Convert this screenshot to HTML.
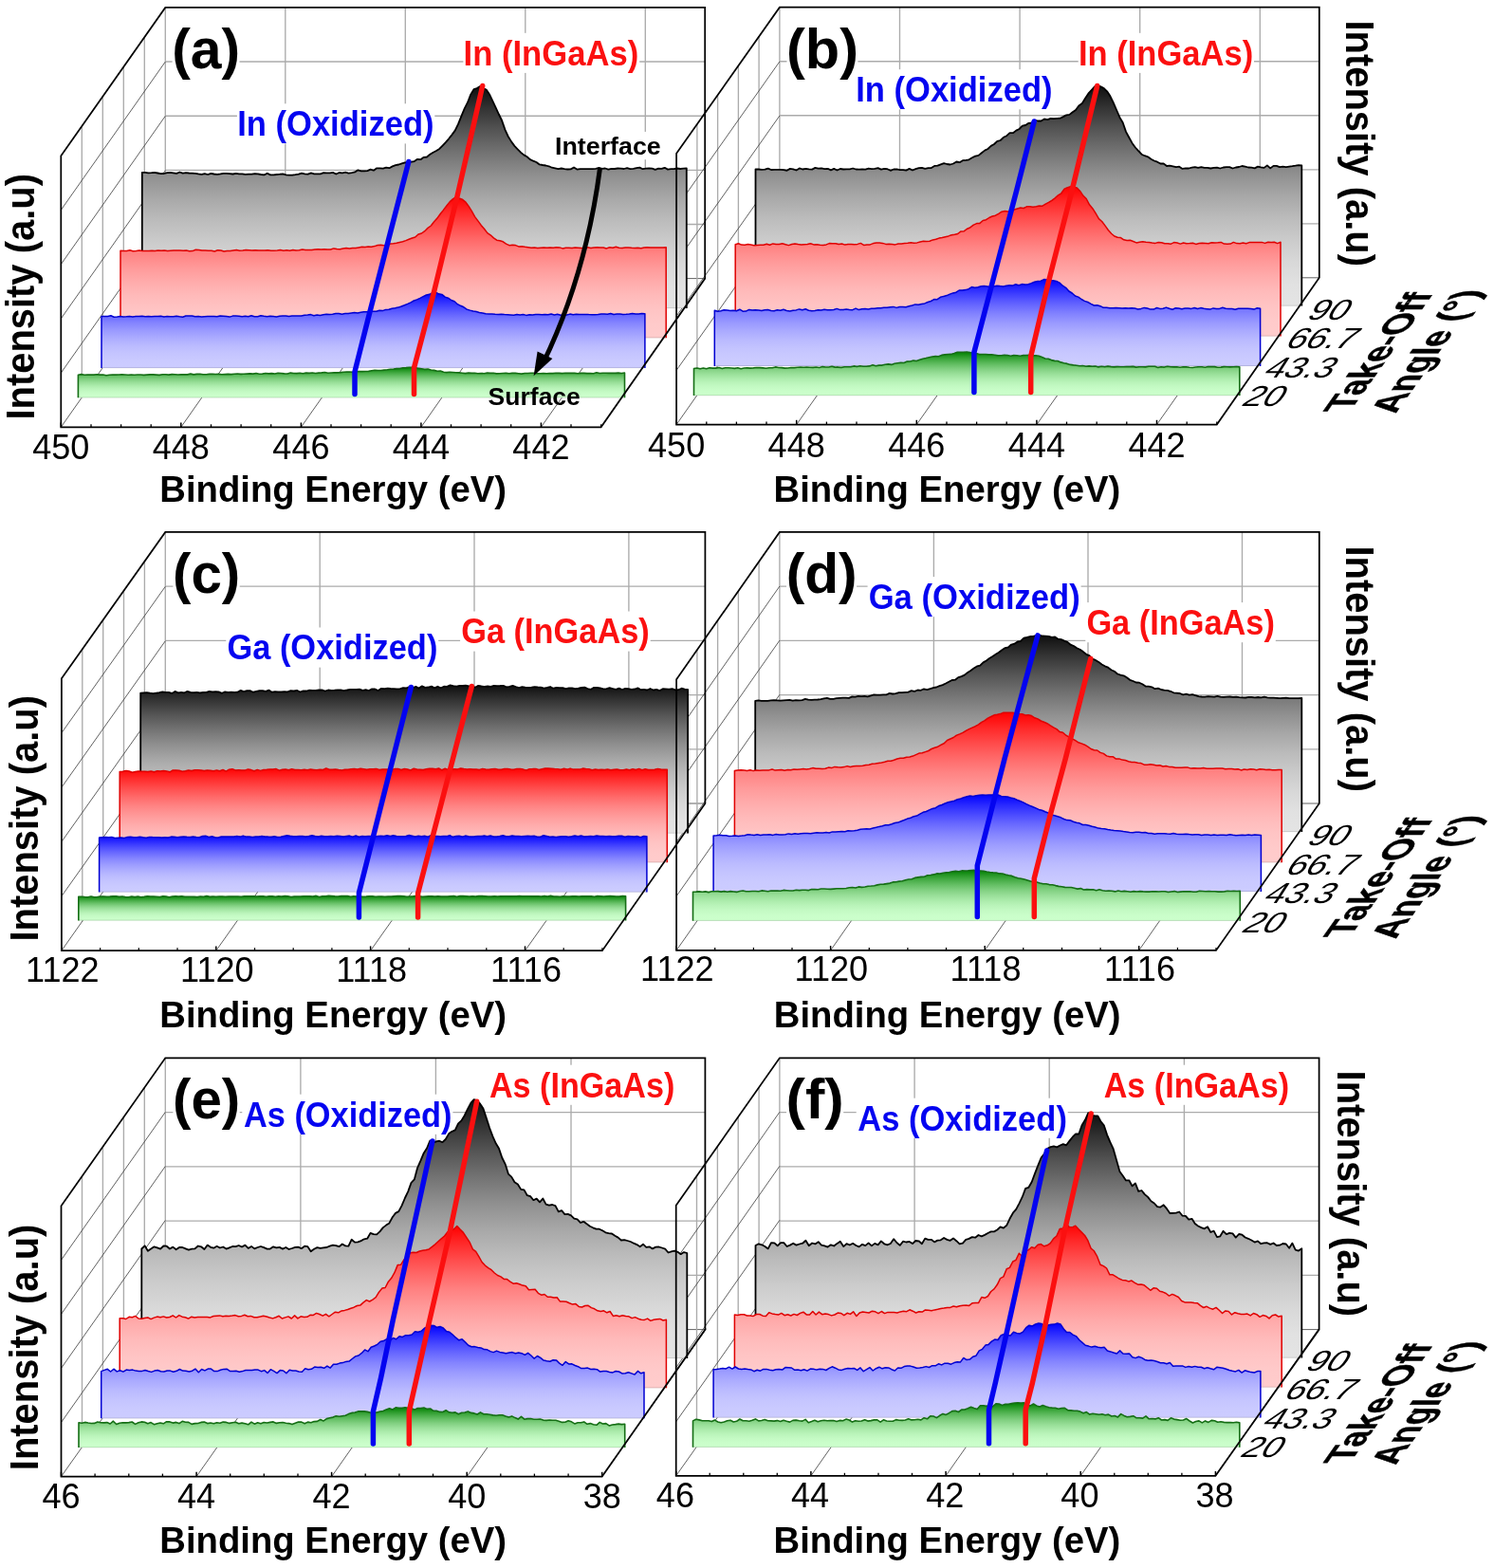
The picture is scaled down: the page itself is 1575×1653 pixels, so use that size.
<!DOCTYPE html>
<html lang="en">
<head>
<meta charset="utf-8">
<title>Angle-resolved XPS of InGaAs: In, Ga and As core levels</title>
<style>
html,body{margin:0;padding:0;background:#fff;}
body{width:1575px;height:1653px;overflow:hidden;font-family:"Liberation Sans", Arial, Helvetica, sans-serif;}
svg{display:block;}
</style>
</head>
<body>
<svg width="1575" height="1653" viewBox="0 0 1575 1653" font-family='"Liberation Sans", Arial, Helvetica, sans-serif'>
<defs><linearGradient id="Gk" x1="0" y1="0" x2="0" y2="1"><stop offset="0" stop-color="#0e0e0e"/><stop offset="0.1" stop-color="#333333"/><stop offset="0.2" stop-color="#555555"/><stop offset="0.3" stop-color="#737373"/><stop offset="0.4" stop-color="#8f8f8f"/><stop offset="0.5" stop-color="#a7a7a7"/><stop offset="0.6" stop-color="#bbbbbb"/><stop offset="0.7" stop-color="#cbcbcb"/><stop offset="0.8" stop-color="#d8d8d8"/><stop offset="0.9" stop-color="#e1e1e1"/><stop offset="1" stop-color="#e4e4e4"/></linearGradient><linearGradient id="Gr" x1="0" y1="0" x2="0" y2="1"><stop offset="0" stop-color="#ff0000"/><stop offset="0.1" stop-color="#ff2727"/><stop offset="0.2" stop-color="#ff4949"/><stop offset="0.3" stop-color="#ff6868"/><stop offset="0.4" stop-color="#ff8383"/><stop offset="0.5" stop-color="#ff9999"/><stop offset="0.6" stop-color="#ffabab"/><stop offset="0.7" stop-color="#ffbaba"/><stop offset="0.8" stop-color="#ffc4c4"/><stop offset="0.9" stop-color="#ffcaca"/><stop offset="1" stop-color="#ffcccc"/></linearGradient><linearGradient id="Gb" x1="0" y1="0" x2="0" y2="1"><stop offset="0" stop-color="#0000ff"/><stop offset="0.1" stop-color="#2727ff"/><stop offset="0.2" stop-color="#4949ff"/><stop offset="0.3" stop-color="#6868ff"/><stop offset="0.4" stop-color="#8383ff"/><stop offset="0.5" stop-color="#9999ff"/><stop offset="0.6" stop-color="#ababff"/><stop offset="0.7" stop-color="#babaff"/><stop offset="0.8" stop-color="#c4c4ff"/><stop offset="0.9" stop-color="#cacaff"/><stop offset="1" stop-color="#ccccff"/></linearGradient><linearGradient id="Gg" x1="0" y1="0" x2="0" y2="1"><stop offset="0" stop-color="#008000"/><stop offset="0.1" stop-color="#279827"/><stop offset="0.2" stop-color="#49ae49"/><stop offset="0.3" stop-color="#68c168"/><stop offset="0.4" stop-color="#83d183"/><stop offset="0.5" stop-color="#99df99"/><stop offset="0.6" stop-color="#abebab"/><stop offset="0.7" stop-color="#baf4ba"/><stop offset="0.8" stop-color="#c4fac4"/><stop offset="0.9" stop-color="#cafeca"/><stop offset="1" stop-color="#ccffcc"/></linearGradient><marker id="ah" markerUnits="userSpaceOnUse" markerWidth="30" markerHeight="30" refX="0" refY="0" viewBox="-15 -15 30 30" orient="auto"><path d="M-14 -8.5 L6 0 L-14 8.5 Z" fill="#000"/></marker></defs>
<rect width="1575" height="1653" fill="#fff"/>
<g id="grid-a"><line x1="174.3" y1="65" x2="743.2" y2="65" stroke="#ababab" stroke-width="1.35" />
<line x1="174.3" y1="122.2" x2="743.2" y2="122.2" stroke="#ababab" stroke-width="1.35" />
<line x1="174.3" y1="179.3" x2="743.2" y2="179.3" stroke="#ababab" stroke-width="1.35" />
<line x1="174.3" y1="236.5" x2="743.2" y2="236.5" stroke="#ababab" stroke-width="1.35" />
<line x1="174.3" y1="293.6" x2="743.2" y2="293.6" stroke="#454545" stroke-width="0.85" />
<line x1="174.3" y1="7.9" x2="174.3" y2="293.6" stroke="#ababab" stroke-width="1.35" />
<line x1="300.8" y1="7.9" x2="300.8" y2="293.6" stroke="#ababab" stroke-width="1.35" />
<line x1="427.3" y1="7.9" x2="427.3" y2="293.6" stroke="#ababab" stroke-width="1.35" />
<line x1="553.8" y1="7.9" x2="553.8" y2="293.6" stroke="#ababab" stroke-width="1.35" />
<line x1="680.3" y1="7.9" x2="680.3" y2="293.6" stroke="#ababab" stroke-width="1.35" />
<line x1="86.3" y1="132.9" x2="86.3" y2="419" stroke="#ababab" stroke-width="1.35" />
<line x1="108.3" y1="101.7" x2="108.3" y2="387.8" stroke="#ababab" stroke-width="1.35" />
<line x1="130.3" y1="70.4" x2="130.3" y2="356.5" stroke="#ababab" stroke-width="1.35" />
<line x1="152.3" y1="39.2" x2="152.3" y2="325.3" stroke="#ababab" stroke-width="1.35" />
<line x1="64.3" y1="221.4" x2="174.3" y2="65.1" stroke="#454545" stroke-width="0.85" />
<line x1="64.3" y1="278.6" x2="174.3" y2="122.3" stroke="#454545" stroke-width="0.85" />
<line x1="64.3" y1="335.9" x2="174.3" y2="179.6" stroke="#454545" stroke-width="0.85" />
<line x1="64.3" y1="393.1" x2="174.3" y2="236.8" stroke="#454545" stroke-width="0.85" />
<line x1="64.3" y1="450.3" x2="174.3" y2="293.6" stroke="#454545" stroke-width="0.85" />
<line x1="190.8" y1="450.3" x2="300.8" y2="294" stroke="#454545" stroke-width="0.85" />
<line x1="317.4" y1="450.3" x2="427.3" y2="294" stroke="#454545" stroke-width="0.85" />
<line x1="443.9" y1="450.3" x2="553.8" y2="294" stroke="#454545" stroke-width="0.85" />
<line x1="570.4" y1="450.3" x2="680.3" y2="294" stroke="#454545" stroke-width="0.85" /></g>
<g id="grid-b"><line x1="821.9" y1="64.7" x2="1390.8" y2="64.7" stroke="#ababab" stroke-width="1.35" />
<line x1="821.9" y1="121.7" x2="1390.8" y2="121.7" stroke="#ababab" stroke-width="1.35" />
<line x1="821.9" y1="178.8" x2="1390.8" y2="178.8" stroke="#ababab" stroke-width="1.35" />
<line x1="821.9" y1="235.8" x2="1390.8" y2="235.8" stroke="#ababab" stroke-width="1.35" />
<line x1="821.9" y1="292.8" x2="1390.8" y2="292.8" stroke="#454545" stroke-width="0.85" />
<line x1="821.9" y1="7.7" x2="821.9" y2="292.8" stroke="#ababab" stroke-width="1.35" />
<line x1="948.5" y1="7.7" x2="948.5" y2="292.8" stroke="#ababab" stroke-width="1.35" />
<line x1="1075.1" y1="7.7" x2="1075.1" y2="292.8" stroke="#ababab" stroke-width="1.35" />
<line x1="1201.7" y1="7.7" x2="1201.7" y2="292.8" stroke="#ababab" stroke-width="1.35" />
<line x1="1328.3" y1="7.7" x2="1328.3" y2="292.8" stroke="#ababab" stroke-width="1.35" />
<line x1="734.9" y1="131" x2="734.9" y2="416.8" stroke="#ababab" stroke-width="1.35" />
<line x1="756.6" y1="100.2" x2="756.6" y2="386" stroke="#ababab" stroke-width="1.35" />
<line x1="778.4" y1="69.3" x2="778.4" y2="355.1" stroke="#ababab" stroke-width="1.35" />
<line x1="800.1" y1="38.5" x2="800.1" y2="324.3" stroke="#ababab" stroke-width="1.35" />
<line x1="713.1" y1="219" x2="821.9" y2="64.9" stroke="#454545" stroke-width="0.85" />
<line x1="713.1" y1="276.1" x2="821.9" y2="122" stroke="#454545" stroke-width="0.85" />
<line x1="713.1" y1="333.3" x2="821.9" y2="179.2" stroke="#454545" stroke-width="0.85" />
<line x1="713.1" y1="390.4" x2="821.9" y2="236.3" stroke="#454545" stroke-width="0.85" />
<line x1="713.1" y1="447.6" x2="821.9" y2="292.8" stroke="#454545" stroke-width="0.85" />
<line x1="839.7" y1="447.6" x2="948.5" y2="293.5" stroke="#454545" stroke-width="0.85" />
<line x1="966.3" y1="447.6" x2="1075.1" y2="293.5" stroke="#454545" stroke-width="0.85" />
<line x1="1092.9" y1="447.6" x2="1201.7" y2="293.5" stroke="#454545" stroke-width="0.85" />
<line x1="1219.5" y1="447.6" x2="1328.3" y2="293.5" stroke="#454545" stroke-width="0.85" /></g>
<g id="grid-c"><line x1="174.3" y1="618.1" x2="743.4" y2="618.1" stroke="#ababab" stroke-width="1.35" />
<line x1="174.3" y1="675.3" x2="743.4" y2="675.3" stroke="#ababab" stroke-width="1.35" />
<line x1="174.3" y1="732.6" x2="743.4" y2="732.6" stroke="#ababab" stroke-width="1.35" />
<line x1="174.3" y1="789.8" x2="743.4" y2="789.8" stroke="#ababab" stroke-width="1.35" />
<line x1="174.3" y1="847" x2="743.4" y2="847" stroke="#454545" stroke-width="0.85" />
<line x1="174.3" y1="560.9" x2="174.3" y2="847" stroke="#ababab" stroke-width="1.35" />
<line x1="337.2" y1="560.9" x2="337.2" y2="847" stroke="#ababab" stroke-width="1.35" />
<line x1="500" y1="560.9" x2="500" y2="847" stroke="#ababab" stroke-width="1.35" />
<line x1="662.9" y1="560.9" x2="662.9" y2="847" stroke="#ababab" stroke-width="1.35" />
<line x1="86.8" y1="684.4" x2="86.8" y2="971.3" stroke="#ababab" stroke-width="1.35" />
<line x1="108.7" y1="653.5" x2="108.7" y2="940.4" stroke="#ababab" stroke-width="1.35" />
<line x1="130.5" y1="622.7" x2="130.5" y2="909.6" stroke="#ababab" stroke-width="1.35" />
<line x1="152.4" y1="591.8" x2="152.4" y2="878.7" stroke="#ababab" stroke-width="1.35" />
<line x1="64.9" y1="772.7" x2="174.3" y2="618.3" stroke="#454545" stroke-width="0.85" />
<line x1="64.9" y1="830.1" x2="174.3" y2="675.7" stroke="#454545" stroke-width="0.85" />
<line x1="64.9" y1="887.4" x2="174.3" y2="733" stroke="#454545" stroke-width="0.85" />
<line x1="64.9" y1="944.8" x2="174.3" y2="790.4" stroke="#454545" stroke-width="0.85" />
<line x1="64.9" y1="1002.2" x2="174.3" y2="847" stroke="#454545" stroke-width="0.85" />
<line x1="227.8" y1="1002.2" x2="337.2" y2="847.8" stroke="#454545" stroke-width="0.85" />
<line x1="390.6" y1="1002.2" x2="500" y2="847.8" stroke="#454545" stroke-width="0.85" />
<line x1="553.5" y1="1002.2" x2="662.9" y2="847.8" stroke="#454545" stroke-width="0.85" /></g>
<g id="grid-d"><line x1="821.9" y1="618.1" x2="1390.8" y2="618.1" stroke="#ababab" stroke-width="1.35" />
<line x1="821.9" y1="675.3" x2="1390.8" y2="675.3" stroke="#ababab" stroke-width="1.35" />
<line x1="821.9" y1="732.6" x2="1390.8" y2="732.6" stroke="#ababab" stroke-width="1.35" />
<line x1="821.9" y1="789.8" x2="1390.8" y2="789.8" stroke="#ababab" stroke-width="1.35" />
<line x1="821.9" y1="847" x2="1390.8" y2="847" stroke="#454545" stroke-width="0.85" />
<line x1="821.9" y1="560.9" x2="821.9" y2="847" stroke="#ababab" stroke-width="1.35" />
<line x1="984.4" y1="560.9" x2="984.4" y2="847" stroke="#ababab" stroke-width="1.35" />
<line x1="1147" y1="560.9" x2="1147" y2="847" stroke="#ababab" stroke-width="1.35" />
<line x1="1309.5" y1="560.9" x2="1309.5" y2="847" stroke="#ababab" stroke-width="1.35" />
<line x1="734.9" y1="685.2" x2="734.9" y2="970.8" stroke="#ababab" stroke-width="1.35" />
<line x1="756.6" y1="654.1" x2="756.6" y2="939.7" stroke="#ababab" stroke-width="1.35" />
<line x1="778.4" y1="623.1" x2="778.4" y2="908.7" stroke="#ababab" stroke-width="1.35" />
<line x1="800.1" y1="592" x2="800.1" y2="877.6" stroke="#ababab" stroke-width="1.35" />
<line x1="713.1" y1="773.4" x2="821.9" y2="618" stroke="#454545" stroke-width="0.85" />
<line x1="713.1" y1="830.5" x2="821.9" y2="675.1" stroke="#454545" stroke-width="0.85" />
<line x1="713.1" y1="887.7" x2="821.9" y2="732.3" stroke="#454545" stroke-width="0.85" />
<line x1="713.1" y1="944.8" x2="821.9" y2="789.4" stroke="#454545" stroke-width="0.85" />
<line x1="713.1" y1="1001.9" x2="821.9" y2="847" stroke="#454545" stroke-width="0.85" />
<line x1="875.6" y1="1001.9" x2="984.4" y2="846.5" stroke="#454545" stroke-width="0.85" />
<line x1="1038.2" y1="1001.9" x2="1147" y2="846.5" stroke="#454545" stroke-width="0.85" />
<line x1="1200.7" y1="1001.9" x2="1309.5" y2="846.5" stroke="#454545" stroke-width="0.85" /></g>
<g id="grid-e"><line x1="174.3" y1="1172.6" x2="743.4" y2="1172.6" stroke="#ababab" stroke-width="1.35" />
<line x1="174.3" y1="1229.8" x2="743.4" y2="1229.8" stroke="#ababab" stroke-width="1.35" />
<line x1="174.3" y1="1287.1" x2="743.4" y2="1287.1" stroke="#ababab" stroke-width="1.35" />
<line x1="174.3" y1="1344.3" x2="743.4" y2="1344.3" stroke="#ababab" stroke-width="1.35" />
<line x1="174.3" y1="1401.6" x2="743.4" y2="1401.6" stroke="#454545" stroke-width="0.85" />
<line x1="174.3" y1="1115.3" x2="174.3" y2="1401.6" stroke="#ababab" stroke-width="1.35" />
<line x1="316.9" y1="1115.3" x2="316.9" y2="1401.6" stroke="#ababab" stroke-width="1.35" />
<line x1="459.4" y1="1115.3" x2="459.4" y2="1401.6" stroke="#ababab" stroke-width="1.35" />
<line x1="602" y1="1115.3" x2="602" y2="1401.6" stroke="#ababab" stroke-width="1.35" />
<line x1="86.5" y1="1240" x2="86.5" y2="1525.4" stroke="#ababab" stroke-width="1.35" />
<line x1="108.4" y1="1208.8" x2="108.4" y2="1494.2" stroke="#ababab" stroke-width="1.35" />
<line x1="130.4" y1="1177.7" x2="130.4" y2="1463.1" stroke="#ababab" stroke-width="1.35" />
<line x1="152.3" y1="1146.5" x2="152.3" y2="1431.9" stroke="#ababab" stroke-width="1.35" />
<line x1="64.5" y1="1328.3" x2="174.3" y2="1172.4" stroke="#454545" stroke-width="0.85" />
<line x1="64.5" y1="1385.4" x2="174.3" y2="1229.5" stroke="#454545" stroke-width="0.85" />
<line x1="64.5" y1="1442.4" x2="174.3" y2="1286.5" stroke="#454545" stroke-width="0.85" />
<line x1="64.5" y1="1499.5" x2="174.3" y2="1343.6" stroke="#454545" stroke-width="0.85" />
<line x1="64.5" y1="1556.6" x2="174.3" y2="1401.6" stroke="#454545" stroke-width="0.85" />
<line x1="207.1" y1="1556.6" x2="316.9" y2="1400.7" stroke="#454545" stroke-width="0.85" />
<line x1="349.6" y1="1556.6" x2="459.4" y2="1400.7" stroke="#454545" stroke-width="0.85" />
<line x1="492.2" y1="1556.6" x2="602" y2="1400.7" stroke="#454545" stroke-width="0.85" />
<line x1="634.7" y1="1556.6" x2="744.5" y2="1400.7" stroke="#454545" stroke-width="0.85" /></g>
<g id="grid-f"><line x1="821.9" y1="1172.6" x2="1390.6" y2="1172.6" stroke="#ababab" stroke-width="1.35" />
<line x1="821.9" y1="1229.8" x2="1390.6" y2="1229.8" stroke="#ababab" stroke-width="1.35" />
<line x1="821.9" y1="1287.1" x2="1390.6" y2="1287.1" stroke="#ababab" stroke-width="1.35" />
<line x1="821.9" y1="1344.3" x2="1390.6" y2="1344.3" stroke="#ababab" stroke-width="1.35" />
<line x1="821.9" y1="1401.6" x2="1390.6" y2="1401.6" stroke="#454545" stroke-width="0.85" />
<line x1="821.9" y1="1115.3" x2="821.9" y2="1401.6" stroke="#ababab" stroke-width="1.35" />
<line x1="964.1" y1="1115.3" x2="964.1" y2="1401.6" stroke="#ababab" stroke-width="1.35" />
<line x1="1106.2" y1="1115.3" x2="1106.2" y2="1401.6" stroke="#ababab" stroke-width="1.35" />
<line x1="1248.4" y1="1115.3" x2="1248.4" y2="1401.6" stroke="#ababab" stroke-width="1.35" />
<line x1="734.5" y1="1239.7" x2="734.5" y2="1524.7" stroke="#ababab" stroke-width="1.35" />
<line x1="756.4" y1="1208.6" x2="756.4" y2="1493.6" stroke="#ababab" stroke-width="1.35" />
<line x1="778.2" y1="1177.5" x2="778.2" y2="1462.5" stroke="#ababab" stroke-width="1.35" />
<line x1="800.1" y1="1146.4" x2="800.1" y2="1431.4" stroke="#ababab" stroke-width="1.35" />
<line x1="712.7" y1="1327.8" x2="821.9" y2="1172.3" stroke="#454545" stroke-width="0.85" />
<line x1="712.7" y1="1384.8" x2="821.9" y2="1229.3" stroke="#454545" stroke-width="0.85" />
<line x1="712.7" y1="1441.8" x2="821.9" y2="1286.3" stroke="#454545" stroke-width="0.85" />
<line x1="712.7" y1="1498.8" x2="821.9" y2="1343.3" stroke="#454545" stroke-width="0.85" />
<line x1="712.7" y1="1555.8" x2="821.9" y2="1401.6" stroke="#454545" stroke-width="0.85" />
<line x1="854.9" y1="1555.8" x2="964.1" y2="1400.3" stroke="#454545" stroke-width="0.85" />
<line x1="997.1" y1="1555.8" x2="1106.2" y2="1400.3" stroke="#454545" stroke-width="0.85" />
<line x1="1139.2" y1="1555.8" x2="1248.4" y2="1400.3" stroke="#454545" stroke-width="0.85" />
<line x1="1281.4" y1="1555.8" x2="1390.6" y2="1400.3" stroke="#454545" stroke-width="0.85" /></g>
<g id="label-bg"><rect x="181.6" y="17.5" width="70.9" height="67.2" fill="#fff"/><rect x="249.9" y="109.3" width="208.4" height="42.1" fill="#fff"/><rect x="488.4" y="34.8" width="185.8" height="42.1" fill="#fff"/><rect x="584.2" y="138.9" width="114.2" height="29.3" fill="#fff"/><rect x="829.5" y="17.5" width="74.9" height="67.2" fill="#fff"/><rect x="901.9" y="73.2" width="208.4" height="42.1" fill="#fff"/><rect x="1136.7" y="34.8" width="185.3" height="42.1" fill="#fff"/><rect x="182.4" y="571.3" width="70.3" height="67.2" fill="#fff"/><rect x="238.3" y="661.5" width="223.9" height="42.1" fill="#fff"/><rect x="485.1" y="644.5" width="200.6" height="42.1" fill="#fff"/><rect x="829.1" y="571.3" width="74" height="67.2" fill="#fff"/><rect x="914.6" y="608.1" width="225" height="42.1" fill="#fff"/><rect x="1144.3" y="635.1" width="200.5" height="42.1" fill="#fff"/><rect x="182.4" y="1125.1" width="70.3" height="67.2" fill="#fff"/><rect x="255.3" y="1153.7" width="222.1" height="42.1" fill="#fff"/><rect x="514.3" y="1122.7" width="198" height="42.1" fill="#fff"/><rect x="829.1" y="1125.1" width="60.1" height="67.2" fill="#fff"/><rect x="902.7" y="1157.7" width="223" height="42.1" fill="#fff"/><rect x="1162.1" y="1122.7" width="198" height="42.1" fill="#fff"/></g>
<g id="panel-a"><path d="M149.8 325 L149.8 181.8 L153.1 181.8 L156.4 182.4 L159.7 182.2 L163 181.9 L166.3 182.5 L169.6 183.2 L172.9 183 L176.2 182.1 L179.5 181.8 L182.8 182.3 L186.1 182.8 L189.4 181.5 L192.7 182.7 L196 182.2 L199.3 182.5 L202.6 182.7 L205.9 182.9 L209.2 183.4 L212.5 183.8 L215.8 183.1 L219.1 184 L222.4 182.8 L225.7 183.5 L229 183.8 L232.3 183.4 L235.6 182.9 L238.9 182.8 L242.2 183.1 L245.5 183.5 L248.8 182.8 L252.1 183.3 L255.4 183.4 L258.7 183.8 L262 183.6 L265.3 183.7 L268.6 183.1 L271.9 183.4 L275.2 184 L278.5 184.4 L281.8 182.7 L285.1 184.4 L288.4 184.3 L291.7 184 L294.9 183.7 L298.2 183.3 L301.5 184.4 L304.8 184.7 L308.1 184.6 L311.4 184.2 L314.7 183.6 L318 182.6 L321.3 183.3 L324.6 183.6 L327.9 182.4 L331.2 183.4 L334.5 183.3 L337.8 183.4 L341.1 182.2 L344.4 182.4 L347.7 182.4 L351 181.9 L354.3 183.5 L357.6 182 L360.9 182.3 L364.2 181.7 L367.5 182.6 L370.8 182.1 L374.1 181.4 L377.4 179.3 L380.7 180.3 L384 180.3 L387.3 180.1 L390.6 178.7 L393.9 179.7 L397.2 177.3 L400.5 177.3 L403.8 177.7 L407.1 176.6 L410.4 177.2 L413.7 175.4 L417 174.2 L420.3 173.5 L423.6 172.3 L426.9 171.3 L430.2 171.5 L433.5 170.6 L436.8 170.1 L440.1 167.8 L443.4 168.2 L446.7 165.8 L450 165.5 L453.3 162.8 L456.6 160.7 L459.9 159 L463.2 156.9 L466.5 153.6 L469.8 150.2 L473.1 146.3 L476.4 142.1 L479.7 137.6 L483 130.9 L486.3 122.6 L489.6 114.6 L492.9 108.2 L496.2 99.6 L499.5 94.1 L502.8 93 L506.1 91 L509.4 93.1 L512.7 94.5 L516 99.4 L519.3 106.4 L522.6 113.3 L525.9 120.5 L529.2 127.2 L532.5 136.9 L535.8 144 L539.1 149.4 L542.4 153.9 L545.7 157.3 L549 160.7 L552.3 163.4 L555.6 165.2 L558.9 168.1 L562.2 169.7 L565.5 171 L568.8 173.4 L572.1 174 L575.4 174.5 L578.7 175.3 L581.9 176.7 L585.2 177.3 L588.5 178.2 L591.8 177.5 L595.1 178.2 L598.4 178.5 L601.7 178.4 L605 176.5 L608.3 178.6 L611.6 178.1 L614.9 178.2 L618.2 178.2 L621.5 178.2 L624.8 178.2 L628.1 177.8 L631.4 176.9 L634.7 177.9 L638 177.5 L641.3 178.6 L644.6 177.8 L647.9 178 L651.2 177.5 L654.5 177.7 L657.8 178 L661.1 177.1 L664.4 178.1 L667.7 177.9 L671 177.2 L674.3 176.6 L677.6 178.2 L680.9 177.7 L684.2 177.5 L687.5 177.7 L690.8 178.9 L694.1 177.7 L697.4 177.8 L700.7 176.8 L704 178.6 L707.3 178.2 L710.6 178.2 L713.9 177.5 L717.2 178 L720.5 177.6 L723.8 177.3 L723.8 325 Z" fill="url(#Gk)"/>
<path d="M149.8 325 L149.8 181.8 L153.1 181.8 L156.4 182.4 L159.7 182.2 L163 181.9 L166.3 182.5 L169.6 183.2 L172.9 183 L176.2 182.1 L179.5 181.8 L182.8 182.3 L186.1 182.8 L189.4 181.5 L192.7 182.7 L196 182.2 L199.3 182.5 L202.6 182.7 L205.9 182.9 L209.2 183.4 L212.5 183.8 L215.8 183.1 L219.1 184 L222.4 182.8 L225.7 183.5 L229 183.8 L232.3 183.4 L235.6 182.9 L238.9 182.8 L242.2 183.1 L245.5 183.5 L248.8 182.8 L252.1 183.3 L255.4 183.4 L258.7 183.8 L262 183.6 L265.3 183.7 L268.6 183.1 L271.9 183.4 L275.2 184 L278.5 184.4 L281.8 182.7 L285.1 184.4 L288.4 184.3 L291.7 184 L294.9 183.7 L298.2 183.3 L301.5 184.4 L304.8 184.7 L308.1 184.6 L311.4 184.2 L314.7 183.6 L318 182.6 L321.3 183.3 L324.6 183.6 L327.9 182.4 L331.2 183.4 L334.5 183.3 L337.8 183.4 L341.1 182.2 L344.4 182.4 L347.7 182.4 L351 181.9 L354.3 183.5 L357.6 182 L360.9 182.3 L364.2 181.7 L367.5 182.6 L370.8 182.1 L374.1 181.4 L377.4 179.3 L380.7 180.3 L384 180.3 L387.3 180.1 L390.6 178.7 L393.9 179.7 L397.2 177.3 L400.5 177.3 L403.8 177.7 L407.1 176.6 L410.4 177.2 L413.7 175.4 L417 174.2 L420.3 173.5 L423.6 172.3 L426.9 171.3 L430.2 171.5 L433.5 170.6 L436.8 170.1 L440.1 167.8 L443.4 168.2 L446.7 165.8 L450 165.5 L453.3 162.8 L456.6 160.7 L459.9 159 L463.2 156.9 L466.5 153.6 L469.8 150.2 L473.1 146.3 L476.4 142.1 L479.7 137.6 L483 130.9 L486.3 122.6 L489.6 114.6 L492.9 108.2 L496.2 99.6 L499.5 94.1 L502.8 93 L506.1 91 L509.4 93.1 L512.7 94.5 L516 99.4 L519.3 106.4 L522.6 113.3 L525.9 120.5 L529.2 127.2 L532.5 136.9 L535.8 144 L539.1 149.4 L542.4 153.9 L545.7 157.3 L549 160.7 L552.3 163.4 L555.6 165.2 L558.9 168.1 L562.2 169.7 L565.5 171 L568.8 173.4 L572.1 174 L575.4 174.5 L578.7 175.3 L581.9 176.7 L585.2 177.3 L588.5 178.2 L591.8 177.5 L595.1 178.2 L598.4 178.5 L601.7 178.4 L605 176.5 L608.3 178.6 L611.6 178.1 L614.9 178.2 L618.2 178.2 L621.5 178.2 L624.8 178.2 L628.1 177.8 L631.4 176.9 L634.7 177.9 L638 177.5 L641.3 178.6 L644.6 177.8 L647.9 178 L651.2 177.5 L654.5 177.7 L657.8 178 L661.1 177.1 L664.4 178.1 L667.7 177.9 L671 177.2 L674.3 176.6 L677.6 178.2 L680.9 177.7 L684.2 177.5 L687.5 177.7 L690.8 178.9 L694.1 177.7 L697.4 177.8 L700.7 176.8 L704 178.6 L707.3 178.2 L710.6 178.2 L713.9 177.5 L717.2 178 L720.5 177.6 L723.8 177.3 L723.8 325" fill="none" stroke="#000000" stroke-width="1.8" stroke-linejoin="round"/>
<path d="M149.8 324.7 H723.8" fill="none" stroke="#000" stroke-opacity="0.13" stroke-width="1"/>
<path d="M127 356.2 L127 264.3 L130.3 264.6 L133.6 264.4 L136.9 263.8 L140.2 264.7 L143.5 264.5 L146.8 264.1 L150.1 264.5 L153.4 264.4 L156.8 264.4 L160.1 264.3 L163.4 264.5 L166.7 264 L170 264.2 L173.3 264.1 L176.6 264.5 L179.9 264.3 L183.2 264.1 L186.5 263.9 L189.8 264.1 L193.1 264.3 L196.4 264.1 L199.7 264.8 L203 264.6 L206.3 263.3 L209.6 263.5 L212.9 264.1 L216.3 264 L219.6 264.3 L222.9 264.3 L226.2 265 L229.5 263.7 L232.8 264 L236.1 265 L239.4 264.4 L242.7 264.4 L246 263.9 L249.3 263.5 L252.6 264.2 L255.9 264.1 L259.2 263.6 L262.5 263.8 L265.8 264 L269.1 263.7 L272.5 264 L275.8 264 L279.1 264 L282.4 263.8 L285.7 264.2 L289 264.3 L292.3 264.1 L295.6 263.6 L298.9 264.2 L302.2 263.7 L305.5 264.2 L308.8 263.4 L312.1 264.1 L315.4 263.7 L318.7 263.1 L322 263.4 L325.3 263.5 L328.7 263.5 L332 262.9 L335.3 262.7 L338.6 263.1 L341.9 262.7 L345.2 262.9 L348.5 263 L351.8 261.9 L355.1 262.5 L358.4 262.8 L361.7 262 L365 261.6 L368.3 262 L371.6 261.6 L374.9 261.6 L378.2 260.9 L381.5 260.2 L384.8 260.4 L388.2 260 L391.5 260.2 L394.8 259.6 L398.1 258.5 L401.4 258.3 L404.7 258.8 L408 258.2 L411.3 257.1 L414.6 256.7 L417.9 256.2 L421.2 255.4 L424.5 254.7 L427.8 253.6 L431.1 252.3 L434.4 251 L437.7 250 L441 247 L444.4 246 L447.7 243.7 L451 240.4 L454.3 238 L457.6 233.7 L460.9 230.1 L464.2 225.5 L467.5 221.4 L470.8 217 L474.1 212.9 L477.4 209.8 L480.7 207.7 L484 209 L487.3 210.2 L490.6 212.8 L493.9 217.1 L497.2 222.3 L500.5 228.4 L503.9 232.9 L507.2 237.4 L510.5 241.3 L513.8 245.6 L517.1 247.8 L520.4 250.9 L523.7 253.2 L527 253.7 L530.3 254.8 L533.6 257.1 L536.9 258.7 L540.2 258.2 L543.5 258.6 L546.8 259.9 L550.1 259.8 L553.4 260.3 L556.7 260.7 L560.1 261.3 L563.4 261.1 L566.7 261.4 L570 261.2 L573.3 261 L576.6 261.2 L579.9 260.9 L583.2 261.3 L586.5 260.8 L589.8 260.9 L593.1 261.9 L596.4 261.3 L599.7 261.3 L603 261.5 L606.3 261.1 L609.6 261.2 L612.9 261.5 L616.3 261.4 L619.6 260.8 L622.9 261.6 L626.2 261 L629.5 260.8 L632.8 260.9 L636.1 261.1 L639.4 261.9 L642.7 260.7 L646 261.3 L649.3 260.3 L652.6 261.2 L655.9 261.5 L659.2 261 L662.5 260.9 L665.8 261.2 L669.1 261.4 L672.4 261.3 L675.8 261.8 L679.1 261.1 L682.4 260.8 L685.7 260.9 L689 260.9 L692.3 260.9 L695.6 260.9 L698.9 260.9 L702.2 260.8 L702.2 356.2 Z" fill="url(#Gr)"/>
<path d="M127 356.2 L127 264.3 L130.3 264.6 L133.6 264.4 L136.9 263.8 L140.2 264.7 L143.5 264.5 L146.8 264.1 L150.1 264.5 L153.4 264.4 L156.8 264.4 L160.1 264.3 L163.4 264.5 L166.7 264 L170 264.2 L173.3 264.1 L176.6 264.5 L179.9 264.3 L183.2 264.1 L186.5 263.9 L189.8 264.1 L193.1 264.3 L196.4 264.1 L199.7 264.8 L203 264.6 L206.3 263.3 L209.6 263.5 L212.9 264.1 L216.3 264 L219.6 264.3 L222.9 264.3 L226.2 265 L229.5 263.7 L232.8 264 L236.1 265 L239.4 264.4 L242.7 264.4 L246 263.9 L249.3 263.5 L252.6 264.2 L255.9 264.1 L259.2 263.6 L262.5 263.8 L265.8 264 L269.1 263.7 L272.5 264 L275.8 264 L279.1 264 L282.4 263.8 L285.7 264.2 L289 264.3 L292.3 264.1 L295.6 263.6 L298.9 264.2 L302.2 263.7 L305.5 264.2 L308.8 263.4 L312.1 264.1 L315.4 263.7 L318.7 263.1 L322 263.4 L325.3 263.5 L328.7 263.5 L332 262.9 L335.3 262.7 L338.6 263.1 L341.9 262.7 L345.2 262.9 L348.5 263 L351.8 261.9 L355.1 262.5 L358.4 262.8 L361.7 262 L365 261.6 L368.3 262 L371.6 261.6 L374.9 261.6 L378.2 260.9 L381.5 260.2 L384.8 260.4 L388.2 260 L391.5 260.2 L394.8 259.6 L398.1 258.5 L401.4 258.3 L404.7 258.8 L408 258.2 L411.3 257.1 L414.6 256.7 L417.9 256.2 L421.2 255.4 L424.5 254.7 L427.8 253.6 L431.1 252.3 L434.4 251 L437.7 250 L441 247 L444.4 246 L447.7 243.7 L451 240.4 L454.3 238 L457.6 233.7 L460.9 230.1 L464.2 225.5 L467.5 221.4 L470.8 217 L474.1 212.9 L477.4 209.8 L480.7 207.7 L484 209 L487.3 210.2 L490.6 212.8 L493.9 217.1 L497.2 222.3 L500.5 228.4 L503.9 232.9 L507.2 237.4 L510.5 241.3 L513.8 245.6 L517.1 247.8 L520.4 250.9 L523.7 253.2 L527 253.7 L530.3 254.8 L533.6 257.1 L536.9 258.7 L540.2 258.2 L543.5 258.6 L546.8 259.9 L550.1 259.8 L553.4 260.3 L556.7 260.7 L560.1 261.3 L563.4 261.1 L566.7 261.4 L570 261.2 L573.3 261 L576.6 261.2 L579.9 260.9 L583.2 261.3 L586.5 260.8 L589.8 260.9 L593.1 261.9 L596.4 261.3 L599.7 261.3 L603 261.5 L606.3 261.1 L609.6 261.2 L612.9 261.5 L616.3 261.4 L619.6 260.8 L622.9 261.6 L626.2 261 L629.5 260.8 L632.8 260.9 L636.1 261.1 L639.4 261.9 L642.7 260.7 L646 261.3 L649.3 260.3 L652.6 261.2 L655.9 261.5 L659.2 261 L662.5 260.9 L665.8 261.2 L669.1 261.4 L672.4 261.3 L675.8 261.8 L679.1 261.1 L682.4 260.8 L685.7 260.9 L689 260.9 L692.3 260.9 L695.6 260.9 L698.9 260.9 L702.2 260.8 L702.2 356.2" fill="none" stroke="#e00000" stroke-width="1.5" stroke-linejoin="round"/>
<path d="M127 355.9 H702.2" fill="none" stroke="#000" stroke-opacity="0.13" stroke-width="1"/>
<path d="M107 388 L107 333.6 L110.3 333.4 L113.6 333.5 L116.9 332.8 L120.2 334.2 L123.5 334 L126.8 333.5 L130 333.9 L133.3 333.7 L136.6 333.4 L139.9 333.9 L143.2 333.5 L146.5 333.5 L149.8 333.3 L153.1 333.7 L156.4 333.5 L159.7 333.8 L163 333.4 L166.3 333.6 L169.6 333.3 L172.9 333.9 L176.1 333.6 L179.4 333.7 L182.7 333.7 L186 333.2 L189.3 333.8 L192.6 334.3 L195.9 333 L199.2 332.9 L202.5 333 L205.8 333.8 L209.1 333.5 L212.4 333.9 L215.7 333.7 L218.9 333.6 L222.2 333.6 L225.5 333.4 L228.8 333.8 L232.1 333.1 L235.4 333.3 L238.7 333.5 L242 334.1 L245.3 333.1 L248.6 333 L251.9 333.2 L255.2 333.7 L258.5 333.3 L261.7 333.8 L265 332.7 L268.3 333.7 L271.6 333.7 L274.9 332.8 L278.2 333.3 L281.5 333.7 L284.8 333.3 L288.1 333.6 L291.4 334 L294.7 333.3 L298 333.1 L301.3 332.9 L304.6 333.4 L307.8 333 L311.1 333 L314.4 332.9 L317.7 333 L321 332.3 L324.3 332 L327.6 331.6 L330.9 332.7 L334.2 332.1 L337.5 332.4 L340.8 331.7 L344.1 331.3 L347.4 331.5 L350.6 331.2 L353.9 330.6 L357.2 330.5 L360.5 331.3 L363.8 330.6 L367.1 330.4 L370.4 330 L373.7 329.6 L377 329.9 L380.3 329.3 L383.6 328.8 L386.9 328.7 L390.2 328.2 L393.4 328.2 L396.7 328.2 L400 327.2 L403.3 327.6 L406.6 326.4 L409.9 326.2 L413.2 325.2 L416.5 324.7 L419.8 324.1 L423.1 323 L426.4 321.8 L429.7 320.4 L433 318.8 L436.3 317 L439.5 315.9 L442.8 314.4 L446.1 312.7 L449.4 311 L452.7 310.3 L456 308.7 L459.3 308.2 L462.6 309.8 L465.9 310.4 L469.2 313.1 L472.5 314.2 L475.8 316.5 L479.1 317.7 L482.3 320.7 L485.6 322.3 L488.9 323.8 L492.2 326.1 L495.5 327.1 L498.8 328 L502.1 328.6 L505.4 329.4 L508.7 329.9 L512 330.7 L515.3 331.1 L518.6 331 L521.9 331.3 L525.2 331.5 L528.4 331.2 L531.7 331.5 L535 331.7 L538.3 331.9 L541.6 332.2 L544.9 331.4 L548.2 331.9 L551.5 331.5 L554.8 332.4 L558.1 331.7 L561.4 331.9 L564.7 331.4 L568 331.4 L571.2 331.7 L574.5 331.5 L577.8 331.8 L581.1 331.1 L584.4 331.9 L587.7 331.3 L591 332.2 L594.3 331.5 L597.6 332 L600.9 331.1 L604.2 331.7 L607.5 331.2 L610.8 331.4 L614 331.5 L617.3 331.4 L620.6 331.6 L623.9 331.7 L627.2 331.7 L630.5 331.4 L633.8 330.9 L637.1 331 L640.4 331.2 L643.7 330.5 L647 331.5 L650.3 331.1 L653.6 331 L656.9 331.4 L660.1 331.3 L663.4 331.1 L666.7 330.6 L670 331 L673.3 330.9 L676.6 330.5 L679.9 330.7 L679.9 388 Z" fill="url(#Gb)"/>
<path d="M107 388 L107 333.6 L110.3 333.4 L113.6 333.5 L116.9 332.8 L120.2 334.2 L123.5 334 L126.8 333.5 L130 333.9 L133.3 333.7 L136.6 333.4 L139.9 333.9 L143.2 333.5 L146.5 333.5 L149.8 333.3 L153.1 333.7 L156.4 333.5 L159.7 333.8 L163 333.4 L166.3 333.6 L169.6 333.3 L172.9 333.9 L176.1 333.6 L179.4 333.7 L182.7 333.7 L186 333.2 L189.3 333.8 L192.6 334.3 L195.9 333 L199.2 332.9 L202.5 333 L205.8 333.8 L209.1 333.5 L212.4 333.9 L215.7 333.7 L218.9 333.6 L222.2 333.6 L225.5 333.4 L228.8 333.8 L232.1 333.1 L235.4 333.3 L238.7 333.5 L242 334.1 L245.3 333.1 L248.6 333 L251.9 333.2 L255.2 333.7 L258.5 333.3 L261.7 333.8 L265 332.7 L268.3 333.7 L271.6 333.7 L274.9 332.8 L278.2 333.3 L281.5 333.7 L284.8 333.3 L288.1 333.6 L291.4 334 L294.7 333.3 L298 333.1 L301.3 332.9 L304.6 333.4 L307.8 333 L311.1 333 L314.4 332.9 L317.7 333 L321 332.3 L324.3 332 L327.6 331.6 L330.9 332.7 L334.2 332.1 L337.5 332.4 L340.8 331.7 L344.1 331.3 L347.4 331.5 L350.6 331.2 L353.9 330.6 L357.2 330.5 L360.5 331.3 L363.8 330.6 L367.1 330.4 L370.4 330 L373.7 329.6 L377 329.9 L380.3 329.3 L383.6 328.8 L386.9 328.7 L390.2 328.2 L393.4 328.2 L396.7 328.2 L400 327.2 L403.3 327.6 L406.6 326.4 L409.9 326.2 L413.2 325.2 L416.5 324.7 L419.8 324.1 L423.1 323 L426.4 321.8 L429.7 320.4 L433 318.8 L436.3 317 L439.5 315.9 L442.8 314.4 L446.1 312.7 L449.4 311 L452.7 310.3 L456 308.7 L459.3 308.2 L462.6 309.8 L465.9 310.4 L469.2 313.1 L472.5 314.2 L475.8 316.5 L479.1 317.7 L482.3 320.7 L485.6 322.3 L488.9 323.8 L492.2 326.1 L495.5 327.1 L498.8 328 L502.1 328.6 L505.4 329.4 L508.7 329.9 L512 330.7 L515.3 331.1 L518.6 331 L521.9 331.3 L525.2 331.5 L528.4 331.2 L531.7 331.5 L535 331.7 L538.3 331.9 L541.6 332.2 L544.9 331.4 L548.2 331.9 L551.5 331.5 L554.8 332.4 L558.1 331.7 L561.4 331.9 L564.7 331.4 L568 331.4 L571.2 331.7 L574.5 331.5 L577.8 331.8 L581.1 331.1 L584.4 331.9 L587.7 331.3 L591 332.2 L594.3 331.5 L597.6 332 L600.9 331.1 L604.2 331.7 L607.5 331.2 L610.8 331.4 L614 331.5 L617.3 331.4 L620.6 331.6 L623.9 331.7 L627.2 331.7 L630.5 331.4 L633.8 330.9 L637.1 331 L640.4 331.2 L643.7 330.5 L647 331.5 L650.3 331.1 L653.6 331 L656.9 331.4 L660.1 331.3 L663.4 331.1 L666.7 330.6 L670 331 L673.3 330.9 L676.6 330.5 L679.9 330.7 L679.9 388" fill="none" stroke="#0000d2" stroke-width="1.5" stroke-linejoin="round"/>
<path d="M107 387.7 H679.9" fill="none" stroke="#000" stroke-opacity="0.13" stroke-width="1"/>
<path d="M82.4 419.3 L82.4 395.2 L85.7 394.6 L89 395.3 L92.3 395.1 L95.6 395.1 L98.9 395.1 L102.2 394.7 L105.4 395.1 L108.7 395 L112 395.7 L115.3 395.2 L118.6 395.1 L121.9 395.1 L125.2 395 L128.5 394.9 L131.8 395 L135.1 395.2 L138.4 395 L141.7 395.3 L144.9 395 L148.2 395 L151.5 395.4 L154.8 395.1 L158.1 394.9 L161.4 394.9 L164.7 395.1 L168 395.4 L171.3 394.8 L174.6 394.8 L177.9 395.1 L181.2 394.6 L184.5 394.7 L187.7 395 L191 394.9 L194.3 394.8 L197.6 394.9 L200.9 394.1 L204.2 394.9 L207.5 394.4 L210.8 394.2 L214.1 394.7 L217.4 394.7 L220.7 394.4 L224 394.2 L227.2 394.5 L230.5 394.4 L233.8 394.8 L237.1 394.6 L240.4 394.4 L243.7 394.6 L247 394.2 L250.3 394 L253.6 394.4 L256.9 394.3 L260.2 394.1 L263.5 393.9 L266.8 394.1 L270 393.5 L273.3 394.2 L276.6 394.1 L279.9 393.5 L283.2 393.9 L286.5 393.6 L289.8 394 L293.1 393.3 L296.4 393.5 L299.7 393.9 L303 394 L306.3 393.1 L309.5 393.5 L312.8 393.6 L316.1 393.3 L319.4 393.8 L322.7 393.1 L326 393.4 L329.3 393 L332.6 393.5 L335.9 393.1 L339.2 392.9 L342.5 392.5 L345.8 393.3 L349.1 393 L352.3 392.9 L355.6 392.9 L358.9 392.6 L362.2 392.2 L365.5 392.1 L368.8 392 L372.1 392.4 L375.4 391.6 L378.7 391.6 L382 391.6 L385.3 391.5 L388.6 391.4 L391.8 390.7 L395.1 390.3 L398.4 390.5 L401.7 390.5 L405 390.1 L408.3 389.7 L411.6 389.2 L414.9 389.1 L418.2 388.6 L421.5 388.5 L424.8 387.7 L428.1 387.6 L431.4 387.3 L434.6 387.3 L437.9 387.4 L441.2 388.4 L444.5 388.8 L447.8 389.4 L451.1 389.1 L454.4 390 L457.7 390.4 L461 391.2 L464.3 391 L467.6 392.3 L470.9 392.6 L474.1 392.3 L477.4 392.5 L480.7 392.7 L484 392.9 L487.3 393.2 L490.6 393.6 L493.9 393.1 L497.2 393.4 L500.5 393.3 L503.8 393.7 L507.1 393.5 L510.4 393.7 L513.7 393.1 L516.9 393.4 L520.2 393.3 L523.5 393.9 L526.8 393.7 L530.1 393.5 L533.4 393.4 L536.7 393.7 L540 393.4 L543.3 393.4 L546.6 393.7 L549.9 394.1 L553.2 393.5 L556.4 393.5 L559.7 393.3 L563 393.3 L566.3 393.7 L569.6 393.8 L572.9 393.6 L576.2 393.7 L579.5 393.6 L582.8 393.6 L586.1 393.2 L589.4 393.4 L592.7 393.6 L596 393.3 L599.2 393.4 L602.5 393.3 L605.8 393.4 L609.1 393.7 L612.4 393.4 L615.7 393.4 L619 393.6 L622.3 393.6 L625.6 393.8 L628.9 392.8 L632.2 393.5 L635.5 393.2 L638.7 393.3 L642 393.4 L645.3 393.4 L648.6 393.4 L651.9 393.1 L655.2 393.5 L658.5 393 L658.5 419.3 Z" fill="url(#Gg)"/>
<path d="M82.4 419.3 L82.4 395.2 L85.7 394.6 L89 395.3 L92.3 395.1 L95.6 395.1 L98.9 395.1 L102.2 394.7 L105.4 395.1 L108.7 395 L112 395.7 L115.3 395.2 L118.6 395.1 L121.9 395.1 L125.2 395 L128.5 394.9 L131.8 395 L135.1 395.2 L138.4 395 L141.7 395.3 L144.9 395 L148.2 395 L151.5 395.4 L154.8 395.1 L158.1 394.9 L161.4 394.9 L164.7 395.1 L168 395.4 L171.3 394.8 L174.6 394.8 L177.9 395.1 L181.2 394.6 L184.5 394.7 L187.7 395 L191 394.9 L194.3 394.8 L197.6 394.9 L200.9 394.1 L204.2 394.9 L207.5 394.4 L210.8 394.2 L214.1 394.7 L217.4 394.7 L220.7 394.4 L224 394.2 L227.2 394.5 L230.5 394.4 L233.8 394.8 L237.1 394.6 L240.4 394.4 L243.7 394.6 L247 394.2 L250.3 394 L253.6 394.4 L256.9 394.3 L260.2 394.1 L263.5 393.9 L266.8 394.1 L270 393.5 L273.3 394.2 L276.6 394.1 L279.9 393.5 L283.2 393.9 L286.5 393.6 L289.8 394 L293.1 393.3 L296.4 393.5 L299.7 393.9 L303 394 L306.3 393.1 L309.5 393.5 L312.8 393.6 L316.1 393.3 L319.4 393.8 L322.7 393.1 L326 393.4 L329.3 393 L332.6 393.5 L335.9 393.1 L339.2 392.9 L342.5 392.5 L345.8 393.3 L349.1 393 L352.3 392.9 L355.6 392.9 L358.9 392.6 L362.2 392.2 L365.5 392.1 L368.8 392 L372.1 392.4 L375.4 391.6 L378.7 391.6 L382 391.6 L385.3 391.5 L388.6 391.4 L391.8 390.7 L395.1 390.3 L398.4 390.5 L401.7 390.5 L405 390.1 L408.3 389.7 L411.6 389.2 L414.9 389.1 L418.2 388.6 L421.5 388.5 L424.8 387.7 L428.1 387.6 L431.4 387.3 L434.6 387.3 L437.9 387.4 L441.2 388.4 L444.5 388.8 L447.8 389.4 L451.1 389.1 L454.4 390 L457.7 390.4 L461 391.2 L464.3 391 L467.6 392.3 L470.9 392.6 L474.1 392.3 L477.4 392.5 L480.7 392.7 L484 392.9 L487.3 393.2 L490.6 393.6 L493.9 393.1 L497.2 393.4 L500.5 393.3 L503.8 393.7 L507.1 393.5 L510.4 393.7 L513.7 393.1 L516.9 393.4 L520.2 393.3 L523.5 393.9 L526.8 393.7 L530.1 393.5 L533.4 393.4 L536.7 393.7 L540 393.4 L543.3 393.4 L546.6 393.7 L549.9 394.1 L553.2 393.5 L556.4 393.5 L559.7 393.3 L563 393.3 L566.3 393.7 L569.6 393.8 L572.9 393.6 L576.2 393.7 L579.5 393.6 L582.8 393.6 L586.1 393.2 L589.4 393.4 L592.7 393.6 L596 393.3 L599.2 393.4 L602.5 393.3 L605.8 393.4 L609.1 393.7 L612.4 393.4 L615.7 393.4 L619 393.6 L622.3 393.6 L625.6 393.8 L628.9 392.8 L632.2 393.5 L635.5 393.2 L638.7 393.3 L642 393.4 L645.3 393.4 L648.6 393.4 L651.9 393.1 L655.2 393.5 L658.5 393 L658.5 419.3" fill="none" stroke="#156e15" stroke-width="1.6" stroke-linejoin="round"/>
<path d="M82.4 419 H658.5" fill="none" stroke="#000" stroke-opacity="0.13" stroke-width="1"/>
<path d="M64.3 450.3 L64.3 164.2 L174.3 7.9 L743.2 7.9 L743.2 293.6 L633.6 450.3 Z" fill="none" stroke="#000" stroke-width="1.75" stroke-linejoin="miter"/>
<line x1="64.3" y1="450.3" x2="64.3" y2="445.5" stroke="#000" stroke-width="1.5" />
<line x1="190.8" y1="450.3" x2="190.8" y2="445.5" stroke="#000" stroke-width="1.5" />
<line x1="317.4" y1="450.3" x2="317.4" y2="445.5" stroke="#000" stroke-width="1.5" />
<line x1="443.9" y1="450.3" x2="443.9" y2="445.5" stroke="#000" stroke-width="1.5" />
<line x1="570.4" y1="450.3" x2="570.4" y2="445.5" stroke="#000" stroke-width="1.5" />
<line x1="96" y1="450.3" x2="96" y2="447.3" stroke="#000" stroke-width="1.3" />
<line x1="127.6" y1="450.3" x2="127.6" y2="447.3" stroke="#000" stroke-width="1.3" />
<line x1="159.2" y1="450.3" x2="159.2" y2="447.3" stroke="#000" stroke-width="1.3" />
<line x1="222.5" y1="450.3" x2="222.5" y2="447.3" stroke="#000" stroke-width="1.3" />
<line x1="254.1" y1="450.3" x2="254.1" y2="447.3" stroke="#000" stroke-width="1.3" />
<line x1="285.7" y1="450.3" x2="285.7" y2="447.3" stroke="#000" stroke-width="1.3" />
<line x1="349" y1="450.3" x2="349" y2="447.3" stroke="#000" stroke-width="1.3" />
<line x1="380.6" y1="450.3" x2="380.6" y2="447.3" stroke="#000" stroke-width="1.3" />
<line x1="412.2" y1="450.3" x2="412.2" y2="447.3" stroke="#000" stroke-width="1.3" />
<line x1="475.5" y1="450.3" x2="475.5" y2="447.3" stroke="#000" stroke-width="1.3" />
<line x1="507.1" y1="450.3" x2="507.1" y2="447.3" stroke="#000" stroke-width="1.3" />
<line x1="538.7" y1="450.3" x2="538.7" y2="447.3" stroke="#000" stroke-width="1.3" />
<line x1="602" y1="450.3" x2="602" y2="447.3" stroke="#000" stroke-width="1.3" />
<line x1="633.6" y1="450.3" x2="633.6" y2="447.3" stroke="#000" stroke-width="1.3" />
<text transform="translate(64.3 484.3) scale(0.975 1)" font-size="37.0" text-anchor="middle">450</text>
<text transform="translate(190.8 484.3) scale(0.975 1)" font-size="37.0" text-anchor="middle">448</text>
<text transform="translate(317.4 484.3) scale(0.975 1)" font-size="37.0" text-anchor="middle">446</text>
<text transform="translate(443.9 484.3) scale(0.975 1)" font-size="37.0" text-anchor="middle">444</text>
<text transform="translate(570.4 484.3) scale(0.975 1)" font-size="37.0" text-anchor="middle">442</text>
<path d="M430.8 170.5 L388.9 332.7 L374 391.8 L374 415.4" fill="none" stroke="#0404f0" stroke-width="5.5" stroke-linecap="round" stroke-linejoin="round"/>
<path d="M508.7 90.5 L482 207 L457 309.8 L436.5 387.8 L436.5 415.4" fill="none" stroke="#fb1010" stroke-width="5.5" stroke-linecap="round" stroke-linejoin="round"/>
<text transform="translate(181.2 71.5) scale(0.9807 1)" font-size="60" fill="#000" font-weight="bold">(a)</text>
<text transform="translate(250.2 143.1) scale(0.9192 1)" font-size="37.6" fill="#0404f0" font-weight="bold">In (Oxidized)</text>
<text transform="translate(488.6 68.6) scale(0.9212 1)" font-size="37.6" fill="#fb1010" font-weight="bold">In (InGaAs)</text>
<text transform="translate(585 162.5) scale(1.0241 1)" font-size="26.2" fill="#000" font-weight="bold">Interface</text>
<text transform="translate(514.6 427.2) scale(1.0279 1)" font-size="25.8" fill="#000" font-weight="bold">Surface</text>
<path d="M632.5 177.2 Q 617.8 289.4 572.5 383" fill="none" stroke="#000" stroke-width="5"/>
<path d="M562.6 396.2 L566.6 370.6 L582.4 378.0 Z" fill="#000"/>
<text transform="translate(168.3 529.4) scale(0.9766 1)" font-size="39.2" fill="#000" font-weight="bold">Binding Energy (eV)</text>
<text transform="translate(35.5 442.6) rotate(-90) scale(0.951 1)" font-size="42.0" font-weight="bold">Intensity (a.u)</text></g>
<g id="panel-b"><path d="M796.5 322.5 L796.5 178.3 L799.8 178.5 L803.1 178.8 L806.4 178.7 L809.7 177.6 L813 179 L816.4 178.8 L819.7 178.8 L823 178.8 L826.3 179.1 L829.6 179.8 L832.9 177.9 L836.2 178.3 L839.5 179.5 L842.8 177.4 L846.1 178.5 L849.4 177.8 L852.8 178.3 L856.1 178.6 L859.4 176.9 L862.7 177.6 L866 177.3 L869.3 178.1 L872.6 177.8 L875.9 179.4 L879.2 177.9 L882.5 179.5 L885.8 178 L889.2 178.5 L892.5 178.3 L895.8 178.3 L899.1 177.5 L902.4 178.5 L905.7 178.6 L909 178.5 L912.3 178.7 L915.6 177.7 L918.9 178.1 L922.2 177.8 L925.6 177.1 L928.9 178.6 L932.2 177.9 L935.5 178.2 L938.8 179.8 L942.1 178.5 L945.4 178.4 L948.7 179.1 L952 179.2 L955.3 179.6 L958.7 177.9 L962 179.5 L965.3 178.1 L968.6 177.1 L971.9 176.9 L975.2 177.9 L978.5 177.2 L981.8 177 L985.1 174.9 L988.4 174.7 L991.7 173.4 L995.1 172.2 L998.4 173 L1001.7 173.5 L1005 172.5 L1008.3 170.5 L1011.6 171.2 L1014.9 169.2 L1018.2 168.9 L1021.5 168.3 L1024.8 166.3 L1028.1 164.6 L1031.5 163.9 L1034.8 161.2 L1038.1 158.6 L1041.4 157 L1044.7 153.9 L1048 152 L1051.3 148.9 L1054.6 148 L1057.9 144.8 L1061.2 143.2 L1064.5 140.1 L1067.9 140.2 L1071.2 137.6 L1074.5 136 L1077.8 132.6 L1081.1 132 L1084.4 129.8 L1087.7 129.5 L1091 126.7 L1094.3 127.5 L1097.6 127.5 L1100.9 125.5 L1104.3 126.1 L1107.6 124.8 L1110.9 125.2 L1114.2 124.8 L1117.5 124.7 L1120.8 123.1 L1124.1 121.4 L1127.4 120.9 L1130.7 118.3 L1134 116.1 L1137.3 111.4 L1140.7 109.1 L1144 103.7 L1147.3 98.7 L1150.6 95 L1153.9 91.3 L1157.2 89.9 L1160.5 91.4 L1163.8 93.1 L1167.1 96.3 L1170.4 101.3 L1173.7 108.2 L1177.1 116 L1180.4 123.7 L1183.7 129.2 L1187 138.9 L1190.3 145 L1193.6 150.9 L1196.9 155.5 L1200.2 159.2 L1203.5 162.7 L1206.8 164.2 L1210.1 165.3 L1213.5 167.8 L1216.8 169.5 L1220.1 170.7 L1223.4 172.5 L1226.7 172.5 L1230 175 L1233.3 174.7 L1236.6 175.3 L1239.9 176.2 L1243.2 175.7 L1246.6 177.9 L1249.9 177.4 L1253.2 177.5 L1256.5 176.7 L1259.8 176.1 L1263.1 176.9 L1266.4 176.1 L1269.7 176.8 L1273 176.8 L1276.3 177.5 L1279.6 176.9 L1283 176.7 L1286.3 177.5 L1289.6 176.5 L1292.9 176.2 L1296.2 176.1 L1299.5 177.5 L1302.8 176.5 L1306.1 176 L1309.4 175 L1312.7 175.6 L1316 176.5 L1319.4 176.7 L1322.7 177.4 L1326 175.6 L1329.3 176.4 L1332.6 176.9 L1335.9 174.4 L1339.2 177.4 L1342.5 174.9 L1345.8 174.8 L1349.1 176.2 L1352.4 175.7 L1355.8 176.1 L1359.1 175.6 L1362.4 175.2 L1365.7 174.7 L1369 174.1 L1372.3 174.5 L1372.3 322.5 Z" fill="url(#Gk)"/>
<path d="M796.5 322.5 L796.5 178.3 L799.8 178.5 L803.1 178.8 L806.4 178.7 L809.7 177.6 L813 179 L816.4 178.8 L819.7 178.8 L823 178.8 L826.3 179.1 L829.6 179.8 L832.9 177.9 L836.2 178.3 L839.5 179.5 L842.8 177.4 L846.1 178.5 L849.4 177.8 L852.8 178.3 L856.1 178.6 L859.4 176.9 L862.7 177.6 L866 177.3 L869.3 178.1 L872.6 177.8 L875.9 179.4 L879.2 177.9 L882.5 179.5 L885.8 178 L889.2 178.5 L892.5 178.3 L895.8 178.3 L899.1 177.5 L902.4 178.5 L905.7 178.6 L909 178.5 L912.3 178.7 L915.6 177.7 L918.9 178.1 L922.2 177.8 L925.6 177.1 L928.9 178.6 L932.2 177.9 L935.5 178.2 L938.8 179.8 L942.1 178.5 L945.4 178.4 L948.7 179.1 L952 179.2 L955.3 179.6 L958.7 177.9 L962 179.5 L965.3 178.1 L968.6 177.1 L971.9 176.9 L975.2 177.9 L978.5 177.2 L981.8 177 L985.1 174.9 L988.4 174.7 L991.7 173.4 L995.1 172.2 L998.4 173 L1001.7 173.5 L1005 172.5 L1008.3 170.5 L1011.6 171.2 L1014.9 169.2 L1018.2 168.9 L1021.5 168.3 L1024.8 166.3 L1028.1 164.6 L1031.5 163.9 L1034.8 161.2 L1038.1 158.6 L1041.4 157 L1044.7 153.9 L1048 152 L1051.3 148.9 L1054.6 148 L1057.9 144.8 L1061.2 143.2 L1064.5 140.1 L1067.9 140.2 L1071.2 137.6 L1074.5 136 L1077.8 132.6 L1081.1 132 L1084.4 129.8 L1087.7 129.5 L1091 126.7 L1094.3 127.5 L1097.6 127.5 L1100.9 125.5 L1104.3 126.1 L1107.6 124.8 L1110.9 125.2 L1114.2 124.8 L1117.5 124.7 L1120.8 123.1 L1124.1 121.4 L1127.4 120.9 L1130.7 118.3 L1134 116.1 L1137.3 111.4 L1140.7 109.1 L1144 103.7 L1147.3 98.7 L1150.6 95 L1153.9 91.3 L1157.2 89.9 L1160.5 91.4 L1163.8 93.1 L1167.1 96.3 L1170.4 101.3 L1173.7 108.2 L1177.1 116 L1180.4 123.7 L1183.7 129.2 L1187 138.9 L1190.3 145 L1193.6 150.9 L1196.9 155.5 L1200.2 159.2 L1203.5 162.7 L1206.8 164.2 L1210.1 165.3 L1213.5 167.8 L1216.8 169.5 L1220.1 170.7 L1223.4 172.5 L1226.7 172.5 L1230 175 L1233.3 174.7 L1236.6 175.3 L1239.9 176.2 L1243.2 175.7 L1246.6 177.9 L1249.9 177.4 L1253.2 177.5 L1256.5 176.7 L1259.8 176.1 L1263.1 176.9 L1266.4 176.1 L1269.7 176.8 L1273 176.8 L1276.3 177.5 L1279.6 176.9 L1283 176.7 L1286.3 177.5 L1289.6 176.5 L1292.9 176.2 L1296.2 176.1 L1299.5 177.5 L1302.8 176.5 L1306.1 176 L1309.4 175 L1312.7 175.6 L1316 176.5 L1319.4 176.7 L1322.7 177.4 L1326 175.6 L1329.3 176.4 L1332.6 176.9 L1335.9 174.4 L1339.2 177.4 L1342.5 174.9 L1345.8 174.8 L1349.1 176.2 L1352.4 175.7 L1355.8 176.1 L1359.1 175.6 L1362.4 175.2 L1365.7 174.7 L1369 174.1 L1372.3 174.5 L1372.3 322.5" fill="none" stroke="#000000" stroke-width="1.8" stroke-linejoin="round"/>
<path d="M796.5 322.2 H1372.3" fill="none" stroke="#000" stroke-opacity="0.13" stroke-width="1"/>
<path d="M775.2 354.4 L775.2 257.8 L778.5 256.7 L781.8 258.1 L785.1 258.2 L788.4 257.6 L791.7 258 L795 258.7 L798.3 258.4 L801.6 258.2 L804.9 258.2 L808.2 257.3 L811.5 258.3 L814.8 256.9 L818.1 257.6 L821.4 257.5 L824.8 256.8 L828.1 257.7 L831.4 258.6 L834.7 257.5 L838 257 L841.3 257.6 L844.6 258.1 L847.9 257.7 L851.2 257.6 L854.5 256.8 L857.8 257.9 L861.1 257.8 L864.4 258.3 L867.7 258.4 L871 257.9 L874.3 256.6 L877.6 256.7 L880.9 256.8 L884.2 257.6 L887.5 257 L890.8 258.1 L894.1 257.5 L897.4 257.5 L900.7 257.7 L904 257.4 L907.3 256.4 L910.6 258.4 L913.9 257.9 L917.2 257.9 L920.6 256.6 L923.9 256 L927.2 256.1 L930.5 256.4 L933.8 257.4 L937.1 257.3 L940.4 257.6 L943.7 257.9 L947 257 L950.3 256.9 L953.6 256.4 L956.9 256.3 L960.2 255.7 L963.5 256.3 L966.8 255.9 L970.1 255 L973.4 254.3 L976.7 254.4 L980 254.3 L983.3 252.9 L986.6 252.3 L989.9 251.1 L993.2 250.5 L996.5 249.7 L999.8 248.9 L1003.1 247.8 L1006.4 247.3 L1009.7 246.5 L1013 243.9 L1016.4 243.7 L1019.7 241.2 L1023 239.7 L1026.3 237.2 L1029.6 235.6 L1032.9 235.4 L1036.2 232.5 L1039.5 231.7 L1042.8 229.5 L1046.1 228 L1049.4 227.2 L1052.7 225.3 L1056 223.2 L1059.3 222.5 L1062.6 223.1 L1065.9 222.9 L1069.2 221 L1072.5 220 L1075.8 219 L1079.1 219.5 L1082.4 217.8 L1085.7 217.7 L1089 218.2 L1092.3 217.8 L1095.6 217.1 L1098.9 217.2 L1102.2 215.1 L1105.5 213.4 L1108.8 211.3 L1112.2 208.8 L1115.5 205.9 L1118.8 203.8 L1122.1 199.1 L1125.4 197.6 L1128.7 196.6 L1132 197.1 L1135.3 198 L1138.6 201.4 L1141.9 206.3 L1145.2 209.5 L1148.5 215.8 L1151.8 219.7 L1155.1 224.8 L1158.4 230.6 L1161.7 233.5 L1165 237.9 L1168.3 242.5 L1171.6 246.2 L1174.9 249 L1178.2 250.2 L1181.5 250.6 L1184.8 252.8 L1188.1 253.4 L1191.4 253.3 L1194.7 254.5 L1198 255.9 L1201.3 255.3 L1204.6 254.7 L1208 255.3 L1211.3 255.5 L1214.6 256 L1217.9 256.4 L1221.2 255.5 L1224.5 255.8 L1227.8 256.8 L1231.1 256.7 L1234.4 257.2 L1237.7 255.6 L1241 256 L1244.3 257.1 L1247.6 256 L1250.9 256.8 L1254.2 256.6 L1257.5 256.2 L1260.8 257.4 L1264.1 256.6 L1267.4 256.3 L1270.7 256.5 L1274 256.7 L1277.3 255.7 L1280.6 256.1 L1283.9 255.8 L1287.2 255.4 L1290.5 257.1 L1293.8 257.3 L1297.1 257.1 L1300.4 255.4 L1303.8 256.6 L1307.1 256.7 L1310.4 256 L1313.7 256.7 L1317 255.6 L1320.3 255.5 L1323.6 255.6 L1326.9 255.6 L1330.2 255.4 L1333.5 256.4 L1336.8 255.2 L1340.1 255.4 L1343.4 255.2 L1346.7 256.6 L1350 255.3 L1350 354.4 Z" fill="url(#Gr)"/>
<path d="M775.2 354.4 L775.2 257.8 L778.5 256.7 L781.8 258.1 L785.1 258.2 L788.4 257.6 L791.7 258 L795 258.7 L798.3 258.4 L801.6 258.2 L804.9 258.2 L808.2 257.3 L811.5 258.3 L814.8 256.9 L818.1 257.6 L821.4 257.5 L824.8 256.8 L828.1 257.7 L831.4 258.6 L834.7 257.5 L838 257 L841.3 257.6 L844.6 258.1 L847.9 257.7 L851.2 257.6 L854.5 256.8 L857.8 257.9 L861.1 257.8 L864.4 258.3 L867.7 258.4 L871 257.9 L874.3 256.6 L877.6 256.7 L880.9 256.8 L884.2 257.6 L887.5 257 L890.8 258.1 L894.1 257.5 L897.4 257.5 L900.7 257.7 L904 257.4 L907.3 256.4 L910.6 258.4 L913.9 257.9 L917.2 257.9 L920.6 256.6 L923.9 256 L927.2 256.1 L930.5 256.4 L933.8 257.4 L937.1 257.3 L940.4 257.6 L943.7 257.9 L947 257 L950.3 256.9 L953.6 256.4 L956.9 256.3 L960.2 255.7 L963.5 256.3 L966.8 255.9 L970.1 255 L973.4 254.3 L976.7 254.4 L980 254.3 L983.3 252.9 L986.6 252.3 L989.9 251.1 L993.2 250.5 L996.5 249.7 L999.8 248.9 L1003.1 247.8 L1006.4 247.3 L1009.7 246.5 L1013 243.9 L1016.4 243.7 L1019.7 241.2 L1023 239.7 L1026.3 237.2 L1029.6 235.6 L1032.9 235.4 L1036.2 232.5 L1039.5 231.7 L1042.8 229.5 L1046.1 228 L1049.4 227.2 L1052.7 225.3 L1056 223.2 L1059.3 222.5 L1062.6 223.1 L1065.9 222.9 L1069.2 221 L1072.5 220 L1075.8 219 L1079.1 219.5 L1082.4 217.8 L1085.7 217.7 L1089 218.2 L1092.3 217.8 L1095.6 217.1 L1098.9 217.2 L1102.2 215.1 L1105.5 213.4 L1108.8 211.3 L1112.2 208.8 L1115.5 205.9 L1118.8 203.8 L1122.1 199.1 L1125.4 197.6 L1128.7 196.6 L1132 197.1 L1135.3 198 L1138.6 201.4 L1141.9 206.3 L1145.2 209.5 L1148.5 215.8 L1151.8 219.7 L1155.1 224.8 L1158.4 230.6 L1161.7 233.5 L1165 237.9 L1168.3 242.5 L1171.6 246.2 L1174.9 249 L1178.2 250.2 L1181.5 250.6 L1184.8 252.8 L1188.1 253.4 L1191.4 253.3 L1194.7 254.5 L1198 255.9 L1201.3 255.3 L1204.6 254.7 L1208 255.3 L1211.3 255.5 L1214.6 256 L1217.9 256.4 L1221.2 255.5 L1224.5 255.8 L1227.8 256.8 L1231.1 256.7 L1234.4 257.2 L1237.7 255.6 L1241 256 L1244.3 257.1 L1247.6 256 L1250.9 256.8 L1254.2 256.6 L1257.5 256.2 L1260.8 257.4 L1264.1 256.6 L1267.4 256.3 L1270.7 256.5 L1274 256.7 L1277.3 255.7 L1280.6 256.1 L1283.9 255.8 L1287.2 255.4 L1290.5 257.1 L1293.8 257.3 L1297.1 257.1 L1300.4 255.4 L1303.8 256.6 L1307.1 256.7 L1310.4 256 L1313.7 256.7 L1317 255.6 L1320.3 255.5 L1323.6 255.6 L1326.9 255.6 L1330.2 255.4 L1333.5 256.4 L1336.8 255.2 L1340.1 255.4 L1343.4 255.2 L1346.7 256.6 L1350 255.3 L1350 354.4" fill="none" stroke="#e00000" stroke-width="1.5" stroke-linejoin="round"/>
<path d="M775.2 354.1 H1350" fill="none" stroke="#000" stroke-opacity="0.13" stroke-width="1"/>
<path d="M753.3 385.9 L753.3 327.2 L756.6 328.3 L759.9 327.7 L763.2 326.7 L766.5 326.9 L769.8 327.6 L773.1 327.2 L776.4 327.8 L779.8 326.2 L783.1 328.2 L786.4 328.1 L789.7 326.4 L793 327 L796.3 326.8 L799.6 326.9 L802.9 327.6 L806.2 326.8 L809.5 326.6 L812.8 327.4 L816.1 327.7 L819.4 326.8 L822.7 327.2 L826 326.3 L829.3 327.5 L832.7 328 L836 327.3 L839.3 326.9 L842.6 325.9 L845.9 326.7 L849.2 325.8 L852.5 327.2 L855.8 327.7 L859.1 327.5 L862.4 326.8 L865.7 326.9 L869 326.3 L872.3 326.7 L875.6 326.7 L878.9 326.5 L882.2 325.4 L885.6 326.6 L888.9 326.6 L892.2 326 L895.5 326.5 L898.8 326.7 L902.1 325.1 L905.4 326.6 L908.7 325.8 L912 325.4 L915.3 325.9 L918.6 325.3 L921.9 325.3 L925.2 324.8 L928.5 324.8 L931.8 324.3 L935.1 324.3 L938.5 323.8 L941.8 323.4 L945.1 324.4 L948.4 323.5 L951.7 323.4 L955 323.8 L958.3 322.8 L961.6 322 L964.9 320.9 L968.2 321.2 L971.5 320.4 L974.8 319.9 L978.1 318.5 L981.4 317.5 L984.7 315.6 L988 315.7 L991.4 313.3 L994.7 312.4 L998 311.6 L1001.3 310.1 L1004.6 308.9 L1007.9 308.2 L1011.2 306 L1014.5 305.9 L1017.8 305.6 L1021.1 304.7 L1024.4 302.6 L1027.7 303.3 L1031 302.7 L1034.3 301.8 L1037.6 301.4 L1040.9 301.9 L1044.3 302.6 L1047.6 302 L1050.9 301.2 L1054.2 301.6 L1057.5 301.9 L1060.8 301.2 L1064.1 300.8 L1067.4 301.1 L1070.7 299.7 L1074 300.8 L1077.3 299.6 L1080.6 300 L1083.9 299.7 L1087.2 298.6 L1090.5 297.2 L1093.9 296.4 L1097.2 296.2 L1100.5 294.6 L1103.8 294.8 L1107.1 295.4 L1110.4 295.8 L1113.7 296.4 L1117 298.1 L1120.3 301.2 L1123.6 303.3 L1126.9 307 L1130.2 309 L1133.5 312 L1136.8 313.1 L1140.1 315.5 L1143.4 317.4 L1146.8 318.5 L1150.1 320.3 L1153.4 322 L1156.7 321.7 L1160 322.7 L1163.3 324.3 L1166.6 324.2 L1169.9 324.7 L1173.2 324.8 L1176.5 324.6 L1179.8 324.8 L1183.1 325.1 L1186.4 324.7 L1189.7 325.1 L1193 324.8 L1196.3 325 L1199.7 325.9 L1203 325.4 L1206.3 324.4 L1209.6 325 L1212.9 326.1 L1216.2 326.1 L1219.5 324.5 L1222.8 325.4 L1226.1 325.2 L1229.4 324.1 L1232.7 325.3 L1236 326.2 L1239.3 324.8 L1242.6 325 L1245.9 325.7 L1249.2 325 L1252.6 325 L1255.9 325.4 L1259.2 324.5 L1262.5 325.5 L1265.8 324.6 L1269.1 325.3 L1272.4 325.7 L1275.7 326.1 L1279 324.9 L1282.3 325.4 L1285.6 325.4 L1288.9 324.3 L1292.2 325.2 L1295.5 325.4 L1298.8 325.6 L1302.1 326.3 L1305.5 325.3 L1308.8 325.3 L1312.1 325.2 L1315.4 325.3 L1318.7 325.5 L1322 326.1 L1325.3 324.7 L1328.6 325.3 L1328.6 385.9 Z" fill="url(#Gb)"/>
<path d="M753.3 385.9 L753.3 327.2 L756.6 328.3 L759.9 327.7 L763.2 326.7 L766.5 326.9 L769.8 327.6 L773.1 327.2 L776.4 327.8 L779.8 326.2 L783.1 328.2 L786.4 328.1 L789.7 326.4 L793 327 L796.3 326.8 L799.6 326.9 L802.9 327.6 L806.2 326.8 L809.5 326.6 L812.8 327.4 L816.1 327.7 L819.4 326.8 L822.7 327.2 L826 326.3 L829.3 327.5 L832.7 328 L836 327.3 L839.3 326.9 L842.6 325.9 L845.9 326.7 L849.2 325.8 L852.5 327.2 L855.8 327.7 L859.1 327.5 L862.4 326.8 L865.7 326.9 L869 326.3 L872.3 326.7 L875.6 326.7 L878.9 326.5 L882.2 325.4 L885.6 326.6 L888.9 326.6 L892.2 326 L895.5 326.5 L898.8 326.7 L902.1 325.1 L905.4 326.6 L908.7 325.8 L912 325.4 L915.3 325.9 L918.6 325.3 L921.9 325.3 L925.2 324.8 L928.5 324.8 L931.8 324.3 L935.1 324.3 L938.5 323.8 L941.8 323.4 L945.1 324.4 L948.4 323.5 L951.7 323.4 L955 323.8 L958.3 322.8 L961.6 322 L964.9 320.9 L968.2 321.2 L971.5 320.4 L974.8 319.9 L978.1 318.5 L981.4 317.5 L984.7 315.6 L988 315.7 L991.4 313.3 L994.7 312.4 L998 311.6 L1001.3 310.1 L1004.6 308.9 L1007.9 308.2 L1011.2 306 L1014.5 305.9 L1017.8 305.6 L1021.1 304.7 L1024.4 302.6 L1027.7 303.3 L1031 302.7 L1034.3 301.8 L1037.6 301.4 L1040.9 301.9 L1044.3 302.6 L1047.6 302 L1050.9 301.2 L1054.2 301.6 L1057.5 301.9 L1060.8 301.2 L1064.1 300.8 L1067.4 301.1 L1070.7 299.7 L1074 300.8 L1077.3 299.6 L1080.6 300 L1083.9 299.7 L1087.2 298.6 L1090.5 297.2 L1093.9 296.4 L1097.2 296.2 L1100.5 294.6 L1103.8 294.8 L1107.1 295.4 L1110.4 295.8 L1113.7 296.4 L1117 298.1 L1120.3 301.2 L1123.6 303.3 L1126.9 307 L1130.2 309 L1133.5 312 L1136.8 313.1 L1140.1 315.5 L1143.4 317.4 L1146.8 318.5 L1150.1 320.3 L1153.4 322 L1156.7 321.7 L1160 322.7 L1163.3 324.3 L1166.6 324.2 L1169.9 324.7 L1173.2 324.8 L1176.5 324.6 L1179.8 324.8 L1183.1 325.1 L1186.4 324.7 L1189.7 325.1 L1193 324.8 L1196.3 325 L1199.7 325.9 L1203 325.4 L1206.3 324.4 L1209.6 325 L1212.9 326.1 L1216.2 326.1 L1219.5 324.5 L1222.8 325.4 L1226.1 325.2 L1229.4 324.1 L1232.7 325.3 L1236 326.2 L1239.3 324.8 L1242.6 325 L1245.9 325.7 L1249.2 325 L1252.6 325 L1255.9 325.4 L1259.2 324.5 L1262.5 325.5 L1265.8 324.6 L1269.1 325.3 L1272.4 325.7 L1275.7 326.1 L1279 324.9 L1282.3 325.4 L1285.6 325.4 L1288.9 324.3 L1292.2 325.2 L1295.5 325.4 L1298.8 325.6 L1302.1 326.3 L1305.5 325.3 L1308.8 325.3 L1312.1 325.2 L1315.4 325.3 L1318.7 325.5 L1322 326.1 L1325.3 324.7 L1328.6 325.3 L1328.6 385.9" fill="none" stroke="#0000d2" stroke-width="1.5" stroke-linejoin="round"/>
<path d="M753.3 385.6 H1328.6" fill="none" stroke="#000" stroke-opacity="0.13" stroke-width="1"/>
<path d="M731.5 417.1 L731.5 388.5 L734.8 388 L738.1 388.7 L741.4 388 L744.7 388.8 L748 387.8 L751.3 388.1 L754.6 388.1 L758 387.5 L761.3 388.6 L764.6 387.7 L767.9 387.7 L771.2 388 L774.5 388.4 L777.8 387.8 L781.1 388.8 L784.4 388 L787.7 387.9 L791 388.1 L794.3 387.9 L797.6 387.5 L800.9 387.6 L804.2 387.9 L807.5 388.3 L810.9 387.8 L814.2 387.8 L817.5 386.9 L820.8 387.5 L824.1 387.6 L827.4 388.1 L830.7 388 L834 387.5 L837.3 387.6 L840.6 387.3 L843.9 387.1 L847.2 387.3 L850.5 387.1 L853.8 387.3 L857.1 387.4 L860.4 387 L863.8 387.5 L867.1 386.6 L870.4 387 L873.7 387 L877 386.3 L880.3 387.1 L883.6 387.1 L886.9 387.4 L890.2 386.7 L893.5 386.8 L896.8 386.8 L900.1 385.9 L903.4 386.5 L906.7 385.8 L910 386.2 L913.3 386.2 L916.7 385.9 L920 384.8 L923.3 385.8 L926.6 385.1 L929.9 385.1 L933.2 384.2 L936.5 383.9 L939.8 384.4 L943.1 383.3 L946.4 382.8 L949.7 382.4 L953 382.5 L956.3 381.1 L959.6 381 L962.9 380.1 L966.2 380.5 L969.6 379.3 L972.9 378.2 L976.2 377.5 L979.5 376.7 L982.8 376 L986.1 375.6 L989.4 375.7 L992.7 374.4 L996 373.9 L999.3 373.5 L1002.6 373.4 L1005.9 372.4 L1009.2 371.2 L1012.5 371.3 L1015.8 371.2 L1019.1 371 L1022.5 371.5 L1025.8 372.3 L1029.1 372.4 L1032.4 373.6 L1035.7 373.5 L1039 373.5 L1042.3 373.9 L1045.6 373.9 L1048.9 374.2 L1052.2 374.9 L1055.5 374.8 L1058.8 374.2 L1062.1 374.5 L1065.4 375.2 L1068.7 374.6 L1072.1 374.8 L1075.4 375.2 L1078.7 374.6 L1082 374.5 L1085.3 374.4 L1088.6 374.9 L1091.9 374.7 L1095.2 375.3 L1098.5 376.6 L1101.8 378 L1105.1 378.3 L1108.4 379.6 L1111.7 380.4 L1115 380.5 L1118.3 381.9 L1121.6 382.7 L1125 383.4 L1128.3 384.4 L1131.6 384.9 L1134.9 385.2 L1138.2 385.8 L1141.5 385.5 L1144.8 386.3 L1148.1 385.9 L1151.4 386.3 L1154.7 386 L1158 386.9 L1161.3 386.3 L1164.6 386.8 L1167.9 386.1 L1171.2 386.6 L1174.5 386.9 L1177.9 386.6 L1181.2 386.7 L1184.5 386.7 L1187.8 386.6 L1191.1 386.6 L1194.4 386.4 L1197.7 387.1 L1201 386.7 L1204.3 386.8 L1207.6 386.9 L1210.9 386.3 L1214.2 386.3 L1217.5 386.3 L1220.8 387.4 L1224.1 386.7 L1227.4 387.1 L1230.8 386.2 L1234.1 386.7 L1237.4 386.9 L1240.7 386.7 L1244 387.3 L1247.3 386.8 L1250.6 386.9 L1253.9 387.3 L1257.2 387.5 L1260.5 387 L1263.8 386.8 L1267.1 386.8 L1270.4 387.3 L1273.7 386.5 L1277 386.6 L1280.3 386.6 L1283.7 387.3 L1287 387.1 L1290.3 386.6 L1293.6 386.7 L1296.9 386.9 L1300.2 386.7 L1303.5 386.5 L1306.8 386.9 L1306.8 417.1 Z" fill="url(#Gg)"/>
<path d="M731.5 417.1 L731.5 388.5 L734.8 388 L738.1 388.7 L741.4 388 L744.7 388.8 L748 387.8 L751.3 388.1 L754.6 388.1 L758 387.5 L761.3 388.6 L764.6 387.7 L767.9 387.7 L771.2 388 L774.5 388.4 L777.8 387.8 L781.1 388.8 L784.4 388 L787.7 387.9 L791 388.1 L794.3 387.9 L797.6 387.5 L800.9 387.6 L804.2 387.9 L807.5 388.3 L810.9 387.8 L814.2 387.8 L817.5 386.9 L820.8 387.5 L824.1 387.6 L827.4 388.1 L830.7 388 L834 387.5 L837.3 387.6 L840.6 387.3 L843.9 387.1 L847.2 387.3 L850.5 387.1 L853.8 387.3 L857.1 387.4 L860.4 387 L863.8 387.5 L867.1 386.6 L870.4 387 L873.7 387 L877 386.3 L880.3 387.1 L883.6 387.1 L886.9 387.4 L890.2 386.7 L893.5 386.8 L896.8 386.8 L900.1 385.9 L903.4 386.5 L906.7 385.8 L910 386.2 L913.3 386.2 L916.7 385.9 L920 384.8 L923.3 385.8 L926.6 385.1 L929.9 385.1 L933.2 384.2 L936.5 383.9 L939.8 384.4 L943.1 383.3 L946.4 382.8 L949.7 382.4 L953 382.5 L956.3 381.1 L959.6 381 L962.9 380.1 L966.2 380.5 L969.6 379.3 L972.9 378.2 L976.2 377.5 L979.5 376.7 L982.8 376 L986.1 375.6 L989.4 375.7 L992.7 374.4 L996 373.9 L999.3 373.5 L1002.6 373.4 L1005.9 372.4 L1009.2 371.2 L1012.5 371.3 L1015.8 371.2 L1019.1 371 L1022.5 371.5 L1025.8 372.3 L1029.1 372.4 L1032.4 373.6 L1035.7 373.5 L1039 373.5 L1042.3 373.9 L1045.6 373.9 L1048.9 374.2 L1052.2 374.9 L1055.5 374.8 L1058.8 374.2 L1062.1 374.5 L1065.4 375.2 L1068.7 374.6 L1072.1 374.8 L1075.4 375.2 L1078.7 374.6 L1082 374.5 L1085.3 374.4 L1088.6 374.9 L1091.9 374.7 L1095.2 375.3 L1098.5 376.6 L1101.8 378 L1105.1 378.3 L1108.4 379.6 L1111.7 380.4 L1115 380.5 L1118.3 381.9 L1121.6 382.7 L1125 383.4 L1128.3 384.4 L1131.6 384.9 L1134.9 385.2 L1138.2 385.8 L1141.5 385.5 L1144.8 386.3 L1148.1 385.9 L1151.4 386.3 L1154.7 386 L1158 386.9 L1161.3 386.3 L1164.6 386.8 L1167.9 386.1 L1171.2 386.6 L1174.5 386.9 L1177.9 386.6 L1181.2 386.7 L1184.5 386.7 L1187.8 386.6 L1191.1 386.6 L1194.4 386.4 L1197.7 387.1 L1201 386.7 L1204.3 386.8 L1207.6 386.9 L1210.9 386.3 L1214.2 386.3 L1217.5 386.3 L1220.8 387.4 L1224.1 386.7 L1227.4 387.1 L1230.8 386.2 L1234.1 386.7 L1237.4 386.9 L1240.7 386.7 L1244 387.3 L1247.3 386.8 L1250.6 386.9 L1253.9 387.3 L1257.2 387.5 L1260.5 387 L1263.8 386.8 L1267.1 386.8 L1270.4 387.3 L1273.7 386.5 L1277 386.6 L1280.3 386.6 L1283.7 387.3 L1287 387.1 L1290.3 386.6 L1293.6 386.7 L1296.9 386.9 L1300.2 386.7 L1303.5 386.5 L1306.8 386.9 L1306.8 417.1" fill="none" stroke="#156e15" stroke-width="1.6" stroke-linejoin="round"/>
<path d="M731.5 416.8 H1306.8" fill="none" stroke="#000" stroke-opacity="0.13" stroke-width="1"/>
<path d="M713.1 447.6 L713.1 161.8 L821.9 7.7 L1390.8 7.7 L1390.8 292.8 L1282.8 447.6 Z" fill="none" stroke="#000" stroke-width="1.75" stroke-linejoin="miter"/>
<line x1="713.1" y1="447.6" x2="713.1" y2="442.8" stroke="#000" stroke-width="1.5" />
<line x1="839.7" y1="447.6" x2="839.7" y2="442.8" stroke="#000" stroke-width="1.5" />
<line x1="966.3" y1="447.6" x2="966.3" y2="442.8" stroke="#000" stroke-width="1.5" />
<line x1="1092.9" y1="447.6" x2="1092.9" y2="442.8" stroke="#000" stroke-width="1.5" />
<line x1="1219.5" y1="447.6" x2="1219.5" y2="442.8" stroke="#000" stroke-width="1.5" />
<line x1="744.8" y1="447.6" x2="744.8" y2="444.6" stroke="#000" stroke-width="1.3" />
<line x1="776.4" y1="447.6" x2="776.4" y2="444.6" stroke="#000" stroke-width="1.3" />
<line x1="808" y1="447.6" x2="808" y2="444.6" stroke="#000" stroke-width="1.3" />
<line x1="871.4" y1="447.6" x2="871.4" y2="444.6" stroke="#000" stroke-width="1.3" />
<line x1="903" y1="447.6" x2="903" y2="444.6" stroke="#000" stroke-width="1.3" />
<line x1="934.6" y1="447.6" x2="934.6" y2="444.6" stroke="#000" stroke-width="1.3" />
<line x1="998" y1="447.6" x2="998" y2="444.6" stroke="#000" stroke-width="1.3" />
<line x1="1029.6" y1="447.6" x2="1029.6" y2="444.6" stroke="#000" stroke-width="1.3" />
<line x1="1061.2" y1="447.6" x2="1061.2" y2="444.6" stroke="#000" stroke-width="1.3" />
<line x1="1124.5" y1="447.6" x2="1124.5" y2="444.6" stroke="#000" stroke-width="1.3" />
<line x1="1156.2" y1="447.6" x2="1156.2" y2="444.6" stroke="#000" stroke-width="1.3" />
<line x1="1187.8" y1="447.6" x2="1187.8" y2="444.6" stroke="#000" stroke-width="1.3" />
<line x1="1251.2" y1="447.6" x2="1251.2" y2="444.6" stroke="#000" stroke-width="1.3" />
<line x1="1282.8" y1="447.6" x2="1282.8" y2="444.6" stroke="#000" stroke-width="1.3" />
<text transform="translate(713.1 481.6) scale(0.975 1)" font-size="37.0" text-anchor="middle">450</text>
<text transform="translate(839.7 481.6) scale(0.975 1)" font-size="37.0" text-anchor="middle">448</text>
<text transform="translate(966.3 481.6) scale(0.975 1)" font-size="37.0" text-anchor="middle">446</text>
<text transform="translate(1092.9 481.6) scale(0.975 1)" font-size="37.0" text-anchor="middle">444</text>
<text transform="translate(1219.5 481.6) scale(0.975 1)" font-size="37.0" text-anchor="middle">442</text>
<path d="M1090.2 128 L1071.9 200 L1045.2 301.6 L1026.9 371.5 L1026.9 413.6" fill="none" stroke="#0404f0" stroke-width="5.5" stroke-linecap="round" stroke-linejoin="round"/>
<path d="M1156.7 90.5 L1130.3 200 L1104.9 299 L1086.7 375.6 L1086.7 413.6" fill="none" stroke="#fb1010" stroke-width="5.5" stroke-linecap="round" stroke-linejoin="round"/>
<text transform="translate(829 71.5) scale(0.9915 1)" font-size="60" fill="#000" font-weight="bold">(b)</text>
<text transform="translate(902.2 107) scale(0.9192 1)" font-size="37.6" fill="#0404f0" font-weight="bold">In (Oxidized)</text>
<text transform="translate(1137 68.6) scale(0.9186 1)" font-size="37.6" fill="#fb1010" font-weight="bold">In (InGaAs)</text>
<text transform="translate(815.5 529) scale(0.9766 1)" font-size="39.2" fill="#000" font-weight="bold">Binding Energy (eV)</text>
<text transform="translate(1419.4 21.4) rotate(90) scale(0.951 1)" font-size="42.0" font-weight="bold">Intensity (a.u)</text>
<text transform="matrix(1.0 0 -0.54 0.83 1307.3 428.2)" font-size="36.8">20</text>
<text transform="matrix(1.0 0 -0.54 0.83 1330.1 397.7)" font-size="36.8">43.3</text>
<text transform="matrix(1.0 0 -0.54 0.83 1352.9 367.2)" font-size="36.8">66.7</text>
<text transform="matrix(1.0 0 -0.54 0.83 1375.7 336.7)" font-size="36.8">90</text>
<text transform="matrix(0.588 -0.833 1.09 0.0 1423 434)" font-size="38" font-weight="bold" stroke="#000" stroke-width="0.5">Take-Off</text>
<text transform="matrix(0.588 -0.833 1.09 0.0 1471.3 436)" font-size="38" font-weight="bold" stroke="#000" stroke-width="0.5">Angle (°)</text></g>
<g id="panel-c"><path d="M148.2 878.5 L148.2 730.6 L151.5 730.3 L154.8 730.2 L158.1 730.7 L161.4 731.1 L164.7 730.6 L168 730.2 L171.3 729.4 L174.6 729.8 L177.9 729.9 L181.2 730.9 L184.5 728.9 L187.8 730.4 L191.1 729.8 L194.4 730.3 L197.6 728.8 L200.9 729.8 L204.2 730.2 L207.5 729.9 L210.8 730.4 L214.1 730 L217.4 729.9 L220.7 728.9 L224 729.4 L227.3 729.2 L230.6 729.4 L233.9 730.8 L237.2 729.3 L240.5 729.8 L243.8 729.7 L247.1 729.8 L250.4 729.7 L253.7 727.9 L257 729.2 L260.3 728.1 L263.6 728.1 L266.9 729.7 L270.2 728.9 L273.5 728.2 L276.8 728.1 L280.1 728.9 L283.4 727.6 L286.7 729.7 L290 729.1 L293.2 729.3 L296.5 729.4 L299.8 729.1 L303.1 729.3 L306.4 728.2 L309.7 728.5 L313 727.8 L316.3 729.5 L319.6 728.4 L322.9 728.5 L326.2 727.7 L329.5 727.9 L332.8 727.9 L336.1 727.5 L339.4 727.3 L342.7 728.5 L346 727.5 L349.3 727.9 L352.6 727.7 L355.9 727.3 L359.2 727.4 L362.5 728.1 L365.8 727.5 L369.1 726.8 L372.4 726.8 L375.7 726.9 L379 726.6 L382.3 727.9 L385.6 727.1 L388.8 728 L392.1 726.4 L395.4 726.5 L398.7 728.1 L402 725.8 L405.3 726.1 L408.6 725.7 L411.9 726 L415.2 726.1 L418.5 726.3 L421.8 726.2 L425.1 725.1 L428.4 725.3 L431.7 724.2 L435 725.3 L438.3 723.9 L441.6 725.6 L444.9 723.3 L448.2 724.9 L451.5 724.5 L454.8 723.6 L458.1 725.4 L461.4 723.7 L464.7 725.2 L468 723.7 L471.3 723.9 L474.6 722.3 L477.9 723.2 L481.2 723.7 L484.5 723 L487.7 723 L491 722.7 L494.3 723.3 L497.6 723 L500.9 724.7 L504.2 722.9 L507.5 723.5 L510.8 723.8 L514.1 723.5 L517.4 723.8 L520.7 722.9 L524 723.1 L527.3 723 L530.6 722.8 L533.9 724.4 L537.2 723.9 L540.5 722.8 L543.8 724 L547.1 725 L550.4 724.1 L553.7 724.6 L557 724.8 L560.3 724.7 L563.6 724.1 L566.9 724.4 L570.2 724.6 L573.5 725.6 L576.8 724.9 L580.1 724 L583.3 725.7 L586.6 725 L589.9 725.2 L593.2 725.2 L596.5 726.2 L599.8 725.4 L603.1 725.4 L606.4 726.2 L609.7 725.7 L613 725 L616.3 724.6 L619.6 726 L622.9 726.8 L626.2 724.8 L629.5 724.9 L632.8 725.4 L636.1 726.3 L639.4 726.2 L642.7 725.2 L646 726 L649.3 726.9 L652.6 725.7 L655.9 727 L659.2 725.8 L662.5 726.1 L665.8 726.8 L669.1 726.5 L672.4 725.3 L675.7 727.2 L678.9 726.9 L682.2 727.5 L685.5 726 L688.8 727.5 L692.1 726.8 L695.4 728.1 L698.7 726.2 L702 726.4 L705.3 726.7 L708.6 726.2 L711.9 727.4 L715.2 727.2 L718.5 725.7 L721.8 726.7 L725.1 727 L725.1 878.5 Z" fill="url(#Gk)"/>
<path d="M148.2 878.5 L148.2 730.6 L151.5 730.3 L154.8 730.2 L158.1 730.7 L161.4 731.1 L164.7 730.6 L168 730.2 L171.3 729.4 L174.6 729.8 L177.9 729.9 L181.2 730.9 L184.5 728.9 L187.8 730.4 L191.1 729.8 L194.4 730.3 L197.6 728.8 L200.9 729.8 L204.2 730.2 L207.5 729.9 L210.8 730.4 L214.1 730 L217.4 729.9 L220.7 728.9 L224 729.4 L227.3 729.2 L230.6 729.4 L233.9 730.8 L237.2 729.3 L240.5 729.8 L243.8 729.7 L247.1 729.8 L250.4 729.7 L253.7 727.9 L257 729.2 L260.3 728.1 L263.6 728.1 L266.9 729.7 L270.2 728.9 L273.5 728.2 L276.8 728.1 L280.1 728.9 L283.4 727.6 L286.7 729.7 L290 729.1 L293.2 729.3 L296.5 729.4 L299.8 729.1 L303.1 729.3 L306.4 728.2 L309.7 728.5 L313 727.8 L316.3 729.5 L319.6 728.4 L322.9 728.5 L326.2 727.7 L329.5 727.9 L332.8 727.9 L336.1 727.5 L339.4 727.3 L342.7 728.5 L346 727.5 L349.3 727.9 L352.6 727.7 L355.9 727.3 L359.2 727.4 L362.5 728.1 L365.8 727.5 L369.1 726.8 L372.4 726.8 L375.7 726.9 L379 726.6 L382.3 727.9 L385.6 727.1 L388.8 728 L392.1 726.4 L395.4 726.5 L398.7 728.1 L402 725.8 L405.3 726.1 L408.6 725.7 L411.9 726 L415.2 726.1 L418.5 726.3 L421.8 726.2 L425.1 725.1 L428.4 725.3 L431.7 724.2 L435 725.3 L438.3 723.9 L441.6 725.6 L444.9 723.3 L448.2 724.9 L451.5 724.5 L454.8 723.6 L458.1 725.4 L461.4 723.7 L464.7 725.2 L468 723.7 L471.3 723.9 L474.6 722.3 L477.9 723.2 L481.2 723.7 L484.5 723 L487.7 723 L491 722.7 L494.3 723.3 L497.6 723 L500.9 724.7 L504.2 722.9 L507.5 723.5 L510.8 723.8 L514.1 723.5 L517.4 723.8 L520.7 722.9 L524 723.1 L527.3 723 L530.6 722.8 L533.9 724.4 L537.2 723.9 L540.5 722.8 L543.8 724 L547.1 725 L550.4 724.1 L553.7 724.6 L557 724.8 L560.3 724.7 L563.6 724.1 L566.9 724.4 L570.2 724.6 L573.5 725.6 L576.8 724.9 L580.1 724 L583.3 725.7 L586.6 725 L589.9 725.2 L593.2 725.2 L596.5 726.2 L599.8 725.4 L603.1 725.4 L606.4 726.2 L609.7 725.7 L613 725 L616.3 724.6 L619.6 726 L622.9 726.8 L626.2 724.8 L629.5 724.9 L632.8 725.4 L636.1 726.3 L639.4 726.2 L642.7 725.2 L646 726 L649.3 726.9 L652.6 725.7 L655.9 727 L659.2 725.8 L662.5 726.1 L665.8 726.8 L669.1 726.5 L672.4 725.3 L675.7 727.2 L678.9 726.9 L682.2 727.5 L685.5 726 L688.8 727.5 L692.1 726.8 L695.4 728.1 L698.7 726.2 L702 726.4 L705.3 726.7 L708.6 726.2 L711.9 727.4 L715.2 727.2 L718.5 725.7 L721.8 726.7 L725.1 727 L725.1 878.5" fill="none" stroke="#000000" stroke-width="1.8" stroke-linejoin="round"/>
<path d="M148.2 878.2 H725.1" fill="none" stroke="#000" stroke-opacity="0.13" stroke-width="1"/>
<path d="M126.2 909.2 L126.2 813.6 L129.5 813.2 L132.8 812.5 L136.1 813 L139.4 814.3 L142.7 813.5 L146 813.1 L149.3 813.3 L152.6 813.3 L155.9 813.6 L159.2 813.1 L162.5 813.7 L165.8 812.7 L169.1 812.9 L172.4 812.6 L175.7 812.9 L179 813.8 L182.3 811.9 L185.6 811.9 L188.9 812.3 L192.2 813.2 L195.5 812.7 L198.7 812.1 L202 812.5 L205.3 811.7 L208.6 811.7 L211.9 811.9 L215.2 812.5 L218.5 812.1 L221.8 812.2 L225.1 812.8 L228.4 811.9 L231.7 812.7 L235 811.5 L238.3 813.1 L241.6 811.2 L244.9 810.8 L248.2 811.9 L251.5 811.7 L254.8 812.1 L258.1 812.1 L261.4 810.9 L264.7 811.6 L268 812.7 L271.3 811.4 L274.6 812.4 L277.9 811.5 L281.2 811.3 L284.5 810.9 L287.8 811.1 L291.1 810.6 L294.4 812.2 L297.7 811.3 L301 810.9 L304.3 811.7 L307.6 810.7 L310.9 811.5 L314.2 811.6 L317.5 811.7 L320.8 811.3 L324.1 811.8 L327.4 811 L330.7 811.4 L334 811.8 L337.3 811.2 L340.6 811.5 L343.8 809.9 L347.1 811.3 L350.4 811.3 L353.7 810.9 L357 811.5 L360.3 812 L363.6 811.3 L366.9 811.3 L370.2 810.7 L373.5 810.6 L376.8 810.9 L380.1 810.3 L383.4 810.8 L386.7 811.3 L390 810.8 L393.3 810.7 L396.6 810.4 L399.9 811.4 L403.2 810.9 L406.5 810.9 L409.8 811.1 L413.1 811.4 L416.4 810.4 L419.7 810.6 L423 811.4 L426.3 810.6 L429.6 811.1 L432.9 811.9 L436.2 810.2 L439.5 811 L442.8 811.2 L446.1 811.6 L449.4 810.8 L452.7 810.2 L456 810.3 L459.3 810.7 L462.6 810 L465.9 811.8 L469.2 810.3 L472.5 811.4 L475.8 811.1 L479.1 810.8 L482.4 810.9 L485.7 810 L488.9 810.6 L492.2 811 L495.5 810.8 L498.8 811 L502.1 810.9 L505.4 811.4 L508.7 810.4 L512 810.9 L515.3 811.3 L518.6 810.7 L521.9 810.5 L525.2 811.2 L528.5 811.3 L531.8 810.5 L535.1 810.4 L538.4 811 L541.7 811.3 L545 810.5 L548.3 810.4 L551.6 811.1 L554.9 812 L558.2 810.7 L561.5 810.6 L564.8 810.4 L568.1 811.4 L571.4 810.7 L574.7 810 L578 810.1 L581.3 810.2 L584.6 810.6 L587.9 810.8 L591.2 811.2 L594.5 810.3 L597.8 811.1 L601.1 810.1 L604.4 811.1 L607.7 810.9 L611 811.1 L614.3 810.1 L617.6 810.5 L620.9 810.8 L624.2 811.7 L627.5 811.1 L630.8 811.4 L634 811.2 L637.3 811.5 L640.6 811 L643.9 811.8 L647.2 811.2 L650.5 811 L653.8 811.7 L657.1 811.7 L660.4 811 L663.7 811.7 L667 810.7 L670.3 811.5 L673.6 810.4 L676.9 811.6 L680.2 810.7 L683.5 811.4 L686.8 811.5 L690.1 811.2 L693.4 810.4 L696.7 811 L700 811.2 L703.3 811.3 L703.3 909.2 Z" fill="url(#Gr)"/>
<path d="M126.2 909.2 L126.2 813.6 L129.5 813.2 L132.8 812.5 L136.1 813 L139.4 814.3 L142.7 813.5 L146 813.1 L149.3 813.3 L152.6 813.3 L155.9 813.6 L159.2 813.1 L162.5 813.7 L165.8 812.7 L169.1 812.9 L172.4 812.6 L175.7 812.9 L179 813.8 L182.3 811.9 L185.6 811.9 L188.9 812.3 L192.2 813.2 L195.5 812.7 L198.7 812.1 L202 812.5 L205.3 811.7 L208.6 811.7 L211.9 811.9 L215.2 812.5 L218.5 812.1 L221.8 812.2 L225.1 812.8 L228.4 811.9 L231.7 812.7 L235 811.5 L238.3 813.1 L241.6 811.2 L244.9 810.8 L248.2 811.9 L251.5 811.7 L254.8 812.1 L258.1 812.1 L261.4 810.9 L264.7 811.6 L268 812.7 L271.3 811.4 L274.6 812.4 L277.9 811.5 L281.2 811.3 L284.5 810.9 L287.8 811.1 L291.1 810.6 L294.4 812.2 L297.7 811.3 L301 810.9 L304.3 811.7 L307.6 810.7 L310.9 811.5 L314.2 811.6 L317.5 811.7 L320.8 811.3 L324.1 811.8 L327.4 811 L330.7 811.4 L334 811.8 L337.3 811.2 L340.6 811.5 L343.8 809.9 L347.1 811.3 L350.4 811.3 L353.7 810.9 L357 811.5 L360.3 812 L363.6 811.3 L366.9 811.3 L370.2 810.7 L373.5 810.6 L376.8 810.9 L380.1 810.3 L383.4 810.8 L386.7 811.3 L390 810.8 L393.3 810.7 L396.6 810.4 L399.9 811.4 L403.2 810.9 L406.5 810.9 L409.8 811.1 L413.1 811.4 L416.4 810.4 L419.7 810.6 L423 811.4 L426.3 810.6 L429.6 811.1 L432.9 811.9 L436.2 810.2 L439.5 811 L442.8 811.2 L446.1 811.6 L449.4 810.8 L452.7 810.2 L456 810.3 L459.3 810.7 L462.6 810 L465.9 811.8 L469.2 810.3 L472.5 811.4 L475.8 811.1 L479.1 810.8 L482.4 810.9 L485.7 810 L488.9 810.6 L492.2 811 L495.5 810.8 L498.8 811 L502.1 810.9 L505.4 811.4 L508.7 810.4 L512 810.9 L515.3 811.3 L518.6 810.7 L521.9 810.5 L525.2 811.2 L528.5 811.3 L531.8 810.5 L535.1 810.4 L538.4 811 L541.7 811.3 L545 810.5 L548.3 810.4 L551.6 811.1 L554.9 812 L558.2 810.7 L561.5 810.6 L564.8 810.4 L568.1 811.4 L571.4 810.7 L574.7 810 L578 810.1 L581.3 810.2 L584.6 810.6 L587.9 810.8 L591.2 811.2 L594.5 810.3 L597.8 811.1 L601.1 810.1 L604.4 811.1 L607.7 810.9 L611 811.1 L614.3 810.1 L617.6 810.5 L620.9 810.8 L624.2 811.7 L627.5 811.1 L630.8 811.4 L634 811.2 L637.3 811.5 L640.6 811 L643.9 811.8 L647.2 811.2 L650.5 811 L653.8 811.7 L657.1 811.7 L660.4 811 L663.7 811.7 L667 810.7 L670.3 811.5 L673.6 810.4 L676.9 811.6 L680.2 810.7 L683.5 811.4 L686.8 811.5 L690.1 811.2 L693.4 810.4 L696.7 811 L700 811.2 L703.3 811.3 L703.3 909.2" fill="none" stroke="#e00000" stroke-width="1.5" stroke-linejoin="round"/>
<path d="M126.2 908.9 H703.3" fill="none" stroke="#000" stroke-opacity="0.13" stroke-width="1"/>
<path d="M104.6 940.5 L104.6 883 L107.9 882.7 L111.2 882.5 L114.5 882.8 L117.8 882.4 L121.1 883.5 L124.4 883.2 L127.7 883.1 L131 883.4 L134.3 882.5 L137.6 882.2 L140.9 882.8 L144.2 882.8 L147.5 882.3 L150.8 882.8 L154.1 883.2 L157.4 882.4 L160.7 882.6 L164 882.7 L167.3 882.7 L170.6 882.9 L173.9 882.7 L177.2 883 L180.5 882.1 L183.8 882.2 L187.1 882.7 L190.4 882.2 L193.7 882.1 L197 882.3 L200.3 882.4 L203.6 882 L206.9 882.5 L210.2 882.8 L213.5 881.5 L216.8 881.3 L220.1 882.4 L223.4 881.8 L226.7 882.7 L230 883 L233.3 882 L236.6 881.9 L239.9 882 L243.2 882.1 L246.5 882 L249.7 881.6 L253 882.1 L256.3 881.1 L259.6 882.1 L262.9 881.9 L266.2 882.4 L269.5 881.9 L272.8 882 L276.1 881.4 L279.4 881.9 L282.7 882.1 L286 882.2 L289.3 881.8 L292.6 882.4 L295.9 882.2 L299.2 881.5 L302.5 880.8 L305.8 881.3 L309.1 881.7 L312.4 881.7 L315.7 881.5 L319 881.5 L322.3 881.9 L325.6 881.4 L328.9 880.8 L332.2 881.5 L335.5 882 L338.8 881.2 L342.1 881.8 L345.4 881.8 L348.7 881.6 L352 881.7 L355.3 881.2 L358.6 881.6 L361.9 882.1 L365.2 881.5 L368.5 881.1 L371.8 882.1 L375.1 881 L378.4 882.2 L381.7 881.5 L385 881.8 L388.3 881.6 L391.6 881.5 L394.9 881.9 L398.2 881.5 L401.5 881.2 L404.8 881.5 L408.1 880.8 L411.4 881.4 L414.7 880.8 L418 881.5 L421.3 881.8 L424.6 881.8 L427.9 881.4 L431.2 880.6 L434.5 881.3 L437.8 882 L441.1 881.3 L444.4 881.7 L447.7 881.2 L451 882.1 L454.3 880.7 L457.6 881.3 L460.9 881.4 L464.2 881.7 L467.5 881.5 L470.8 881.6 L474.1 880.6 L477.4 882.3 L480.7 881.6 L484 881.3 L487.3 882.1 L490.6 881.1 L493.9 881.7 L497.2 881.9 L500.5 881.8 L503.8 881.6 L507.1 881.5 L510.4 881.1 L513.7 881.7 L517 881 L520.3 882 L523.6 881.9 L526.9 881.5 L530.2 880.8 L533.5 881.8 L536.8 881.8 L540 881.1 L543.3 881.4 L546.6 881.6 L549.9 881.8 L553.2 881.4 L556.5 881.2 L559.8 881.4 L563.1 881.2 L566.4 882.3 L569.7 882.3 L573 880.8 L576.3 881.4 L579.6 882.2 L582.9 882.1 L586.2 882.4 L589.5 882.1 L592.8 881.8 L596.1 881.7 L599.4 882.2 L602.7 881.8 L606 881 L609.3 881.7 L612.6 880.9 L615.9 882 L619.2 881.8 L622.5 881.6 L625.8 881.8 L629.1 881 L632.4 881.5 L635.7 881.4 L639 881.7 L642.3 881.6 L645.6 881.8 L648.9 881.8 L652.2 881.2 L655.5 881.2 L658.8 882.2 L662.1 881.4 L665.4 881.7 L668.7 882.1 L672 881.6 L675.3 882.6 L678.6 881.4 L681.9 881.8 L681.9 940.5 Z" fill="url(#Gb)"/>
<path d="M104.6 940.5 L104.6 883 L107.9 882.7 L111.2 882.5 L114.5 882.8 L117.8 882.4 L121.1 883.5 L124.4 883.2 L127.7 883.1 L131 883.4 L134.3 882.5 L137.6 882.2 L140.9 882.8 L144.2 882.8 L147.5 882.3 L150.8 882.8 L154.1 883.2 L157.4 882.4 L160.7 882.6 L164 882.7 L167.3 882.7 L170.6 882.9 L173.9 882.7 L177.2 883 L180.5 882.1 L183.8 882.2 L187.1 882.7 L190.4 882.2 L193.7 882.1 L197 882.3 L200.3 882.4 L203.6 882 L206.9 882.5 L210.2 882.8 L213.5 881.5 L216.8 881.3 L220.1 882.4 L223.4 881.8 L226.7 882.7 L230 883 L233.3 882 L236.6 881.9 L239.9 882 L243.2 882.1 L246.5 882 L249.7 881.6 L253 882.1 L256.3 881.1 L259.6 882.1 L262.9 881.9 L266.2 882.4 L269.5 881.9 L272.8 882 L276.1 881.4 L279.4 881.9 L282.7 882.1 L286 882.2 L289.3 881.8 L292.6 882.4 L295.9 882.2 L299.2 881.5 L302.5 880.8 L305.8 881.3 L309.1 881.7 L312.4 881.7 L315.7 881.5 L319 881.5 L322.3 881.9 L325.6 881.4 L328.9 880.8 L332.2 881.5 L335.5 882 L338.8 881.2 L342.1 881.8 L345.4 881.8 L348.7 881.6 L352 881.7 L355.3 881.2 L358.6 881.6 L361.9 882.1 L365.2 881.5 L368.5 881.1 L371.8 882.1 L375.1 881 L378.4 882.2 L381.7 881.5 L385 881.8 L388.3 881.6 L391.6 881.5 L394.9 881.9 L398.2 881.5 L401.5 881.2 L404.8 881.5 L408.1 880.8 L411.4 881.4 L414.7 880.8 L418 881.5 L421.3 881.8 L424.6 881.8 L427.9 881.4 L431.2 880.6 L434.5 881.3 L437.8 882 L441.1 881.3 L444.4 881.7 L447.7 881.2 L451 882.1 L454.3 880.7 L457.6 881.3 L460.9 881.4 L464.2 881.7 L467.5 881.5 L470.8 881.6 L474.1 880.6 L477.4 882.3 L480.7 881.6 L484 881.3 L487.3 882.1 L490.6 881.1 L493.9 881.7 L497.2 881.9 L500.5 881.8 L503.8 881.6 L507.1 881.5 L510.4 881.1 L513.7 881.7 L517 881 L520.3 882 L523.6 881.9 L526.9 881.5 L530.2 880.8 L533.5 881.8 L536.8 881.8 L540 881.1 L543.3 881.4 L546.6 881.6 L549.9 881.8 L553.2 881.4 L556.5 881.2 L559.8 881.4 L563.1 881.2 L566.4 882.3 L569.7 882.3 L573 880.8 L576.3 881.4 L579.6 882.2 L582.9 882.1 L586.2 882.4 L589.5 882.1 L592.8 881.8 L596.1 881.7 L599.4 882.2 L602.7 881.8 L606 881 L609.3 881.7 L612.6 880.9 L615.9 882 L619.2 881.8 L622.5 881.6 L625.8 881.8 L629.1 881 L632.4 881.5 L635.7 881.4 L639 881.7 L642.3 881.6 L645.6 881.8 L648.9 881.8 L652.2 881.2 L655.5 881.2 L658.8 882.2 L662.1 881.4 L665.4 881.7 L668.7 882.1 L672 881.6 L675.3 882.6 L678.6 881.4 L681.9 881.8 L681.9 940.5" fill="none" stroke="#0000d2" stroke-width="1.5" stroke-linejoin="round"/>
<path d="M104.6 940.2 H681.9" fill="none" stroke="#000" stroke-opacity="0.13" stroke-width="1"/>
<path d="M82.8 970.4 L82.8 945.3 L86.1 945.2 L89.4 945.5 L92.7 945.7 L96 945 L99.3 945.8 L102.6 945.5 L105.9 945.1 L109.2 945 L112.5 945.2 L115.8 945.1 L119.1 944.9 L122.4 944.7 L125.6 945.4 L128.9 945 L132.2 945.6 L135.5 945.7 L138.8 945.1 L142.1 945.6 L145.4 945.1 L148.7 945.7 L152 945.4 L155.3 944.7 L158.6 945 L161.9 945.1 L165.2 945.2 L168.5 945.5 L171.8 944.7 L175.1 945.1 L178.4 945.7 L181.7 945 L185 944.9 L188.3 945.1 L191.6 944.8 L194.9 945.3 L198.2 945.2 L201.5 945.3 L204.8 945.4 L208 945.6 L211.3 945 L214.6 945.2 L217.9 944.6 L221.2 945.4 L224.5 945.1 L227.8 945.2 L231.1 945 L234.4 945 L237.7 945.3 L241 945 L244.3 945.1 L247.6 945 L250.9 945 L254.2 945.2 L257.5 944.9 L260.8 944.9 L264.1 944.8 L267.4 944.9 L270.7 945 L274 944.9 L277.3 944.9 L280.6 945.2 L283.9 944.8 L287.2 944.9 L290.4 945.2 L293.7 944.9 L297 945.1 L300.3 944.6 L303.6 944.9 L306.9 945.5 L310.2 945.1 L313.5 945 L316.8 945 L320.1 944.7 L323.4 944.7 L326.7 944.9 L330 945.1 L333.3 944.4 L336.6 945.5 L339.9 944.7 L343.2 944.8 L346.5 944.4 L349.8 944.6 L353.1 944.9 L356.4 945 L359.7 944.6 L363 944.5 L366.3 944.6 L369.6 945.3 L372.8 944.8 L376.1 945.1 L379.4 945 L382.7 945.3 L386 945.1 L389.3 944.8 L392.6 944.7 L395.9 945.2 L399.2 945 L402.5 945 L405.8 945.2 L409.1 945 L412.4 945.1 L415.7 944.7 L419 944.6 L422.3 944.6 L425.6 944.7 L428.9 945.2 L432.2 945 L435.5 944.9 L438.8 944.6 L442.1 944.9 L445.4 945.3 L448.7 945.1 L452 944.9 L455.2 944.9 L458.5 945.1 L461.8 944.9 L465.1 945.1 L468.4 945.1 L471.7 945.1 L475 944.7 L478.3 944.6 L481.6 945.3 L484.9 944.6 L488.2 944.6 L491.5 944.8 L494.8 945 L498.1 944.8 L501.4 945.1 L504.7 944.5 L508 944.5 L511.3 944.7 L514.6 945 L517.9 945 L521.2 944.7 L524.5 945 L527.8 944.9 L531.1 944.8 L534.4 944.7 L537.6 944.9 L540.9 944.7 L544.2 944.8 L547.5 944.6 L550.8 944.7 L554.1 944.8 L557.4 944.7 L560.7 944.9 L564 944.9 L567.3 944.8 L570.6 945 L573.9 944.5 L577.2 945.1 L580.5 944.4 L583.8 945.1 L587.1 945.1 L590.4 945.2 L593.7 944.9 L597 945 L600.3 945 L603.6 944.9 L606.9 944.9 L610.2 945 L613.5 944.9 L616.8 944.8 L620 944.9 L623.3 944.9 L626.6 945.2 L629.9 944.6 L633.2 944.7 L636.5 945 L639.8 944.7 L643.1 944.6 L646.4 944.8 L649.7 945 L653 945.1 L656.3 944.5 L659.6 944.8 L659.6 970.4 Z" fill="url(#Gg)"/>
<path d="M82.8 970.4 L82.8 945.3 L86.1 945.2 L89.4 945.5 L92.7 945.7 L96 945 L99.3 945.8 L102.6 945.5 L105.9 945.1 L109.2 945 L112.5 945.2 L115.8 945.1 L119.1 944.9 L122.4 944.7 L125.6 945.4 L128.9 945 L132.2 945.6 L135.5 945.7 L138.8 945.1 L142.1 945.6 L145.4 945.1 L148.7 945.7 L152 945.4 L155.3 944.7 L158.6 945 L161.9 945.1 L165.2 945.2 L168.5 945.5 L171.8 944.7 L175.1 945.1 L178.4 945.7 L181.7 945 L185 944.9 L188.3 945.1 L191.6 944.8 L194.9 945.3 L198.2 945.2 L201.5 945.3 L204.8 945.4 L208 945.6 L211.3 945 L214.6 945.2 L217.9 944.6 L221.2 945.4 L224.5 945.1 L227.8 945.2 L231.1 945 L234.4 945 L237.7 945.3 L241 945 L244.3 945.1 L247.6 945 L250.9 945 L254.2 945.2 L257.5 944.9 L260.8 944.9 L264.1 944.8 L267.4 944.9 L270.7 945 L274 944.9 L277.3 944.9 L280.6 945.2 L283.9 944.8 L287.2 944.9 L290.4 945.2 L293.7 944.9 L297 945.1 L300.3 944.6 L303.6 944.9 L306.9 945.5 L310.2 945.1 L313.5 945 L316.8 945 L320.1 944.7 L323.4 944.7 L326.7 944.9 L330 945.1 L333.3 944.4 L336.6 945.5 L339.9 944.7 L343.2 944.8 L346.5 944.4 L349.8 944.6 L353.1 944.9 L356.4 945 L359.7 944.6 L363 944.5 L366.3 944.6 L369.6 945.3 L372.8 944.8 L376.1 945.1 L379.4 945 L382.7 945.3 L386 945.1 L389.3 944.8 L392.6 944.7 L395.9 945.2 L399.2 945 L402.5 945 L405.8 945.2 L409.1 945 L412.4 945.1 L415.7 944.7 L419 944.6 L422.3 944.6 L425.6 944.7 L428.9 945.2 L432.2 945 L435.5 944.9 L438.8 944.6 L442.1 944.9 L445.4 945.3 L448.7 945.1 L452 944.9 L455.2 944.9 L458.5 945.1 L461.8 944.9 L465.1 945.1 L468.4 945.1 L471.7 945.1 L475 944.7 L478.3 944.6 L481.6 945.3 L484.9 944.6 L488.2 944.6 L491.5 944.8 L494.8 945 L498.1 944.8 L501.4 945.1 L504.7 944.5 L508 944.5 L511.3 944.7 L514.6 945 L517.9 945 L521.2 944.7 L524.5 945 L527.8 944.9 L531.1 944.8 L534.4 944.7 L537.6 944.9 L540.9 944.7 L544.2 944.8 L547.5 944.6 L550.8 944.7 L554.1 944.8 L557.4 944.7 L560.7 944.9 L564 944.9 L567.3 944.8 L570.6 945 L573.9 944.5 L577.2 945.1 L580.5 944.4 L583.8 945.1 L587.1 945.1 L590.4 945.2 L593.7 944.9 L597 945 L600.3 945 L603.6 944.9 L606.9 944.9 L610.2 945 L613.5 944.9 L616.8 944.8 L620 944.9 L623.3 944.9 L626.6 945.2 L629.9 944.6 L633.2 944.7 L636.5 945 L639.8 944.7 L643.1 944.6 L646.4 944.8 L649.7 945 L653 945.1 L656.3 944.5 L659.6 944.8 L659.6 970.4" fill="none" stroke="#156e15" stroke-width="1.6" stroke-linejoin="round"/>
<path d="M82.8 970.1 H659.6" fill="none" stroke="#000" stroke-opacity="0.13" stroke-width="1"/>
<path d="M64.9 1002.2 L64.9 715.3 L174.3 560.9 L743.4 560.9 L743.4 847 L634.9 1002.2 Z" fill="none" stroke="#000" stroke-width="1.75" stroke-linejoin="miter"/>
<line x1="64.9" y1="1002.2" x2="64.9" y2="997.4" stroke="#000" stroke-width="1.5" />
<line x1="227.8" y1="1002.2" x2="227.8" y2="997.4" stroke="#000" stroke-width="1.5" />
<line x1="390.6" y1="1002.2" x2="390.6" y2="997.4" stroke="#000" stroke-width="1.5" />
<line x1="553.5" y1="1002.2" x2="553.5" y2="997.4" stroke="#000" stroke-width="1.5" />
<line x1="105.6" y1="1002.2" x2="105.6" y2="999.2" stroke="#000" stroke-width="1.3" />
<line x1="146.3" y1="1002.2" x2="146.3" y2="999.2" stroke="#000" stroke-width="1.3" />
<line x1="187" y1="1002.2" x2="187" y2="999.2" stroke="#000" stroke-width="1.3" />
<line x1="268.5" y1="1002.2" x2="268.5" y2="999.2" stroke="#000" stroke-width="1.3" />
<line x1="309.2" y1="1002.2" x2="309.2" y2="999.2" stroke="#000" stroke-width="1.3" />
<line x1="349.9" y1="1002.2" x2="349.9" y2="999.2" stroke="#000" stroke-width="1.3" />
<line x1="431.3" y1="1002.2" x2="431.3" y2="999.2" stroke="#000" stroke-width="1.3" />
<line x1="472" y1="1002.2" x2="472" y2="999.2" stroke="#000" stroke-width="1.3" />
<line x1="512.8" y1="1002.2" x2="512.8" y2="999.2" stroke="#000" stroke-width="1.3" />
<line x1="594.2" y1="1002.2" x2="594.2" y2="999.2" stroke="#000" stroke-width="1.3" />
<line x1="634.9" y1="1002.2" x2="634.9" y2="999.2" stroke="#000" stroke-width="1.3" />
<text transform="translate(65.9 1034.6) scale(0.975 1)" font-size="37.0" text-anchor="middle">1122</text>
<text transform="translate(228.8 1034.6) scale(0.975 1)" font-size="37.0" text-anchor="middle">1120</text>
<text transform="translate(391.6 1034.6) scale(0.975 1)" font-size="37.0" text-anchor="middle">1118</text>
<text transform="translate(554.5 1034.6) scale(0.975 1)" font-size="37.0" text-anchor="middle">1116</text>
<path d="M433.3 724.5 L378.4 941.5 L378.4 967" fill="none" stroke="#0404f0" stroke-width="5.5" stroke-linecap="round" stroke-linejoin="round"/>
<path d="M497.3 723.5 L440.6 941.7 L440.6 967" fill="none" stroke="#fb1010" stroke-width="5.5" stroke-linecap="round" stroke-linejoin="round"/>
<text transform="translate(182 625.3) scale(0.9717 1)" font-size="60" fill="#000" font-weight="bold">(c)</text>
<text transform="translate(239.4 695.3) scale(0.9161 1)" font-size="37.6" fill="#0404f0" font-weight="bold">Ga (Oxidized)</text>
<text transform="translate(486.2 678.3) scale(0.9143 1)" font-size="37.6" fill="#fb1010" font-weight="bold">Ga (InGaAs)</text>
<text transform="translate(168.3 1082.7) scale(0.9766 1)" font-size="39.2" fill="#000" font-weight="bold">Binding Energy (eV)</text>
<text transform="translate(39.5 992.6) rotate(-90) scale(0.951 1)" font-size="42.0" font-weight="bold">Intensity (a.u)</text></g>
<g id="panel-d"><path d="M796.2 877 L796.2 738.9 L799.5 738.4 L802.8 738.9 L806.1 738.8 L809.4 738.8 L812.7 738.4 L816 738.2 L819.2 738.3 L822.5 738.7 L825.8 738.3 L829.1 738.1 L832.4 737.9 L835.7 738.6 L839 738.2 L842.3 738.4 L845.6 738.1 L848.9 736.9 L852.2 737.7 L855.5 737.8 L858.7 737.6 L862 737.5 L865.3 737.1 L868.6 736.4 L871.9 735.8 L875.2 736.9 L878.5 736.8 L881.8 736.2 L885.1 735.9 L888.4 735.7 L891.7 735.6 L895 735.9 L898.3 734.4 L901.5 734.7 L904.8 733.8 L908.1 734.2 L911.4 733.8 L914.7 734.4 L918 733.4 L921.3 732.3 L924.6 732.7 L927.9 732.7 L931.2 732.3 L934.5 732.4 L937.8 730.9 L941 731.5 L944.3 731.1 L947.6 730.2 L950.9 730.1 L954.2 729.8 L957.5 729.6 L960.8 728.2 L964.1 728.8 L967.4 727.5 L970.7 727.8 L974 726.3 L977.3 727.1 L980.6 726.1 L983.8 725.2 L987.1 724.5 L990.4 723.1 L993.7 722.1 L997 720.5 L1000.3 718.7 L1003.6 717 L1006.9 716.7 L1010.2 714.1 L1013.5 713.1 L1016.8 711.6 L1020.1 709 L1023.3 707 L1026.6 704.5 L1029.9 702.4 L1033.2 701.7 L1036.5 698.4 L1039.8 696.5 L1043.1 693.9 L1046.4 691.9 L1049.7 689.8 L1053 687.8 L1056.3 685.2 L1059.6 683.1 L1062.9 682.4 L1066.1 679.5 L1069.4 678.7 L1072.7 676.5 L1076 675.8 L1079.3 672.7 L1082.6 671.9 L1085.9 671 L1089.2 670.8 L1092.5 669.9 L1095.8 669.6 L1099.1 670.5 L1102.4 670.6 L1105.6 670.9 L1108.9 671.8 L1112.2 671.5 L1115.5 673.7 L1118.8 674.1 L1122.1 675.6 L1125.4 676.9 L1128.7 679.7 L1132 681 L1135.3 683.2 L1138.6 684.8 L1141.9 687.1 L1145.2 689.8 L1148.4 691.1 L1151.7 694.7 L1155 695.9 L1158.3 697.9 L1161.6 700.5 L1164.9 702.3 L1168.2 703.7 L1171.5 706.2 L1174.8 707.8 L1178.1 710.5 L1181.4 711.7 L1184.7 712.3 L1187.9 714.2 L1191.2 716.8 L1194.5 718 L1197.8 719.5 L1201.1 719.7 L1204.4 721.3 L1207.7 723.5 L1211 723.7 L1214.3 724.3 L1217.6 726.2 L1220.9 725.7 L1224.2 727 L1227.5 727.6 L1230.7 727.8 L1234 728.8 L1237.3 730.3 L1240.6 730.6 L1243.9 731 L1247.2 732.3 L1250.5 731.7 L1253.8 732.7 L1257.1 732.2 L1260.4 733.1 L1263.7 734.2 L1267 734.5 L1270.2 734.6 L1273.5 734.2 L1276.8 734.3 L1280.1 734.7 L1283.4 733.8 L1286.7 734.7 L1290 734.9 L1293.3 734.7 L1296.6 734.5 L1299.9 734.9 L1303.2 734.6 L1306.5 735.2 L1309.8 735.4 L1313 735.5 L1316.3 734.9 L1319.6 735 L1322.9 735.3 L1326.2 735 L1329.5 735.4 L1332.8 734.7 L1336.1 735.4 L1339.4 735.7 L1342.7 735.7 L1346 735.8 L1349.3 736.2 L1352.5 735.8 L1355.8 735.6 L1359.1 736.2 L1362.4 736.1 L1365.7 736.1 L1369 736.1 L1372.3 735.9 L1372.3 877 Z" fill="url(#Gk)"/>
<path d="M796.2 877 L796.2 738.9 L799.5 738.4 L802.8 738.9 L806.1 738.8 L809.4 738.8 L812.7 738.4 L816 738.2 L819.2 738.3 L822.5 738.7 L825.8 738.3 L829.1 738.1 L832.4 737.9 L835.7 738.6 L839 738.2 L842.3 738.4 L845.6 738.1 L848.9 736.9 L852.2 737.7 L855.5 737.8 L858.7 737.6 L862 737.5 L865.3 737.1 L868.6 736.4 L871.9 735.8 L875.2 736.9 L878.5 736.8 L881.8 736.2 L885.1 735.9 L888.4 735.7 L891.7 735.6 L895 735.9 L898.3 734.4 L901.5 734.7 L904.8 733.8 L908.1 734.2 L911.4 733.8 L914.7 734.4 L918 733.4 L921.3 732.3 L924.6 732.7 L927.9 732.7 L931.2 732.3 L934.5 732.4 L937.8 730.9 L941 731.5 L944.3 731.1 L947.6 730.2 L950.9 730.1 L954.2 729.8 L957.5 729.6 L960.8 728.2 L964.1 728.8 L967.4 727.5 L970.7 727.8 L974 726.3 L977.3 727.1 L980.6 726.1 L983.8 725.2 L987.1 724.5 L990.4 723.1 L993.7 722.1 L997 720.5 L1000.3 718.7 L1003.6 717 L1006.9 716.7 L1010.2 714.1 L1013.5 713.1 L1016.8 711.6 L1020.1 709 L1023.3 707 L1026.6 704.5 L1029.9 702.4 L1033.2 701.7 L1036.5 698.4 L1039.8 696.5 L1043.1 693.9 L1046.4 691.9 L1049.7 689.8 L1053 687.8 L1056.3 685.2 L1059.6 683.1 L1062.9 682.4 L1066.1 679.5 L1069.4 678.7 L1072.7 676.5 L1076 675.8 L1079.3 672.7 L1082.6 671.9 L1085.9 671 L1089.2 670.8 L1092.5 669.9 L1095.8 669.6 L1099.1 670.5 L1102.4 670.6 L1105.6 670.9 L1108.9 671.8 L1112.2 671.5 L1115.5 673.7 L1118.8 674.1 L1122.1 675.6 L1125.4 676.9 L1128.7 679.7 L1132 681 L1135.3 683.2 L1138.6 684.8 L1141.9 687.1 L1145.2 689.8 L1148.4 691.1 L1151.7 694.7 L1155 695.9 L1158.3 697.9 L1161.6 700.5 L1164.9 702.3 L1168.2 703.7 L1171.5 706.2 L1174.8 707.8 L1178.1 710.5 L1181.4 711.7 L1184.7 712.3 L1187.9 714.2 L1191.2 716.8 L1194.5 718 L1197.8 719.5 L1201.1 719.7 L1204.4 721.3 L1207.7 723.5 L1211 723.7 L1214.3 724.3 L1217.6 726.2 L1220.9 725.7 L1224.2 727 L1227.5 727.6 L1230.7 727.8 L1234 728.8 L1237.3 730.3 L1240.6 730.6 L1243.9 731 L1247.2 732.3 L1250.5 731.7 L1253.8 732.7 L1257.1 732.2 L1260.4 733.1 L1263.7 734.2 L1267 734.5 L1270.2 734.6 L1273.5 734.2 L1276.8 734.3 L1280.1 734.7 L1283.4 733.8 L1286.7 734.7 L1290 734.9 L1293.3 734.7 L1296.6 734.5 L1299.9 734.9 L1303.2 734.6 L1306.5 735.2 L1309.8 735.4 L1313 735.5 L1316.3 734.9 L1319.6 735 L1322.9 735.3 L1326.2 735 L1329.5 735.4 L1332.8 734.7 L1336.1 735.4 L1339.4 735.7 L1342.7 735.7 L1346 735.8 L1349.3 736.2 L1352.5 735.8 L1355.8 735.6 L1359.1 736.2 L1362.4 736.1 L1365.7 736.1 L1369 736.1 L1372.3 735.9 L1372.3 877" fill="none" stroke="#000000" stroke-width="1.8" stroke-linejoin="round"/>
<path d="M796.2 876.7 H1372.3" fill="none" stroke="#000" stroke-opacity="0.13" stroke-width="1"/>
<path d="M774.4 909.2 L774.4 812.6 L777.7 811.9 L781 811.8 L784.3 812.1 L787.6 812.4 L790.9 811.7 L794.2 812.6 L797.5 812.1 L800.8 812.2 L804.1 811.9 L807.4 811.9 L810.7 811.9 L814 811 L817.2 812.1 L820.5 811.7 L823.8 811.4 L827.1 812.2 L830.4 811.5 L833.7 811.7 L837 810.9 L840.3 811.3 L843.6 810.9 L846.9 810.6 L850.2 810.9 L853.5 810.5 L856.8 809.6 L860.1 810.3 L863.4 810.2 L866.7 810.5 L870 810.3 L873.3 809.1 L876.6 809.6 L879.9 808.4 L883.2 808.8 L886.5 809.1 L889.8 808.6 L893.1 807.6 L896.4 808.5 L899.6 807.8 L902.9 807.4 L906.2 807.4 L909.5 807.2 L912.8 806.4 L916.1 806.2 L919.4 805.2 L922.7 804.9 L926 804.4 L929.3 803.9 L932.6 803.3 L935.9 802.2 L939.2 802.3 L942.5 801.3 L945.8 800 L949.1 799.3 L952.4 799.2 L955.7 798.2 L959 797.9 L962.3 797.1 L965.6 795.6 L968.9 794.1 L972.2 793.7 L975.5 792.6 L978.8 791.5 L982 789.5 L985.3 788.3 L988.6 787.2 L991.9 785.3 L995.2 783.8 L998.5 780.5 L1001.8 779 L1005.1 777.5 L1008.4 775.1 L1011.7 773.9 L1015 772.4 L1018.3 770.4 L1021.6 768.6 L1024.9 767.1 L1028.2 765.7 L1031.5 763.8 L1034.8 761.3 L1038.1 759.7 L1041.4 757.1 L1044.7 755.5 L1048 753.8 L1051.3 753.3 L1054.6 752.6 L1057.9 751.3 L1061.2 751.3 L1064.4 751.3 L1067.7 751.2 L1071 752.3 L1074.3 752.6 L1077.6 752.7 L1080.9 753.9 L1084.2 753.8 L1087.5 754.6 L1090.8 756.8 L1094.1 757.9 L1097.4 760 L1100.7 761.3 L1104 762.7 L1107.3 764.9 L1110.6 766.9 L1113.9 768.6 L1117.2 771.6 L1120.5 772.3 L1123.8 775.2 L1127.1 777.2 L1130.4 778.8 L1133.7 780.7 L1137 782.8 L1140.3 783.9 L1143.6 785.2 L1146.8 787.1 L1150.1 789.5 L1153.4 790.8 L1156.7 791 L1160 793.4 L1163.3 794.4 L1166.6 796.9 L1169.9 797.8 L1173.2 797.7 L1176.5 800.1 L1179.8 799.9 L1183.1 801.1 L1186.4 801.5 L1189.7 802.7 L1193 803.4 L1196.3 803.6 L1199.6 804.3 L1202.9 804.6 L1206.2 806.2 L1209.5 806.2 L1212.8 805.8 L1216.1 806.3 L1219.4 807 L1222.7 806.8 L1226 808 L1229.2 807.5 L1232.5 808.4 L1235.8 808.4 L1239.1 809.2 L1242.4 809.3 L1245.7 809.2 L1249 809.1 L1252.3 809.1 L1255.6 810.1 L1258.9 809.8 L1262.2 810.1 L1265.5 809.9 L1268.8 809.5 L1272.1 810.2 L1275.4 810.3 L1278.7 810.3 L1282 809.9 L1285.3 810.1 L1288.6 810.1 L1291.9 810.8 L1295.2 810.6 L1298.5 810.5 L1301.8 811.1 L1305.1 810.7 L1308.4 811.9 L1311.6 811.1 L1314.9 811.6 L1318.2 810.8 L1321.5 811.1 L1324.8 811.7 L1328.1 810.8 L1331.4 811.1 L1334.7 811.6 L1338 811.2 L1341.3 811.7 L1344.6 811.7 L1347.9 811.4 L1351.2 811.5 L1351.2 909.2 Z" fill="url(#Gr)"/>
<path d="M774.4 909.2 L774.4 812.6 L777.7 811.9 L781 811.8 L784.3 812.1 L787.6 812.4 L790.9 811.7 L794.2 812.6 L797.5 812.1 L800.8 812.2 L804.1 811.9 L807.4 811.9 L810.7 811.9 L814 811 L817.2 812.1 L820.5 811.7 L823.8 811.4 L827.1 812.2 L830.4 811.5 L833.7 811.7 L837 810.9 L840.3 811.3 L843.6 810.9 L846.9 810.6 L850.2 810.9 L853.5 810.5 L856.8 809.6 L860.1 810.3 L863.4 810.2 L866.7 810.5 L870 810.3 L873.3 809.1 L876.6 809.6 L879.9 808.4 L883.2 808.8 L886.5 809.1 L889.8 808.6 L893.1 807.6 L896.4 808.5 L899.6 807.8 L902.9 807.4 L906.2 807.4 L909.5 807.2 L912.8 806.4 L916.1 806.2 L919.4 805.2 L922.7 804.9 L926 804.4 L929.3 803.9 L932.6 803.3 L935.9 802.2 L939.2 802.3 L942.5 801.3 L945.8 800 L949.1 799.3 L952.4 799.2 L955.7 798.2 L959 797.9 L962.3 797.1 L965.6 795.6 L968.9 794.1 L972.2 793.7 L975.5 792.6 L978.8 791.5 L982 789.5 L985.3 788.3 L988.6 787.2 L991.9 785.3 L995.2 783.8 L998.5 780.5 L1001.8 779 L1005.1 777.5 L1008.4 775.1 L1011.7 773.9 L1015 772.4 L1018.3 770.4 L1021.6 768.6 L1024.9 767.1 L1028.2 765.7 L1031.5 763.8 L1034.8 761.3 L1038.1 759.7 L1041.4 757.1 L1044.7 755.5 L1048 753.8 L1051.3 753.3 L1054.6 752.6 L1057.9 751.3 L1061.2 751.3 L1064.4 751.3 L1067.7 751.2 L1071 752.3 L1074.3 752.6 L1077.6 752.7 L1080.9 753.9 L1084.2 753.8 L1087.5 754.6 L1090.8 756.8 L1094.1 757.9 L1097.4 760 L1100.7 761.3 L1104 762.7 L1107.3 764.9 L1110.6 766.9 L1113.9 768.6 L1117.2 771.6 L1120.5 772.3 L1123.8 775.2 L1127.1 777.2 L1130.4 778.8 L1133.7 780.7 L1137 782.8 L1140.3 783.9 L1143.6 785.2 L1146.8 787.1 L1150.1 789.5 L1153.4 790.8 L1156.7 791 L1160 793.4 L1163.3 794.4 L1166.6 796.9 L1169.9 797.8 L1173.2 797.7 L1176.5 800.1 L1179.8 799.9 L1183.1 801.1 L1186.4 801.5 L1189.7 802.7 L1193 803.4 L1196.3 803.6 L1199.6 804.3 L1202.9 804.6 L1206.2 806.2 L1209.5 806.2 L1212.8 805.8 L1216.1 806.3 L1219.4 807 L1222.7 806.8 L1226 808 L1229.2 807.5 L1232.5 808.4 L1235.8 808.4 L1239.1 809.2 L1242.4 809.3 L1245.7 809.2 L1249 809.1 L1252.3 809.1 L1255.6 810.1 L1258.9 809.8 L1262.2 810.1 L1265.5 809.9 L1268.8 809.5 L1272.1 810.2 L1275.4 810.3 L1278.7 810.3 L1282 809.9 L1285.3 810.1 L1288.6 810.1 L1291.9 810.8 L1295.2 810.6 L1298.5 810.5 L1301.8 811.1 L1305.1 810.7 L1308.4 811.9 L1311.6 811.1 L1314.9 811.6 L1318.2 810.8 L1321.5 811.1 L1324.8 811.7 L1328.1 810.8 L1331.4 811.1 L1334.7 811.6 L1338 811.2 L1341.3 811.7 L1344.6 811.7 L1347.9 811.4 L1351.2 811.5 L1351.2 909.2" fill="none" stroke="#e00000" stroke-width="1.5" stroke-linejoin="round"/>
<path d="M774.4 908.9 H1351.2" fill="none" stroke="#000" stroke-opacity="0.13" stroke-width="1"/>
<path d="M752.1 939.9 L752.1 881 L755.4 880.7 L758.7 880.2 L762 880.8 L765.3 880.7 L768.6 881.4 L771.9 881.3 L775.2 880.9 L778.5 881.4 L781.8 881.1 L785.1 880.7 L788.4 879.7 L791.7 880.1 L795 880.4 L798.3 879.8 L801.6 880.6 L804.9 880 L808.2 880.1 L811.5 879.7 L814.8 880.4 L818.1 879.5 L821.4 879.9 L824.7 880.1 L828 879.8 L831.3 878.9 L834.6 879.4 L837.9 878.7 L841.2 879.3 L844.5 878.7 L847.8 878.4 L851.1 878.5 L854.4 878.7 L857.7 878.2 L861 877.8 L864.3 878 L867.6 878 L870.9 877.6 L874.2 878 L877.5 876.9 L880.8 877.1 L884.1 876.8 L887.4 876.5 L890.7 876.7 L894 875.7 L897.2 876 L900.5 875.7 L903.8 875.3 L907.1 874.2 L910.4 874 L913.7 873.8 L917 873.9 L920.3 873.1 L923.6 872.3 L926.9 871.4 L930.2 870.8 L933.5 869.8 L936.8 869.7 L940.1 868.7 L943.4 867.5 L946.7 867.1 L950 865.8 L953.3 864.5 L956.6 863.1 L959.9 862.3 L963.2 860.8 L966.5 860.1 L969.8 858.1 L973.1 856.3 L976.4 855.5 L979.7 853.9 L983 852.4 L986.3 851.7 L989.6 849.5 L992.9 848.5 L996.2 847 L999.5 845.8 L1002.8 845 L1006.1 844.2 L1009.4 842.8 L1012.7 842 L1016 840.7 L1019.3 839.7 L1022.6 839.1 L1025.9 839.5 L1029.2 838.7 L1032.5 838.2 L1035.8 837.9 L1039.1 838.2 L1042.4 837.9 L1045.7 837.9 L1049 838.1 L1052.3 838 L1055.6 839.4 L1058.9 839.7 L1062.2 840 L1065.5 841 L1068.8 841.7 L1072.1 843.2 L1075.4 844.5 L1078.7 845.9 L1082 847.6 L1085.3 849.1 L1088.6 850.5 L1091.9 851.9 L1095.2 853.4 L1098.5 854.2 L1101.8 855.7 L1105.1 857 L1108.4 859 L1111.7 859.8 L1115 860.8 L1118.3 861.8 L1121.6 863.5 L1124.9 864.6 L1128.2 864.8 L1131.5 866.2 L1134.8 867.2 L1138.1 867.8 L1141.4 869.5 L1144.7 869.6 L1148 870.2 L1151.3 871.2 L1154.6 872 L1157.9 873.1 L1161.2 873.5 L1164.5 873.8 L1167.8 874.5 L1171.1 875.1 L1174.4 875.6 L1177.7 875.8 L1181 876.1 L1184.3 876.6 L1187.5 876.9 L1190.8 877.5 L1194.1 877.8 L1197.4 877.3 L1200.7 877.3 L1204 877.8 L1207.3 877.5 L1210.6 878.5 L1213.9 878.4 L1217.2 879.2 L1220.5 878.7 L1223.8 878.8 L1227.1 878.7 L1230.4 879.1 L1233.7 879.3 L1237 878.5 L1240.3 879.3 L1243.6 879.5 L1246.9 879.6 L1250.2 879.2 L1253.5 879.6 L1256.8 879.9 L1260.1 879.8 L1263.4 879.7 L1266.7 880.5 L1270 880 L1273.3 880 L1276.6 880.4 L1279.9 880.1 L1283.2 880.4 L1286.5 880.2 L1289.8 880.2 L1293.1 880.6 L1296.4 879.8 L1299.7 880.3 L1303 880.7 L1306.3 880.4 L1309.6 880.3 L1312.9 880.4 L1316.2 880.1 L1319.5 880.6 L1322.8 880.1 L1326.1 880.2 L1329.4 880.5 L1329.4 939.9 Z" fill="url(#Gb)"/>
<path d="M752.1 939.9 L752.1 881 L755.4 880.7 L758.7 880.2 L762 880.8 L765.3 880.7 L768.6 881.4 L771.9 881.3 L775.2 880.9 L778.5 881.4 L781.8 881.1 L785.1 880.7 L788.4 879.7 L791.7 880.1 L795 880.4 L798.3 879.8 L801.6 880.6 L804.9 880 L808.2 880.1 L811.5 879.7 L814.8 880.4 L818.1 879.5 L821.4 879.9 L824.7 880.1 L828 879.8 L831.3 878.9 L834.6 879.4 L837.9 878.7 L841.2 879.3 L844.5 878.7 L847.8 878.4 L851.1 878.5 L854.4 878.7 L857.7 878.2 L861 877.8 L864.3 878 L867.6 878 L870.9 877.6 L874.2 878 L877.5 876.9 L880.8 877.1 L884.1 876.8 L887.4 876.5 L890.7 876.7 L894 875.7 L897.2 876 L900.5 875.7 L903.8 875.3 L907.1 874.2 L910.4 874 L913.7 873.8 L917 873.9 L920.3 873.1 L923.6 872.3 L926.9 871.4 L930.2 870.8 L933.5 869.8 L936.8 869.7 L940.1 868.7 L943.4 867.5 L946.7 867.1 L950 865.8 L953.3 864.5 L956.6 863.1 L959.9 862.3 L963.2 860.8 L966.5 860.1 L969.8 858.1 L973.1 856.3 L976.4 855.5 L979.7 853.9 L983 852.4 L986.3 851.7 L989.6 849.5 L992.9 848.5 L996.2 847 L999.5 845.8 L1002.8 845 L1006.1 844.2 L1009.4 842.8 L1012.7 842 L1016 840.7 L1019.3 839.7 L1022.6 839.1 L1025.9 839.5 L1029.2 838.7 L1032.5 838.2 L1035.8 837.9 L1039.1 838.2 L1042.4 837.9 L1045.7 837.9 L1049 838.1 L1052.3 838 L1055.6 839.4 L1058.9 839.7 L1062.2 840 L1065.5 841 L1068.8 841.7 L1072.1 843.2 L1075.4 844.5 L1078.7 845.9 L1082 847.6 L1085.3 849.1 L1088.6 850.5 L1091.9 851.9 L1095.2 853.4 L1098.5 854.2 L1101.8 855.7 L1105.1 857 L1108.4 859 L1111.7 859.8 L1115 860.8 L1118.3 861.8 L1121.6 863.5 L1124.9 864.6 L1128.2 864.8 L1131.5 866.2 L1134.8 867.2 L1138.1 867.8 L1141.4 869.5 L1144.7 869.6 L1148 870.2 L1151.3 871.2 L1154.6 872 L1157.9 873.1 L1161.2 873.5 L1164.5 873.8 L1167.8 874.5 L1171.1 875.1 L1174.4 875.6 L1177.7 875.8 L1181 876.1 L1184.3 876.6 L1187.5 876.9 L1190.8 877.5 L1194.1 877.8 L1197.4 877.3 L1200.7 877.3 L1204 877.8 L1207.3 877.5 L1210.6 878.5 L1213.9 878.4 L1217.2 879.2 L1220.5 878.7 L1223.8 878.8 L1227.1 878.7 L1230.4 879.1 L1233.7 879.3 L1237 878.5 L1240.3 879.3 L1243.6 879.5 L1246.9 879.6 L1250.2 879.2 L1253.5 879.6 L1256.8 879.9 L1260.1 879.8 L1263.4 879.7 L1266.7 880.5 L1270 880 L1273.3 880 L1276.6 880.4 L1279.9 880.1 L1283.2 880.4 L1286.5 880.2 L1289.8 880.2 L1293.1 880.6 L1296.4 879.8 L1299.7 880.3 L1303 880.7 L1306.3 880.4 L1309.6 880.3 L1312.9 880.4 L1316.2 880.1 L1319.5 880.6 L1322.8 880.1 L1326.1 880.2 L1329.4 880.5 L1329.4 939.9" fill="none" stroke="#0000d2" stroke-width="1.5" stroke-linejoin="round"/>
<path d="M752.1 939.6 H1329.4" fill="none" stroke="#000" stroke-opacity="0.13" stroke-width="1"/>
<path d="M730.5 970.7 L730.5 940.2 L733.8 940.1 L737.1 939.9 L740.4 940.2 L743.7 939.9 L747 940.6 L750.3 939.8 L753.6 939.7 L756.9 939.6 L760.2 940.1 L763.5 939.6 L766.8 940.2 L770.1 939.6 L773.3 940 L776.6 940.4 L779.9 939.5 L783.2 939 L786.5 939.8 L789.8 939.8 L793.1 939.5 L796.4 939.5 L799.7 939.8 L803 938.9 L806.3 939.3 L809.6 939.8 L812.9 939 L816.2 939.1 L819.5 939 L822.8 939.3 L826.1 938.4 L829.4 938.7 L832.7 939 L836 939 L839.3 938.2 L842.6 938.6 L845.9 938.3 L849.2 938.3 L852.5 938.6 L855.7 937.5 L859 937.6 L862.3 937.7 L865.6 937 L868.9 937 L872.2 937.3 L875.5 937.4 L878.8 937.1 L882.1 936.8 L885.4 936.7 L888.7 936.7 L892 936.5 L895.3 935.7 L898.6 935.5 L901.9 936 L905.2 934.9 L908.5 935.4 L911.8 935 L915.1 934.2 L918.4 934 L921.7 933.7 L925 932.9 L928.3 932.3 L931.6 932.1 L934.9 931.6 L938.1 931.1 L941.4 929.9 L944.7 929.7 L948 929.1 L951.3 928.8 L954.6 927.8 L957.9 927 L961.2 926.7 L964.5 925.4 L967.8 924.9 L971.1 924.4 L974.4 924.2 L977.7 922.8 L981 922.5 L984.3 921.9 L987.6 920.9 L990.9 921.1 L994.2 920.3 L997.5 919.9 L1000.8 919.6 L1004.1 918.8 L1007.4 918.4 L1010.7 918.8 L1014 917.9 L1017.3 918 L1020.5 917.9 L1023.8 917.6 L1027.1 917.4 L1030.4 918.4 L1033.7 918 L1037 918.3 L1040.3 919 L1043.6 919.5 L1046.9 919.9 L1050.2 920 L1053.5 920.9 L1056.8 921 L1060.1 922.1 L1063.4 922.8 L1066.7 923.4 L1070 924.8 L1073.3 925.7 L1076.6 926.2 L1079.9 927 L1083.2 927.9 L1086.5 928.9 L1089.8 929.8 L1093.1 930 L1096.4 931 L1099.7 931.8 L1102.9 931.7 L1106.2 932.6 L1109.5 932.7 L1112.8 933.6 L1116.1 934.4 L1119.4 934.7 L1122.7 935.4 L1126 935.5 L1129.3 935.5 L1132.6 936.3 L1135.9 937.1 L1139.2 936.6 L1142.5 938 L1145.8 937.6 L1149.1 937.9 L1152.4 937.8 L1155.7 938.7 L1159 937.8 L1162.3 938.8 L1165.6 939.3 L1168.9 939 L1172.2 939.2 L1175.5 939.9 L1178.8 939 L1182.1 939.8 L1185.3 939.4 L1188.6 939.7 L1191.9 940.2 L1195.2 939.6 L1198.5 940 L1201.8 939.6 L1205.1 939.9 L1208.4 940.1 L1211.7 940.1 L1215 939.8 L1218.3 939.9 L1221.6 940 L1224.9 939.8 L1228.2 939.7 L1231.5 940.5 L1234.8 940 L1238.1 939.6 L1241.4 940.5 L1244.7 940.1 L1248 939.7 L1251.3 939.9 L1254.6 939.7 L1257.9 940.2 L1261.2 940.2 L1264.5 939.3 L1267.7 939.5 L1271 939.8 L1274.3 939.5 L1277.6 939.7 L1280.9 939.7 L1284.2 940.1 L1287.5 940.1 L1290.8 939.9 L1294.1 939.3 L1297.4 939.5 L1300.7 939.3 L1304 939.5 L1307.3 939.4 L1307.3 970.7 Z" fill="url(#Gg)"/>
<path d="M730.5 970.7 L730.5 940.2 L733.8 940.1 L737.1 939.9 L740.4 940.2 L743.7 939.9 L747 940.6 L750.3 939.8 L753.6 939.7 L756.9 939.6 L760.2 940.1 L763.5 939.6 L766.8 940.2 L770.1 939.6 L773.3 940 L776.6 940.4 L779.9 939.5 L783.2 939 L786.5 939.8 L789.8 939.8 L793.1 939.5 L796.4 939.5 L799.7 939.8 L803 938.9 L806.3 939.3 L809.6 939.8 L812.9 939 L816.2 939.1 L819.5 939 L822.8 939.3 L826.1 938.4 L829.4 938.7 L832.7 939 L836 939 L839.3 938.2 L842.6 938.6 L845.9 938.3 L849.2 938.3 L852.5 938.6 L855.7 937.5 L859 937.6 L862.3 937.7 L865.6 937 L868.9 937 L872.2 937.3 L875.5 937.4 L878.8 937.1 L882.1 936.8 L885.4 936.7 L888.7 936.7 L892 936.5 L895.3 935.7 L898.6 935.5 L901.9 936 L905.2 934.9 L908.5 935.4 L911.8 935 L915.1 934.2 L918.4 934 L921.7 933.7 L925 932.9 L928.3 932.3 L931.6 932.1 L934.9 931.6 L938.1 931.1 L941.4 929.9 L944.7 929.7 L948 929.1 L951.3 928.8 L954.6 927.8 L957.9 927 L961.2 926.7 L964.5 925.4 L967.8 924.9 L971.1 924.4 L974.4 924.2 L977.7 922.8 L981 922.5 L984.3 921.9 L987.6 920.9 L990.9 921.1 L994.2 920.3 L997.5 919.9 L1000.8 919.6 L1004.1 918.8 L1007.4 918.4 L1010.7 918.8 L1014 917.9 L1017.3 918 L1020.5 917.9 L1023.8 917.6 L1027.1 917.4 L1030.4 918.4 L1033.7 918 L1037 918.3 L1040.3 919 L1043.6 919.5 L1046.9 919.9 L1050.2 920 L1053.5 920.9 L1056.8 921 L1060.1 922.1 L1063.4 922.8 L1066.7 923.4 L1070 924.8 L1073.3 925.7 L1076.6 926.2 L1079.9 927 L1083.2 927.9 L1086.5 928.9 L1089.8 929.8 L1093.1 930 L1096.4 931 L1099.7 931.8 L1102.9 931.7 L1106.2 932.6 L1109.5 932.7 L1112.8 933.6 L1116.1 934.4 L1119.4 934.7 L1122.7 935.4 L1126 935.5 L1129.3 935.5 L1132.6 936.3 L1135.9 937.1 L1139.2 936.6 L1142.5 938 L1145.8 937.6 L1149.1 937.9 L1152.4 937.8 L1155.7 938.7 L1159 937.8 L1162.3 938.8 L1165.6 939.3 L1168.9 939 L1172.2 939.2 L1175.5 939.9 L1178.8 939 L1182.1 939.8 L1185.3 939.4 L1188.6 939.7 L1191.9 940.2 L1195.2 939.6 L1198.5 940 L1201.8 939.6 L1205.1 939.9 L1208.4 940.1 L1211.7 940.1 L1215 939.8 L1218.3 939.9 L1221.6 940 L1224.9 939.8 L1228.2 939.7 L1231.5 940.5 L1234.8 940 L1238.1 939.6 L1241.4 940.5 L1244.7 940.1 L1248 939.7 L1251.3 939.9 L1254.6 939.7 L1257.9 940.2 L1261.2 940.2 L1264.5 939.3 L1267.7 939.5 L1271 939.8 L1274.3 939.5 L1277.6 939.7 L1280.9 939.7 L1284.2 940.1 L1287.5 940.1 L1290.8 939.9 L1294.1 939.3 L1297.4 939.5 L1300.7 939.3 L1304 939.5 L1307.3 939.4 L1307.3 970.7" fill="none" stroke="#156e15" stroke-width="1.6" stroke-linejoin="round"/>
<path d="M730.5 970.4 H1307.3" fill="none" stroke="#000" stroke-opacity="0.13" stroke-width="1"/>
<path d="M713.1 1001.9 L713.1 716.3 L821.9 560.9 L1390.8 560.9 L1390.8 847 L1282 1001.9 Z" fill="none" stroke="#000" stroke-width="1.75" stroke-linejoin="miter"/>
<line x1="713.1" y1="1001.9" x2="713.1" y2="997.1" stroke="#000" stroke-width="1.5" />
<line x1="875.6" y1="1001.9" x2="875.6" y2="997.1" stroke="#000" stroke-width="1.5" />
<line x1="1038.2" y1="1001.9" x2="1038.2" y2="997.1" stroke="#000" stroke-width="1.5" />
<line x1="1200.7" y1="1001.9" x2="1200.7" y2="997.1" stroke="#000" stroke-width="1.5" />
<line x1="753.7" y1="1001.9" x2="753.7" y2="998.9" stroke="#000" stroke-width="1.3" />
<line x1="794.4" y1="1001.9" x2="794.4" y2="998.9" stroke="#000" stroke-width="1.3" />
<line x1="835" y1="1001.9" x2="835" y2="998.9" stroke="#000" stroke-width="1.3" />
<line x1="916.3" y1="1001.9" x2="916.3" y2="998.9" stroke="#000" stroke-width="1.3" />
<line x1="956.9" y1="1001.9" x2="956.9" y2="998.9" stroke="#000" stroke-width="1.3" />
<line x1="997.5" y1="1001.9" x2="997.5" y2="998.9" stroke="#000" stroke-width="1.3" />
<line x1="1078.8" y1="1001.9" x2="1078.8" y2="998.9" stroke="#000" stroke-width="1.3" />
<line x1="1119.5" y1="1001.9" x2="1119.5" y2="998.9" stroke="#000" stroke-width="1.3" />
<line x1="1160.1" y1="1001.9" x2="1160.1" y2="998.9" stroke="#000" stroke-width="1.3" />
<line x1="1241.4" y1="1001.9" x2="1241.4" y2="998.9" stroke="#000" stroke-width="1.3" />
<line x1="1282" y1="1001.9" x2="1282" y2="998.9" stroke="#000" stroke-width="1.3" />
<text transform="translate(713.9 1034.4) scale(0.975 1)" font-size="37.0" text-anchor="middle">1122</text>
<text transform="translate(876.4 1034.4) scale(0.975 1)" font-size="37.0" text-anchor="middle">1120</text>
<text transform="translate(1039 1034.4) scale(0.975 1)" font-size="37.0" text-anchor="middle">1118</text>
<text transform="translate(1201.5 1034.4) scale(0.975 1)" font-size="37.0" text-anchor="middle">1116</text>
<path d="M1094 669.8 L1059 800 L1048.2 842 L1030.3 912.5 L1030.3 966.6" fill="none" stroke="#0404f0" stroke-width="5.5" stroke-linecap="round" stroke-linejoin="round"/>
<path d="M1149.8 694.3 L1123.2 800 L1106.7 861 L1090.3 926 L1090.3 966.6" fill="none" stroke="#fb1010" stroke-width="5.5" stroke-linecap="round" stroke-linejoin="round"/>
<text transform="translate(828.7 625.3) scale(0.9787 1)" font-size="60" fill="#000" font-weight="bold">(d)</text>
<text transform="translate(915.7 641.9) scale(0.9207 1)" font-size="37.6" fill="#0404f0" font-weight="bold">Ga (Oxidized)</text>
<text transform="translate(1145.4 668.9) scale(0.9138 1)" font-size="37.6" fill="#fb1010" font-weight="bold">Ga (InGaAs)</text>
<text transform="translate(815.8 1082.7) scale(0.9766 1)" font-size="39.2" fill="#000" font-weight="bold">Binding Energy (eV)</text>
<text transform="translate(1419.4 575.4) rotate(90) scale(0.951 1)" font-size="42.0" font-weight="bold">Intensity (a.u)</text>
<text transform="matrix(1.0 0 -0.54 0.83 1307.3 982.5)" font-size="36.8">20</text>
<text transform="matrix(1.0 0 -0.54 0.83 1330.1 952)" font-size="36.8">43.3</text>
<text transform="matrix(1.0 0 -0.54 0.83 1352.9 921.5)" font-size="36.8">66.7</text>
<text transform="matrix(1.0 0 -0.54 0.83 1375.7 891)" font-size="36.8">90</text>
<text transform="matrix(0.588 -0.833 1.09 0.0 1423 988)" font-size="38" font-weight="bold" stroke="#000" stroke-width="0.5">Take-Off</text>
<text transform="matrix(0.588 -0.833 1.09 0.0 1471.3 990)" font-size="38" font-weight="bold" stroke="#000" stroke-width="0.5">Angle (°)</text></g>
<g id="panel-e"><path d="M149.3 1432 L149.3 1316.5 L152.6 1313.3 L155.9 1318.8 L159.2 1316.4 L162.5 1314.3 L165.8 1315.4 L169.1 1316.7 L172.4 1313.5 L175.7 1313.7 L179 1316.5 L182.3 1314.6 L185.7 1317.3 L189 1315 L192.3 1315 L195.6 1316.3 L198.9 1317.6 L202.2 1316.7 L205.5 1316.4 L208.8 1313.5 L212.1 1314.3 L215.4 1317 L218.7 1312.6 L222 1314.8 L225.3 1315.7 L228.6 1313.8 L231.9 1315.5 L235.2 1314.5 L238.5 1316.6 L241.8 1315.3 L245.1 1314 L248.4 1314.2 L251.7 1313 L255 1314.5 L258.4 1312.6 L261.7 1315.9 L265 1313.9 L268.3 1316.4 L271.6 1315 L274.9 1314 L278.2 1315.2 L281.5 1316.6 L284.8 1316.5 L288.1 1314.3 L291.4 1315.3 L294.7 1314.9 L298 1316.6 L301.3 1315 L304.6 1317 L307.9 1316 L311.2 1314.8 L314.5 1314.6 L317.8 1316.2 L321.1 1313.7 L324.4 1314.2 L327.7 1319.3 L331.1 1316.7 L334.4 1315.1 L337.7 1315.9 L341 1315.4 L344.3 1315 L347.6 1313.7 L350.9 1312.7 L354.2 1313.1 L357.5 1314.2 L360.8 1311.5 L364.1 1313.4 L367.4 1313.6 L370.7 1306.7 L374 1309.6 L377.3 1309.4 L380.6 1308.1 L383.9 1306.3 L387.2 1305.7 L390.5 1299.9 L393.8 1301.2 L397.1 1301.4 L400.4 1298.4 L403.8 1294.1 L407.1 1291.6 L410.4 1289.4 L413.7 1283.3 L417 1278.9 L420.3 1277.1 L423.6 1270.8 L426.9 1263 L430.2 1256.1 L433.5 1246.9 L436.8 1243.4 L440.1 1231.1 L443.4 1223.7 L446.7 1215.7 L450 1210.5 L453.3 1202.5 L456.6 1204.6 L459.9 1203.4 L463.2 1202.7 L466.5 1204.2 L469.8 1201 L473.2 1195.1 L476.5 1192.8 L479.8 1191.4 L483.1 1184.4 L486.4 1181.4 L489.7 1176 L493 1169.1 L496.3 1162.9 L499.6 1159.1 L502.9 1160.2 L506.2 1163.7 L509.5 1168.7 L512.8 1178.8 L516.1 1189.1 L519.4 1197.9 L522.7 1205.3 L526 1210.8 L529.3 1220.5 L532.6 1227.1 L535.9 1237.6 L539.2 1240.6 L542.5 1246.2 L545.9 1248.5 L549.2 1253.9 L552.5 1254.4 L555.8 1260.2 L559.1 1261.1 L562.4 1265.2 L565.7 1263.6 L569 1267.4 L572.3 1263.5 L575.6 1269.6 L578.9 1270.6 L582.2 1270 L585.5 1271.1 L588.8 1277.4 L592.1 1276.1 L595.4 1280.1 L598.7 1279.9 L602 1281.4 L605.3 1284.6 L608.6 1285.4 L611.9 1289 L615.2 1287.8 L618.6 1290.3 L621.9 1292.8 L625.2 1294.3 L628.5 1295.7 L631.8 1295.7 L635.1 1297.3 L638.4 1299.3 L641.7 1300.1 L645 1300.5 L648.3 1302.7 L651.6 1304.6 L654.9 1307.5 L658.2 1307.1 L661.5 1308 L664.8 1309 L668.1 1310.7 L671.4 1312.1 L674.7 1314.3 L678 1311.7 L681.3 1314.8 L684.6 1314.3 L687.9 1316.4 L691.3 1314.6 L694.6 1314.5 L697.9 1315.5 L701.2 1316.7 L704.5 1320.5 L707.8 1319.4 L711.1 1318.7 L714.4 1319.8 L717.7 1322.2 L721 1320.1 L724.3 1321 L724.3 1432 Z" fill="url(#Gk)"/>
<path d="M149.3 1432 L149.3 1316.5 L152.6 1313.3 L155.9 1318.8 L159.2 1316.4 L162.5 1314.3 L165.8 1315.4 L169.1 1316.7 L172.4 1313.5 L175.7 1313.7 L179 1316.5 L182.3 1314.6 L185.7 1317.3 L189 1315 L192.3 1315 L195.6 1316.3 L198.9 1317.6 L202.2 1316.7 L205.5 1316.4 L208.8 1313.5 L212.1 1314.3 L215.4 1317 L218.7 1312.6 L222 1314.8 L225.3 1315.7 L228.6 1313.8 L231.9 1315.5 L235.2 1314.5 L238.5 1316.6 L241.8 1315.3 L245.1 1314 L248.4 1314.2 L251.7 1313 L255 1314.5 L258.4 1312.6 L261.7 1315.9 L265 1313.9 L268.3 1316.4 L271.6 1315 L274.9 1314 L278.2 1315.2 L281.5 1316.6 L284.8 1316.5 L288.1 1314.3 L291.4 1315.3 L294.7 1314.9 L298 1316.6 L301.3 1315 L304.6 1317 L307.9 1316 L311.2 1314.8 L314.5 1314.6 L317.8 1316.2 L321.1 1313.7 L324.4 1314.2 L327.7 1319.3 L331.1 1316.7 L334.4 1315.1 L337.7 1315.9 L341 1315.4 L344.3 1315 L347.6 1313.7 L350.9 1312.7 L354.2 1313.1 L357.5 1314.2 L360.8 1311.5 L364.1 1313.4 L367.4 1313.6 L370.7 1306.7 L374 1309.6 L377.3 1309.4 L380.6 1308.1 L383.9 1306.3 L387.2 1305.7 L390.5 1299.9 L393.8 1301.2 L397.1 1301.4 L400.4 1298.4 L403.8 1294.1 L407.1 1291.6 L410.4 1289.4 L413.7 1283.3 L417 1278.9 L420.3 1277.1 L423.6 1270.8 L426.9 1263 L430.2 1256.1 L433.5 1246.9 L436.8 1243.4 L440.1 1231.1 L443.4 1223.7 L446.7 1215.7 L450 1210.5 L453.3 1202.5 L456.6 1204.6 L459.9 1203.4 L463.2 1202.7 L466.5 1204.2 L469.8 1201 L473.2 1195.1 L476.5 1192.8 L479.8 1191.4 L483.1 1184.4 L486.4 1181.4 L489.7 1176 L493 1169.1 L496.3 1162.9 L499.6 1159.1 L502.9 1160.2 L506.2 1163.7 L509.5 1168.7 L512.8 1178.8 L516.1 1189.1 L519.4 1197.9 L522.7 1205.3 L526 1210.8 L529.3 1220.5 L532.6 1227.1 L535.9 1237.6 L539.2 1240.6 L542.5 1246.2 L545.9 1248.5 L549.2 1253.9 L552.5 1254.4 L555.8 1260.2 L559.1 1261.1 L562.4 1265.2 L565.7 1263.6 L569 1267.4 L572.3 1263.5 L575.6 1269.6 L578.9 1270.6 L582.2 1270 L585.5 1271.1 L588.8 1277.4 L592.1 1276.1 L595.4 1280.1 L598.7 1279.9 L602 1281.4 L605.3 1284.6 L608.6 1285.4 L611.9 1289 L615.2 1287.8 L618.6 1290.3 L621.9 1292.8 L625.2 1294.3 L628.5 1295.7 L631.8 1295.7 L635.1 1297.3 L638.4 1299.3 L641.7 1300.1 L645 1300.5 L648.3 1302.7 L651.6 1304.6 L654.9 1307.5 L658.2 1307.1 L661.5 1308 L664.8 1309 L668.1 1310.7 L671.4 1312.1 L674.7 1314.3 L678 1311.7 L681.3 1314.8 L684.6 1314.3 L687.9 1316.4 L691.3 1314.6 L694.6 1314.5 L697.9 1315.5 L701.2 1316.7 L704.5 1320.5 L707.8 1319.4 L711.1 1318.7 L714.4 1319.8 L717.7 1322.2 L721 1320.1 L724.3 1321 L724.3 1432" fill="none" stroke="#000000" stroke-width="1.8" stroke-linejoin="round"/>
<path d="M149.3 1431.7 H724.3" fill="none" stroke="#000" stroke-opacity="0.13" stroke-width="1"/>
<path d="M126.2 1463.2 L126.2 1389.7 L129.5 1389.7 L132.8 1390.5 L136.1 1388.3 L139.4 1388.8 L142.7 1387.4 L146 1390 L149.2 1390.3 L152.5 1389.5 L155.8 1388.9 L159.1 1390.6 L162.4 1389.1 L165.7 1388.1 L169 1388.8 L172.3 1387.9 L175.6 1389 L178.9 1388.5 L182.2 1386.8 L185.5 1389 L188.8 1386.6 L192.1 1388.2 L195.3 1388.7 L198.6 1390.1 L201.9 1388.2 L205.2 1389 L208.5 1388.5 L211.8 1388.6 L215.1 1388.6 L218.4 1388.5 L221.7 1388.9 L225 1387.5 L228.3 1387.2 L231.6 1386.9 L234.9 1387.8 L238.1 1387.3 L241.4 1387.5 L244.7 1387.1 L248 1386.6 L251.3 1387.8 L254.6 1387.4 L257.9 1386.3 L261.2 1387.8 L264.5 1387.4 L267.8 1388.7 L271.1 1388.8 L274.4 1388.1 L277.7 1387.3 L281 1388 L284.2 1389 L287.5 1389.9 L290.8 1388.8 L294.1 1387.3 L297.4 1390 L300.7 1388.9 L304 1387.9 L307.3 1390 L310.6 1386.9 L313.9 1389.9 L317.2 1387.8 L320.5 1388.4 L323.8 1388.3 L327 1386.3 L330.3 1386.4 L333.6 1384.4 L336.9 1385.5 L340.2 1387.2 L343.5 1385.3 L346.8 1387.8 L350.1 1385.5 L353.4 1383.2 L356.7 1383.8 L360 1381.9 L363.3 1381.4 L366.6 1380.5 L369.9 1379.2 L373.1 1378.2 L376.4 1376.5 L379.7 1376.1 L383 1373.1 L386.3 1370.6 L389.6 1372 L392.9 1370.1 L396.2 1367.7 L399.5 1362.2 L402.8 1358.1 L406.1 1357.5 L409.4 1351.2 L412.7 1347.3 L415.9 1341.7 L419.2 1333.6 L422.5 1333.3 L425.8 1328.1 L429.1 1325.3 L432.4 1320.8 L435.7 1320.2 L439 1320.5 L442.3 1319 L445.6 1318.3 L448.9 1317.7 L452.2 1316.9 L455.5 1314.4 L458.7 1311.8 L462 1308.7 L465.3 1305.8 L468.6 1303 L471.9 1298.7 L475.2 1297.5 L478.5 1295.7 L481.8 1292.6 L485.1 1296.1 L488.4 1299.4 L491.7 1304.3 L495 1309.3 L498.3 1316.8 L501.6 1319.3 L504.8 1324.7 L508.1 1330.5 L511.4 1334.1 L514.7 1336.6 L518 1338.7 L521.3 1342 L524.6 1344.5 L527.9 1345.9 L531.2 1348.4 L534.5 1348.6 L537.8 1351.2 L541.1 1353.2 L544.4 1352.7 L547.6 1353.8 L550.9 1355.1 L554.2 1355.7 L557.5 1359.8 L560.8 1359.5 L564.1 1359.2 L567.4 1363.3 L570.7 1365.2 L574 1364.5 L577.3 1367.3 L580.6 1367.3 L583.9 1368.1 L587.2 1367.8 L590.5 1372.1 L593.7 1372 L597 1372.3 L600.3 1373.8 L603.6 1375.1 L606.9 1374.6 L610.2 1377.4 L613.5 1378 L616.8 1376.5 L620.1 1376.3 L623.4 1378.6 L626.7 1379.8 L630 1381.8 L633.3 1382.6 L636.5 1381.8 L639.8 1383.8 L643.1 1382.5 L646.4 1387.4 L649.7 1386.7 L653 1387.8 L656.3 1386.7 L659.6 1387.5 L662.9 1387.8 L666.2 1389.6 L669.5 1388.6 L672.8 1390.2 L676.1 1391.3 L679.4 1391.4 L682.6 1390.1 L685.9 1392.4 L689.2 1391.3 L692.5 1390.8 L695.8 1390.4 L699.1 1392 L702.4 1391.3 L702.4 1463.2 Z" fill="url(#Gr)"/>
<path d="M126.2 1463.2 L126.2 1389.7 L129.5 1389.7 L132.8 1390.5 L136.1 1388.3 L139.4 1388.8 L142.7 1387.4 L146 1390 L149.2 1390.3 L152.5 1389.5 L155.8 1388.9 L159.1 1390.6 L162.4 1389.1 L165.7 1388.1 L169 1388.8 L172.3 1387.9 L175.6 1389 L178.9 1388.5 L182.2 1386.8 L185.5 1389 L188.8 1386.6 L192.1 1388.2 L195.3 1388.7 L198.6 1390.1 L201.9 1388.2 L205.2 1389 L208.5 1388.5 L211.8 1388.6 L215.1 1388.6 L218.4 1388.5 L221.7 1388.9 L225 1387.5 L228.3 1387.2 L231.6 1386.9 L234.9 1387.8 L238.1 1387.3 L241.4 1387.5 L244.7 1387.1 L248 1386.6 L251.3 1387.8 L254.6 1387.4 L257.9 1386.3 L261.2 1387.8 L264.5 1387.4 L267.8 1388.7 L271.1 1388.8 L274.4 1388.1 L277.7 1387.3 L281 1388 L284.2 1389 L287.5 1389.9 L290.8 1388.8 L294.1 1387.3 L297.4 1390 L300.7 1388.9 L304 1387.9 L307.3 1390 L310.6 1386.9 L313.9 1389.9 L317.2 1387.8 L320.5 1388.4 L323.8 1388.3 L327 1386.3 L330.3 1386.4 L333.6 1384.4 L336.9 1385.5 L340.2 1387.2 L343.5 1385.3 L346.8 1387.8 L350.1 1385.5 L353.4 1383.2 L356.7 1383.8 L360 1381.9 L363.3 1381.4 L366.6 1380.5 L369.9 1379.2 L373.1 1378.2 L376.4 1376.5 L379.7 1376.1 L383 1373.1 L386.3 1370.6 L389.6 1372 L392.9 1370.1 L396.2 1367.7 L399.5 1362.2 L402.8 1358.1 L406.1 1357.5 L409.4 1351.2 L412.7 1347.3 L415.9 1341.7 L419.2 1333.6 L422.5 1333.3 L425.8 1328.1 L429.1 1325.3 L432.4 1320.8 L435.7 1320.2 L439 1320.5 L442.3 1319 L445.6 1318.3 L448.9 1317.7 L452.2 1316.9 L455.5 1314.4 L458.7 1311.8 L462 1308.7 L465.3 1305.8 L468.6 1303 L471.9 1298.7 L475.2 1297.5 L478.5 1295.7 L481.8 1292.6 L485.1 1296.1 L488.4 1299.4 L491.7 1304.3 L495 1309.3 L498.3 1316.8 L501.6 1319.3 L504.8 1324.7 L508.1 1330.5 L511.4 1334.1 L514.7 1336.6 L518 1338.7 L521.3 1342 L524.6 1344.5 L527.9 1345.9 L531.2 1348.4 L534.5 1348.6 L537.8 1351.2 L541.1 1353.2 L544.4 1352.7 L547.6 1353.8 L550.9 1355.1 L554.2 1355.7 L557.5 1359.8 L560.8 1359.5 L564.1 1359.2 L567.4 1363.3 L570.7 1365.2 L574 1364.5 L577.3 1367.3 L580.6 1367.3 L583.9 1368.1 L587.2 1367.8 L590.5 1372.1 L593.7 1372 L597 1372.3 L600.3 1373.8 L603.6 1375.1 L606.9 1374.6 L610.2 1377.4 L613.5 1378 L616.8 1376.5 L620.1 1376.3 L623.4 1378.6 L626.7 1379.8 L630 1381.8 L633.3 1382.6 L636.5 1381.8 L639.8 1383.8 L643.1 1382.5 L646.4 1387.4 L649.7 1386.7 L653 1387.8 L656.3 1386.7 L659.6 1387.5 L662.9 1387.8 L666.2 1389.6 L669.5 1388.6 L672.8 1390.2 L676.1 1391.3 L679.4 1391.4 L682.6 1390.1 L685.9 1392.4 L689.2 1391.3 L692.5 1390.8 L695.8 1390.4 L699.1 1392 L702.4 1391.3 L702.4 1463.2" fill="none" stroke="#e00000" stroke-width="1.5" stroke-linejoin="round"/>
<path d="M126.2 1462.9 H702.4" fill="none" stroke="#000" stroke-opacity="0.13" stroke-width="1"/>
<path d="M106.7 1495.3 L106.7 1445.6 L110 1444.4 L113.3 1443.3 L116.6 1446 L119.9 1443.2 L123.2 1445.9 L126.5 1444.7 L129.9 1446.1 L133.2 1444.1 L136.5 1444.4 L139.8 1444.1 L143.1 1445.1 L146.4 1445.4 L149.7 1445.4 L153 1444.5 L156.3 1445.5 L159.6 1446.4 L162.9 1445.1 L166.2 1444.5 L169.6 1445.8 L172.9 1446 L176.2 1445 L179.5 1445.1 L182.8 1446.2 L186.1 1445.3 L189.4 1443.5 L192.7 1445.1 L196 1445.3 L199.3 1446 L202.6 1445.2 L205.9 1443.1 L209.3 1446.8 L212.6 1443.5 L215.9 1444.9 L219.2 1443.1 L222.5 1443.1 L225.8 1445.6 L229.1 1445.6 L232.4 1444.3 L235.7 1443.4 L239 1443.2 L242.3 1445.4 L245.6 1445.6 L248.9 1445.3 L252.3 1446.3 L255.6 1445.6 L258.9 1444.5 L262.2 1444.6 L265.5 1444.5 L268.8 1443.9 L272.1 1444.1 L275.4 1445.7 L278.7 1444.6 L282 1447.4 L285.3 1443.7 L288.6 1445.4 L292 1447.6 L295.3 1444.6 L298.6 1445 L301.9 1447.7 L305.2 1444.3 L308.5 1445 L311.8 1445.1 L315.1 1445.9 L318.4 1446.2 L321.7 1442.8 L325 1443.8 L328.3 1443.3 L331.7 1441.1 L335 1441.5 L338.3 1441.3 L341.6 1442.3 L344.9 1440.1 L348.2 1442.1 L351.5 1438.2 L354.8 1438.2 L358.1 1437.1 L361.4 1436.6 L364.7 1435.4 L368 1435.1 L371.3 1432.5 L374.7 1429.9 L378 1429 L381.3 1426.4 L384.6 1422.9 L387.9 1424.7 L391.2 1420.2 L394.5 1419 L397.8 1417.3 L401.1 1414.2 L404.4 1413.6 L407.7 1411.6 L411 1413.3 L414.4 1410.5 L417.7 1411.8 L421 1408.8 L424.3 1409.4 L427.6 1407.7 L430.9 1407.8 L434.2 1407 L437.5 1403.8 L440.8 1404.2 L444.1 1403.3 L447.4 1400.2 L450.7 1398.6 L454 1397.2 L457.4 1397.4 L460.7 1399.3 L464 1398.5 L467.3 1399.9 L470.6 1403.5 L473.9 1404.3 L477.2 1407 L480.5 1410.2 L483.8 1412.8 L487.1 1411.7 L490.4 1414.9 L493.7 1418.2 L497.1 1419.7 L500.4 1419.6 L503.7 1420.5 L507 1420.9 L510.3 1422.6 L513.6 1422.8 L516.9 1424.6 L520.2 1425.6 L523.5 1424.1 L526.8 1425.4 L530.1 1425.9 L533.4 1426.7 L536.8 1426 L540.1 1425.6 L543.4 1426.7 L546.7 1426.1 L550 1426.7 L553.3 1428.3 L556.6 1426.3 L559.9 1429 L563.2 1432.2 L566.5 1429.5 L569.8 1431.4 L573.1 1434.1 L576.4 1434.8 L579.8 1435.2 L583.1 1433.7 L586.4 1433.9 L589.7 1437.1 L593 1439.3 L596.3 1435.6 L599.6 1437.9 L602.9 1437.8 L606.2 1439.5 L609.5 1440.7 L612.8 1442.6 L616.1 1442.4 L619.5 1442.1 L622.8 1443.5 L626.1 1443.3 L629.4 1443.7 L632.7 1446.1 L636 1445.5 L639.3 1445.6 L642.6 1446.4 L645.9 1446.9 L649.2 1445.5 L652.5 1446 L655.8 1447.9 L659.2 1447.8 L662.5 1446.7 L665.8 1447.9 L669.1 1449.1 L672.4 1445.4 L675.7 1447.8 L679 1446.8 L679 1495.3 Z" fill="url(#Gb)"/>
<path d="M106.7 1495.3 L106.7 1445.6 L110 1444.4 L113.3 1443.3 L116.6 1446 L119.9 1443.2 L123.2 1445.9 L126.5 1444.7 L129.9 1446.1 L133.2 1444.1 L136.5 1444.4 L139.8 1444.1 L143.1 1445.1 L146.4 1445.4 L149.7 1445.4 L153 1444.5 L156.3 1445.5 L159.6 1446.4 L162.9 1445.1 L166.2 1444.5 L169.6 1445.8 L172.9 1446 L176.2 1445 L179.5 1445.1 L182.8 1446.2 L186.1 1445.3 L189.4 1443.5 L192.7 1445.1 L196 1445.3 L199.3 1446 L202.6 1445.2 L205.9 1443.1 L209.3 1446.8 L212.6 1443.5 L215.9 1444.9 L219.2 1443.1 L222.5 1443.1 L225.8 1445.6 L229.1 1445.6 L232.4 1444.3 L235.7 1443.4 L239 1443.2 L242.3 1445.4 L245.6 1445.6 L248.9 1445.3 L252.3 1446.3 L255.6 1445.6 L258.9 1444.5 L262.2 1444.6 L265.5 1444.5 L268.8 1443.9 L272.1 1444.1 L275.4 1445.7 L278.7 1444.6 L282 1447.4 L285.3 1443.7 L288.6 1445.4 L292 1447.6 L295.3 1444.6 L298.6 1445 L301.9 1447.7 L305.2 1444.3 L308.5 1445 L311.8 1445.1 L315.1 1445.9 L318.4 1446.2 L321.7 1442.8 L325 1443.8 L328.3 1443.3 L331.7 1441.1 L335 1441.5 L338.3 1441.3 L341.6 1442.3 L344.9 1440.1 L348.2 1442.1 L351.5 1438.2 L354.8 1438.2 L358.1 1437.1 L361.4 1436.6 L364.7 1435.4 L368 1435.1 L371.3 1432.5 L374.7 1429.9 L378 1429 L381.3 1426.4 L384.6 1422.9 L387.9 1424.7 L391.2 1420.2 L394.5 1419 L397.8 1417.3 L401.1 1414.2 L404.4 1413.6 L407.7 1411.6 L411 1413.3 L414.4 1410.5 L417.7 1411.8 L421 1408.8 L424.3 1409.4 L427.6 1407.7 L430.9 1407.8 L434.2 1407 L437.5 1403.8 L440.8 1404.2 L444.1 1403.3 L447.4 1400.2 L450.7 1398.6 L454 1397.2 L457.4 1397.4 L460.7 1399.3 L464 1398.5 L467.3 1399.9 L470.6 1403.5 L473.9 1404.3 L477.2 1407 L480.5 1410.2 L483.8 1412.8 L487.1 1411.7 L490.4 1414.9 L493.7 1418.2 L497.1 1419.7 L500.4 1419.6 L503.7 1420.5 L507 1420.9 L510.3 1422.6 L513.6 1422.8 L516.9 1424.6 L520.2 1425.6 L523.5 1424.1 L526.8 1425.4 L530.1 1425.9 L533.4 1426.7 L536.8 1426 L540.1 1425.6 L543.4 1426.7 L546.7 1426.1 L550 1426.7 L553.3 1428.3 L556.6 1426.3 L559.9 1429 L563.2 1432.2 L566.5 1429.5 L569.8 1431.4 L573.1 1434.1 L576.4 1434.8 L579.8 1435.2 L583.1 1433.7 L586.4 1433.9 L589.7 1437.1 L593 1439.3 L596.3 1435.6 L599.6 1437.9 L602.9 1437.8 L606.2 1439.5 L609.5 1440.7 L612.8 1442.6 L616.1 1442.4 L619.5 1442.1 L622.8 1443.5 L626.1 1443.3 L629.4 1443.7 L632.7 1446.1 L636 1445.5 L639.3 1445.6 L642.6 1446.4 L645.9 1446.9 L649.2 1445.5 L652.5 1446 L655.8 1447.9 L659.2 1447.8 L662.5 1446.7 L665.8 1447.9 L669.1 1449.1 L672.4 1445.4 L675.7 1447.8 L679 1446.8 L679 1495.3" fill="none" stroke="#0000d2" stroke-width="1.5" stroke-linejoin="round"/>
<path d="M106.7 1495 H679" fill="none" stroke="#000" stroke-opacity="0.13" stroke-width="1"/>
<path d="M83 1526.1 L83 1499.7 L86.3 1500.3 L89.6 1499.4 L92.9 1500 L96.2 1500.5 L99.5 1500.4 L102.9 1499 L106.2 1499.8 L109.5 1499.9 L112.8 1499.6 L116.1 1501 L119.4 1498.2 L122.7 1501.5 L126 1500.3 L129.3 1499.8 L132.6 1499.9 L135.9 1499.6 L139.2 1499 L142.6 1501.4 L145.9 1499.8 L149.2 1498.9 L152.5 1499.3 L155.8 1500.8 L159.1 1499.6 L162.4 1501.7 L165.7 1500.7 L169 1500 L172.3 1500.8 L175.6 1498.7 L179 1498.9 L182.3 1500.1 L185.6 1499.4 L188.9 1500.6 L192.2 1498.3 L195.5 1499.3 L198.8 1499.4 L202.1 1501.4 L205.4 1500.6 L208.7 1500.5 L212 1499.4 L215.3 1499.1 L218.7 1500.6 L222 1500 L225.3 1500.8 L228.6 1499.8 L231.9 1500.2 L235.2 1499.1 L238.5 1499.4 L241.8 1500.4 L245.1 1499.7 L248.4 1499.3 L251.7 1500.7 L255 1500.1 L258.4 1500.8 L261.7 1501.8 L265 1499.1 L268.3 1501.2 L271.6 1499.8 L274.9 1500.7 L278.2 1499.5 L281.5 1500 L284.8 1499.4 L288.1 1498.9 L291.4 1500.4 L294.8 1499.7 L298.1 1499.5 L301.4 1500.3 L304.7 1500.6 L308 1501.6 L311.3 1500.2 L314.6 1499 L317.9 1499.1 L321.2 1500.8 L324.5 1499.1 L327.8 1499.8 L331.1 1498.6 L334.5 1498.4 L337.8 1496.5 L341.1 1497.9 L344.4 1495.6 L347.7 1494.8 L351 1494.1 L354.3 1492.7 L357.6 1493.2 L360.9 1492.7 L364.2 1492.3 L367.5 1490.6 L370.9 1489.4 L374.2 1489 L377.5 1487.9 L380.8 1487.9 L384.1 1487.9 L387.4 1488.4 L390.7 1489.2 L394 1489.1 L397.3 1489 L400.6 1488 L403.9 1487.5 L407.2 1485.9 L410.6 1484.7 L413.9 1486 L417.2 1483.8 L420.5 1484.4 L423.8 1484.4 L427.1 1483.9 L430.4 1484.2 L433.7 1484.5 L437 1486.1 L440.3 1484.5 L443.6 1484.5 L446.9 1484 L450.3 1485.4 L453.6 1485 L456.9 1487.3 L460.2 1487.2 L463.5 1488.4 L466.8 1488.5 L470.1 1486.7 L473.4 1488.8 L476.7 1489.3 L480 1488.9 L483.3 1490.7 L486.7 1489.2 L490 1489 L493.3 1487.9 L496.6 1489.4 L499.9 1489.9 L503.2 1491 L506.5 1488.9 L509.8 1490.7 L513.1 1490.8 L516.4 1491.3 L519.7 1491.9 L523 1492.2 L526.4 1491.7 L529.7 1491.7 L533 1492.9 L536.3 1493.9 L539.6 1492.9 L542.9 1494.6 L546.2 1496.1 L549.5 1493.4 L552.8 1496.2 L556.1 1495.6 L559.4 1495.5 L562.8 1496.2 L566.1 1496.3 L569.4 1496.1 L572.7 1497.1 L576 1497.4 L579.3 1497 L582.6 1497.3 L585.9 1497.3 L589.2 1498.2 L592.5 1499.4 L595.8 1499.2 L599.1 1497.8 L602.5 1498.8 L605.8 1500.9 L609.1 1499.7 L612.4 1499.8 L615.7 1498.9 L619 1501.3 L622.3 1500.6 L625.6 1501.7 L628.9 1502.3 L632.2 1499.4 L635.5 1501 L638.8 1500.6 L642.2 1502.9 L645.5 1502 L648.8 1501.6 L652.1 1501.1 L655.4 1501.6 L658.7 1501.3 L658.7 1526.1 Z" fill="url(#Gg)"/>
<path d="M83 1526.1 L83 1499.7 L86.3 1500.3 L89.6 1499.4 L92.9 1500 L96.2 1500.5 L99.5 1500.4 L102.9 1499 L106.2 1499.8 L109.5 1499.9 L112.8 1499.6 L116.1 1501 L119.4 1498.2 L122.7 1501.5 L126 1500.3 L129.3 1499.8 L132.6 1499.9 L135.9 1499.6 L139.2 1499 L142.6 1501.4 L145.9 1499.8 L149.2 1498.9 L152.5 1499.3 L155.8 1500.8 L159.1 1499.6 L162.4 1501.7 L165.7 1500.7 L169 1500 L172.3 1500.8 L175.6 1498.7 L179 1498.9 L182.3 1500.1 L185.6 1499.4 L188.9 1500.6 L192.2 1498.3 L195.5 1499.3 L198.8 1499.4 L202.1 1501.4 L205.4 1500.6 L208.7 1500.5 L212 1499.4 L215.3 1499.1 L218.7 1500.6 L222 1500 L225.3 1500.8 L228.6 1499.8 L231.9 1500.2 L235.2 1499.1 L238.5 1499.4 L241.8 1500.4 L245.1 1499.7 L248.4 1499.3 L251.7 1500.7 L255 1500.1 L258.4 1500.8 L261.7 1501.8 L265 1499.1 L268.3 1501.2 L271.6 1499.8 L274.9 1500.7 L278.2 1499.5 L281.5 1500 L284.8 1499.4 L288.1 1498.9 L291.4 1500.4 L294.8 1499.7 L298.1 1499.5 L301.4 1500.3 L304.7 1500.6 L308 1501.6 L311.3 1500.2 L314.6 1499 L317.9 1499.1 L321.2 1500.8 L324.5 1499.1 L327.8 1499.8 L331.1 1498.6 L334.5 1498.4 L337.8 1496.5 L341.1 1497.9 L344.4 1495.6 L347.7 1494.8 L351 1494.1 L354.3 1492.7 L357.6 1493.2 L360.9 1492.7 L364.2 1492.3 L367.5 1490.6 L370.9 1489.4 L374.2 1489 L377.5 1487.9 L380.8 1487.9 L384.1 1487.9 L387.4 1488.4 L390.7 1489.2 L394 1489.1 L397.3 1489 L400.6 1488 L403.9 1487.5 L407.2 1485.9 L410.6 1484.7 L413.9 1486 L417.2 1483.8 L420.5 1484.4 L423.8 1484.4 L427.1 1483.9 L430.4 1484.2 L433.7 1484.5 L437 1486.1 L440.3 1484.5 L443.6 1484.5 L446.9 1484 L450.3 1485.4 L453.6 1485 L456.9 1487.3 L460.2 1487.2 L463.5 1488.4 L466.8 1488.5 L470.1 1486.7 L473.4 1488.8 L476.7 1489.3 L480 1488.9 L483.3 1490.7 L486.7 1489.2 L490 1489 L493.3 1487.9 L496.6 1489.4 L499.9 1489.9 L503.2 1491 L506.5 1488.9 L509.8 1490.7 L513.1 1490.8 L516.4 1491.3 L519.7 1491.9 L523 1492.2 L526.4 1491.7 L529.7 1491.7 L533 1492.9 L536.3 1493.9 L539.6 1492.9 L542.9 1494.6 L546.2 1496.1 L549.5 1493.4 L552.8 1496.2 L556.1 1495.6 L559.4 1495.5 L562.8 1496.2 L566.1 1496.3 L569.4 1496.1 L572.7 1497.1 L576 1497.4 L579.3 1497 L582.6 1497.3 L585.9 1497.3 L589.2 1498.2 L592.5 1499.4 L595.8 1499.2 L599.1 1497.8 L602.5 1498.8 L605.8 1500.9 L609.1 1499.7 L612.4 1499.8 L615.7 1498.9 L619 1501.3 L622.3 1500.6 L625.6 1501.7 L628.9 1502.3 L632.2 1499.4 L635.5 1501 L638.8 1500.6 L642.2 1502.9 L645.5 1502 L648.8 1501.6 L652.1 1501.1 L655.4 1501.6 L658.7 1501.3 L658.7 1526.1" fill="none" stroke="#156e15" stroke-width="1.6" stroke-linejoin="round"/>
<path d="M83 1525.8 H658.7" fill="none" stroke="#000" stroke-opacity="0.13" stroke-width="1"/>
<path d="M64.5 1556.6 L64.5 1271.2 L174.3 1115.3 L743.4 1115.3 L743.4 1401.6 L634.7 1556.6 Z" fill="none" stroke="#000" stroke-width="1.75" stroke-linejoin="miter"/>
<line x1="64.5" y1="1556.6" x2="64.5" y2="1551.8" stroke="#000" stroke-width="1.5" />
<line x1="207.1" y1="1556.6" x2="207.1" y2="1551.8" stroke="#000" stroke-width="1.5" />
<line x1="349.6" y1="1556.6" x2="349.6" y2="1551.8" stroke="#000" stroke-width="1.5" />
<line x1="492.2" y1="1556.6" x2="492.2" y2="1551.8" stroke="#000" stroke-width="1.5" />
<line x1="634.7" y1="1556.6" x2="634.7" y2="1551.8" stroke="#000" stroke-width="1.5" />
<line x1="100.1" y1="1556.6" x2="100.1" y2="1553.6" stroke="#000" stroke-width="1.3" />
<line x1="135.8" y1="1556.6" x2="135.8" y2="1553.6" stroke="#000" stroke-width="1.3" />
<line x1="171.4" y1="1556.6" x2="171.4" y2="1553.6" stroke="#000" stroke-width="1.3" />
<line x1="242.7" y1="1556.6" x2="242.7" y2="1553.6" stroke="#000" stroke-width="1.3" />
<line x1="278.3" y1="1556.6" x2="278.3" y2="1553.6" stroke="#000" stroke-width="1.3" />
<line x1="314" y1="1556.6" x2="314" y2="1553.6" stroke="#000" stroke-width="1.3" />
<line x1="385.2" y1="1556.6" x2="385.2" y2="1553.6" stroke="#000" stroke-width="1.3" />
<line x1="420.9" y1="1556.6" x2="420.9" y2="1553.6" stroke="#000" stroke-width="1.3" />
<line x1="456.5" y1="1556.6" x2="456.5" y2="1553.6" stroke="#000" stroke-width="1.3" />
<line x1="527.8" y1="1556.6" x2="527.8" y2="1553.6" stroke="#000" stroke-width="1.3" />
<line x1="563.4" y1="1556.6" x2="563.4" y2="1553.6" stroke="#000" stroke-width="1.3" />
<line x1="599.1" y1="1556.6" x2="599.1" y2="1553.6" stroke="#000" stroke-width="1.3" />
<text transform="translate(64.5 1589.6) scale(0.975 1)" font-size="37.0" text-anchor="middle">46</text>
<text transform="translate(207.1 1589.6) scale(0.975 1)" font-size="37.0" text-anchor="middle">44</text>
<text transform="translate(349.6 1589.6) scale(0.975 1)" font-size="37.0" text-anchor="middle">42</text>
<text transform="translate(492.2 1589.6) scale(0.975 1)" font-size="37.0" text-anchor="middle">40</text>
<text transform="translate(634.7 1589.6) scale(0.975 1)" font-size="37.0" text-anchor="middle">38</text>
<path d="M455.9 1203 L434.6 1300 L414.3 1391.4 L401.6 1452.4 L393.4 1487.9 L393.4 1522" fill="none" stroke="#0404f0" stroke-width="5.5" stroke-linecap="round" stroke-linejoin="round"/>
<path d="M502.7 1161.2 L474 1300 L452.4 1394 L442.2 1439.7 L431.3 1487.9 L431.3 1522" fill="none" stroke="#fb1010" stroke-width="5.5" stroke-linecap="round" stroke-linejoin="round"/>
<text transform="translate(182 1179.1) scale(0.9717 1)" font-size="60" fill="#000" font-weight="bold">(e)</text>
<text transform="translate(256.9 1187.5) scale(0.9143 1)" font-size="37.6" fill="#0404f0" font-weight="bold">As (Oxidized)</text>
<text transform="translate(515.9 1156.5) scale(0.9085 1)" font-size="37.6" fill="#fb1010" font-weight="bold">As (InGaAs)</text>
<text transform="translate(168.3 1637.1) scale(0.9766 1)" font-size="39.2" fill="#000" font-weight="bold">Binding Energy (eV)</text>
<text transform="translate(39.5 1550.2) rotate(-90) scale(0.951 1)" font-size="42.0" font-weight="bold">Intensity (a.u)</text></g>
<g id="panel-f"><path d="M796.5 1431.5 L796.5 1313 L799.8 1311.3 L803.1 1312.3 L806.4 1314 L809.7 1316.4 L813 1310.1 L816.4 1310.4 L819.7 1313.3 L823 1310.1 L826.3 1310.1 L829.6 1314 L832.9 1312.6 L836.2 1310.7 L839.5 1312.6 L842.8 1311.5 L846.1 1310.7 L849.4 1307.8 L852.8 1313.3 L856.1 1310.5 L859.4 1311.4 L862.7 1309.2 L866 1312.7 L869.3 1313.4 L872.6 1314.6 L875.9 1312.3 L879.2 1313.5 L882.5 1310.9 L885.8 1308.8 L889.2 1314.1 L892.5 1311.2 L895.8 1312.5 L899.1 1310.8 L902.4 1313 L905.7 1314.4 L909 1311.8 L912.3 1313.1 L915.6 1310.4 L918.9 1313.4 L922.2 1310.9 L925.6 1312.3 L928.9 1308.4 L932.2 1311.3 L935.5 1312.3 L938.8 1311 L942.1 1306.2 L945.4 1310 L948.7 1312.9 L952 1308.7 L955.3 1309.5 L958.7 1308.9 L962 1311.1 L965.3 1308 L968.6 1308.3 L971.9 1311.2 L975.2 1305.6 L978.5 1306.9 L981.8 1306.8 L985.1 1309.4 L988.4 1307.6 L991.7 1307.3 L995.1 1305 L998.4 1306.9 L1001.7 1307.8 L1005 1305.4 L1008.3 1308.2 L1011.6 1311.3 L1014.9 1310.7 L1018.2 1306.8 L1021.5 1305.9 L1024.8 1304.1 L1028.1 1304.7 L1031.5 1302 L1034.8 1303.3 L1038.1 1301.9 L1041.4 1300 L1044.7 1298.4 L1048 1298.4 L1051.3 1296.5 L1054.6 1293.4 L1057.9 1294.6 L1061.2 1291.8 L1064.5 1284.8 L1067.9 1278.7 L1071.2 1274.8 L1074.5 1268.6 L1077.8 1261.7 L1081.1 1252.9 L1084.4 1251.8 L1087.7 1246 L1091 1237.1 L1094.3 1228.7 L1097.6 1220.5 L1100.9 1216.3 L1104.3 1210.7 L1107.6 1209.1 L1110.9 1208.3 L1114.2 1209.4 L1117.5 1207.5 L1120.8 1206.2 L1124.1 1207.3 L1127.4 1202.9 L1130.7 1198.7 L1134 1195.4 L1137.3 1195.5 L1140.7 1185.9 L1144 1180.6 L1147.3 1173.2 L1150.6 1175.8 L1153.9 1176.1 L1157.2 1176.3 L1160.5 1182.2 L1163.8 1186.3 L1167.1 1196.3 L1170.4 1204.2 L1173.7 1211.2 L1177.1 1223.3 L1180.4 1235 L1183.7 1239.5 L1187 1244.4 L1190.3 1244.3 L1193.6 1250.4 L1196.9 1247.4 L1200.2 1255.8 L1203.5 1255 L1206.8 1259.1 L1210.1 1261.9 L1213.5 1266.3 L1216.8 1268.5 L1220.1 1272.2 L1223.4 1272.6 L1226.7 1270.3 L1230 1274.2 L1233.3 1279 L1236.6 1278.9 L1239.9 1278.6 L1243.2 1277.5 L1246.6 1281.7 L1249.9 1281.8 L1253.2 1285.7 L1256.5 1284.8 L1259.8 1290.1 L1263.1 1292.5 L1266.4 1294.1 L1269.7 1295.3 L1273 1293.2 L1276.3 1299 L1279.6 1297.6 L1283 1304.1 L1286.3 1303.3 L1289.6 1297.8 L1292.9 1301.2 L1296.2 1299.8 L1299.5 1300.4 L1302.8 1304.6 L1306.1 1301 L1309.4 1301.7 L1312.7 1304.5 L1316 1305.8 L1319.4 1307.5 L1322.7 1309.6 L1326 1308.4 L1329.3 1311.2 L1332.6 1310.4 L1335.9 1310.2 L1339.2 1311.9 L1342.5 1310.5 L1345.8 1313 L1349.1 1312.7 L1352.4 1311 L1355.8 1311.5 L1359.1 1315.7 L1362.4 1310.6 L1365.7 1317.7 L1369 1318.6 L1372.3 1316.2 L1372.3 1431.5 Z" fill="url(#Gk)"/>
<path d="M796.5 1431.5 L796.5 1313 L799.8 1311.3 L803.1 1312.3 L806.4 1314 L809.7 1316.4 L813 1310.1 L816.4 1310.4 L819.7 1313.3 L823 1310.1 L826.3 1310.1 L829.6 1314 L832.9 1312.6 L836.2 1310.7 L839.5 1312.6 L842.8 1311.5 L846.1 1310.7 L849.4 1307.8 L852.8 1313.3 L856.1 1310.5 L859.4 1311.4 L862.7 1309.2 L866 1312.7 L869.3 1313.4 L872.6 1314.6 L875.9 1312.3 L879.2 1313.5 L882.5 1310.9 L885.8 1308.8 L889.2 1314.1 L892.5 1311.2 L895.8 1312.5 L899.1 1310.8 L902.4 1313 L905.7 1314.4 L909 1311.8 L912.3 1313.1 L915.6 1310.4 L918.9 1313.4 L922.2 1310.9 L925.6 1312.3 L928.9 1308.4 L932.2 1311.3 L935.5 1312.3 L938.8 1311 L942.1 1306.2 L945.4 1310 L948.7 1312.9 L952 1308.7 L955.3 1309.5 L958.7 1308.9 L962 1311.1 L965.3 1308 L968.6 1308.3 L971.9 1311.2 L975.2 1305.6 L978.5 1306.9 L981.8 1306.8 L985.1 1309.4 L988.4 1307.6 L991.7 1307.3 L995.1 1305 L998.4 1306.9 L1001.7 1307.8 L1005 1305.4 L1008.3 1308.2 L1011.6 1311.3 L1014.9 1310.7 L1018.2 1306.8 L1021.5 1305.9 L1024.8 1304.1 L1028.1 1304.7 L1031.5 1302 L1034.8 1303.3 L1038.1 1301.9 L1041.4 1300 L1044.7 1298.4 L1048 1298.4 L1051.3 1296.5 L1054.6 1293.4 L1057.9 1294.6 L1061.2 1291.8 L1064.5 1284.8 L1067.9 1278.7 L1071.2 1274.8 L1074.5 1268.6 L1077.8 1261.7 L1081.1 1252.9 L1084.4 1251.8 L1087.7 1246 L1091 1237.1 L1094.3 1228.7 L1097.6 1220.5 L1100.9 1216.3 L1104.3 1210.7 L1107.6 1209.1 L1110.9 1208.3 L1114.2 1209.4 L1117.5 1207.5 L1120.8 1206.2 L1124.1 1207.3 L1127.4 1202.9 L1130.7 1198.7 L1134 1195.4 L1137.3 1195.5 L1140.7 1185.9 L1144 1180.6 L1147.3 1173.2 L1150.6 1175.8 L1153.9 1176.1 L1157.2 1176.3 L1160.5 1182.2 L1163.8 1186.3 L1167.1 1196.3 L1170.4 1204.2 L1173.7 1211.2 L1177.1 1223.3 L1180.4 1235 L1183.7 1239.5 L1187 1244.4 L1190.3 1244.3 L1193.6 1250.4 L1196.9 1247.4 L1200.2 1255.8 L1203.5 1255 L1206.8 1259.1 L1210.1 1261.9 L1213.5 1266.3 L1216.8 1268.5 L1220.1 1272.2 L1223.4 1272.6 L1226.7 1270.3 L1230 1274.2 L1233.3 1279 L1236.6 1278.9 L1239.9 1278.6 L1243.2 1277.5 L1246.6 1281.7 L1249.9 1281.8 L1253.2 1285.7 L1256.5 1284.8 L1259.8 1290.1 L1263.1 1292.5 L1266.4 1294.1 L1269.7 1295.3 L1273 1293.2 L1276.3 1299 L1279.6 1297.6 L1283 1304.1 L1286.3 1303.3 L1289.6 1297.8 L1292.9 1301.2 L1296.2 1299.8 L1299.5 1300.4 L1302.8 1304.6 L1306.1 1301 L1309.4 1301.7 L1312.7 1304.5 L1316 1305.8 L1319.4 1307.5 L1322.7 1309.6 L1326 1308.4 L1329.3 1311.2 L1332.6 1310.4 L1335.9 1310.2 L1339.2 1311.9 L1342.5 1310.5 L1345.8 1313 L1349.1 1312.7 L1352.4 1311 L1355.8 1311.5 L1359.1 1315.7 L1362.4 1310.6 L1365.7 1317.7 L1369 1318.6 L1372.3 1316.2 L1372.3 1431.5" fill="none" stroke="#000000" stroke-width="1.8" stroke-linejoin="round"/>
<path d="M796.5 1431.2 H1372.3" fill="none" stroke="#000" stroke-opacity="0.13" stroke-width="1"/>
<path d="M774.4 1462.5 L774.4 1386.1 L777.7 1386.4 L781 1385.7 L784.3 1385.7 L787.6 1387 L790.9 1386.9 L794.2 1387.4 L797.5 1385.5 L800.8 1385.5 L804.1 1387.2 L807.4 1387.5 L810.7 1383.8 L814 1384.9 L817.2 1385.6 L820.5 1386.1 L823.8 1384.4 L827.1 1386.7 L830.4 1385.7 L833.7 1387 L837 1385.4 L840.3 1386.5 L843.6 1384.4 L846.9 1383.2 L850.2 1385.9 L853.5 1386.1 L856.8 1382.6 L860.1 1386 L863.4 1383.1 L866.7 1385.7 L870 1385 L873.3 1385.6 L876.6 1386.9 L879.9 1386 L883.2 1384.1 L886.5 1384.4 L889.8 1386.7 L893.1 1384.3 L896.4 1385.4 L899.6 1382.8 L902.9 1387.5 L906.2 1384 L909.5 1383 L912.8 1383.5 L916.1 1384 L919.4 1382.2 L922.7 1382.8 L926 1384.7 L929.3 1382.5 L932.6 1384.6 L935.9 1383.4 L939.2 1383.5 L942.5 1383.6 L945.8 1384 L949.1 1382.9 L952.4 1382.3 L955.7 1382.7 L959 1380.8 L962.3 1382.2 L965.6 1384 L968.9 1382.7 L972.2 1383.1 L975.5 1380.9 L978.8 1381.2 L982 1381.8 L985.3 1380.9 L988.6 1380.3 L991.9 1379.5 L995.2 1379.1 L998.5 1378.4 L1001.8 1378.4 L1005.1 1377 L1008.4 1377.8 L1011.7 1376.7 L1015 1376.3 L1018.3 1376.1 L1021.6 1376.4 L1024.9 1373.8 L1028.2 1373.4 L1031.5 1373.6 L1034.8 1367.6 L1038.1 1368.3 L1041.4 1366.5 L1044.7 1361.5 L1048 1358.9 L1051.3 1354.3 L1054.6 1347.6 L1057.9 1345.9 L1061.2 1337.8 L1064.4 1336.4 L1067.7 1330 L1071 1328.3 L1074.3 1321.2 L1077.6 1324.2 L1080.9 1318.5 L1084.2 1317.8 L1087.5 1314.8 L1090.8 1315.7 L1094.1 1312.3 L1097.4 1311.6 L1100.7 1313.8 L1104 1312.8 L1107.3 1310.6 L1110.6 1305.9 L1113.9 1303 L1117.2 1295.6 L1120.5 1294.9 L1123.8 1290.1 L1127.1 1293.4 L1130.4 1293.8 L1133.7 1292.2 L1137 1295.8 L1140.3 1299.1 L1143.6 1302.5 L1146.8 1307.7 L1150.1 1316 L1153.4 1318.8 L1156.7 1324.7 L1160 1333.2 L1163.3 1334.6 L1166.6 1337 L1169.9 1343.8 L1173.2 1343.8 L1176.5 1345.8 L1179.8 1348 L1183.1 1349.4 L1186.4 1349.7 L1189.7 1350.9 L1193 1350.1 L1196.3 1352.4 L1199.6 1354.2 L1202.9 1354.1 L1206.2 1354.8 L1209.5 1357.5 L1212.8 1360.3 L1216.1 1357.8 L1219.4 1358.3 L1222.7 1361.3 L1226 1362.1 L1229.2 1363.5 L1232.5 1366.1 L1235.8 1364.4 L1239.1 1365.8 L1242.4 1367.5 L1245.7 1371.5 L1249 1372.9 L1252.3 1372.9 L1255.6 1373 L1258.9 1373.6 L1262.2 1373.7 L1265.5 1376.4 L1268.8 1378.5 L1272.1 1377.3 L1275.4 1379.1 L1278.7 1380.2 L1282 1378.4 L1285.3 1381.2 L1288.6 1384.5 L1291.9 1381.9 L1295.2 1382.5 L1298.5 1385.9 L1301.8 1383.7 L1305.1 1384.7 L1308.4 1385.5 L1311.6 1385.4 L1314.9 1385.1 L1318.2 1386.9 L1321.5 1384.5 L1324.8 1385.7 L1328.1 1388.3 L1331.4 1386.6 L1334.7 1387.4 L1338 1389.9 L1341.3 1386.8 L1344.6 1386 L1347.9 1388.1 L1351.2 1387.3 L1351.2 1462.5 Z" fill="url(#Gr)"/>
<path d="M774.4 1462.5 L774.4 1386.1 L777.7 1386.4 L781 1385.7 L784.3 1385.7 L787.6 1387 L790.9 1386.9 L794.2 1387.4 L797.5 1385.5 L800.8 1385.5 L804.1 1387.2 L807.4 1387.5 L810.7 1383.8 L814 1384.9 L817.2 1385.6 L820.5 1386.1 L823.8 1384.4 L827.1 1386.7 L830.4 1385.7 L833.7 1387 L837 1385.4 L840.3 1386.5 L843.6 1384.4 L846.9 1383.2 L850.2 1385.9 L853.5 1386.1 L856.8 1382.6 L860.1 1386 L863.4 1383.1 L866.7 1385.7 L870 1385 L873.3 1385.6 L876.6 1386.9 L879.9 1386 L883.2 1384.1 L886.5 1384.4 L889.8 1386.7 L893.1 1384.3 L896.4 1385.4 L899.6 1382.8 L902.9 1387.5 L906.2 1384 L909.5 1383 L912.8 1383.5 L916.1 1384 L919.4 1382.2 L922.7 1382.8 L926 1384.7 L929.3 1382.5 L932.6 1384.6 L935.9 1383.4 L939.2 1383.5 L942.5 1383.6 L945.8 1384 L949.1 1382.9 L952.4 1382.3 L955.7 1382.7 L959 1380.8 L962.3 1382.2 L965.6 1384 L968.9 1382.7 L972.2 1383.1 L975.5 1380.9 L978.8 1381.2 L982 1381.8 L985.3 1380.9 L988.6 1380.3 L991.9 1379.5 L995.2 1379.1 L998.5 1378.4 L1001.8 1378.4 L1005.1 1377 L1008.4 1377.8 L1011.7 1376.7 L1015 1376.3 L1018.3 1376.1 L1021.6 1376.4 L1024.9 1373.8 L1028.2 1373.4 L1031.5 1373.6 L1034.8 1367.6 L1038.1 1368.3 L1041.4 1366.5 L1044.7 1361.5 L1048 1358.9 L1051.3 1354.3 L1054.6 1347.6 L1057.9 1345.9 L1061.2 1337.8 L1064.4 1336.4 L1067.7 1330 L1071 1328.3 L1074.3 1321.2 L1077.6 1324.2 L1080.9 1318.5 L1084.2 1317.8 L1087.5 1314.8 L1090.8 1315.7 L1094.1 1312.3 L1097.4 1311.6 L1100.7 1313.8 L1104 1312.8 L1107.3 1310.6 L1110.6 1305.9 L1113.9 1303 L1117.2 1295.6 L1120.5 1294.9 L1123.8 1290.1 L1127.1 1293.4 L1130.4 1293.8 L1133.7 1292.2 L1137 1295.8 L1140.3 1299.1 L1143.6 1302.5 L1146.8 1307.7 L1150.1 1316 L1153.4 1318.8 L1156.7 1324.7 L1160 1333.2 L1163.3 1334.6 L1166.6 1337 L1169.9 1343.8 L1173.2 1343.8 L1176.5 1345.8 L1179.8 1348 L1183.1 1349.4 L1186.4 1349.7 L1189.7 1350.9 L1193 1350.1 L1196.3 1352.4 L1199.6 1354.2 L1202.9 1354.1 L1206.2 1354.8 L1209.5 1357.5 L1212.8 1360.3 L1216.1 1357.8 L1219.4 1358.3 L1222.7 1361.3 L1226 1362.1 L1229.2 1363.5 L1232.5 1366.1 L1235.8 1364.4 L1239.1 1365.8 L1242.4 1367.5 L1245.7 1371.5 L1249 1372.9 L1252.3 1372.9 L1255.6 1373 L1258.9 1373.6 L1262.2 1373.7 L1265.5 1376.4 L1268.8 1378.5 L1272.1 1377.3 L1275.4 1379.1 L1278.7 1380.2 L1282 1378.4 L1285.3 1381.2 L1288.6 1384.5 L1291.9 1381.9 L1295.2 1382.5 L1298.5 1385.9 L1301.8 1383.7 L1305.1 1384.7 L1308.4 1385.5 L1311.6 1385.4 L1314.9 1385.1 L1318.2 1386.9 L1321.5 1384.5 L1324.8 1385.7 L1328.1 1388.3 L1331.4 1386.6 L1334.7 1387.4 L1338 1389.9 L1341.3 1386.8 L1344.6 1386 L1347.9 1388.1 L1351.2 1387.3 L1351.2 1462.5" fill="none" stroke="#e00000" stroke-width="1.5" stroke-linejoin="round"/>
<path d="M774.4 1462.2 H1351.2" fill="none" stroke="#000" stroke-opacity="0.13" stroke-width="1"/>
<path d="M752.1 1494.5 L752.1 1443.7 L755.4 1443.6 L758.7 1443.1 L762 1442.4 L765.3 1442.9 L768.6 1441.2 L771.9 1443.1 L775.2 1441 L778.5 1443 L781.8 1443.5 L785.1 1443 L788.4 1443.5 L791.7 1443.9 L794.9 1445.7 L798.2 1444.2 L801.5 1445.2 L804.8 1443.4 L808.1 1443.4 L811.4 1444.3 L814.7 1444.7 L818 1443.8 L821.3 1443.4 L824.6 1444.1 L827.9 1441.6 L831.2 1441.8 L834.5 1442 L837.8 1444.3 L841.1 1444 L844.4 1444.7 L847.7 1443.7 L851 1445.1 L854.3 1443.1 L857.6 1443.2 L860.9 1444.1 L864.2 1443.3 L867.5 1443.4 L870.8 1444.5 L874.1 1442.4 L877.3 1440.8 L880.6 1442.2 L883.9 1443.9 L887.2 1444.4 L890.5 1443.2 L893.8 1442.4 L897.1 1442.8 L900.4 1442.5 L903.7 1444.4 L907 1441.9 L910.3 1445.7 L913.6 1443.7 L916.9 1441.6 L920.2 1445 L923.5 1442.7 L926.8 1441.2 L930.1 1442.8 L933.4 1441.7 L936.7 1441.9 L940 1443.7 L943.3 1445 L946.6 1442 L949.9 1442.3 L953.2 1440.6 L956.5 1440.1 L959.7 1440.1 L963 1441 L966.3 1442.2 L969.6 1442 L972.9 1441.5 L976.2 1440.6 L979.5 1441.5 L982.8 1439.7 L986.1 1439.8 L989.4 1437.8 L992.7 1438.9 L996 1437.2 L999.3 1437.3 L1002.6 1438.2 L1005.9 1436.6 L1009.2 1435.8 L1012.5 1435.9 L1015.8 1431.5 L1019.1 1433.6 L1022.4 1433.1 L1025.7 1430.2 L1029 1429.2 L1032.3 1423.9 L1035.6 1422.3 L1038.9 1418.1 L1042.1 1417.4 L1045.4 1414.1 L1048.7 1412.1 L1052 1412.5 L1055.3 1407.8 L1058.6 1406.5 L1061.9 1407.2 L1065.2 1408.1 L1068.5 1404.2 L1071.8 1405.4 L1075.1 1406 L1078.4 1404.1 L1081.7 1399.6 L1085 1397.2 L1088.3 1397.9 L1091.6 1396 L1094.9 1394.9 L1098.2 1395.6 L1101.5 1397.3 L1104.8 1397 L1108.1 1396.3 L1111.4 1396.1 L1114.7 1394.9 L1118 1396 L1121.3 1401 L1124.5 1404.6 L1127.8 1404.5 L1131.1 1407.1 L1134.4 1408.6 L1137.7 1412.5 L1141 1415.4 L1144.3 1418.3 L1147.6 1419.1 L1150.9 1420.1 L1154.2 1419.3 L1157.5 1420.3 L1160.8 1420.7 L1164.1 1420.3 L1167.4 1424.1 L1170.7 1424.9 L1174 1426 L1177.3 1427 L1180.6 1423.9 L1183.9 1427 L1187.2 1427.2 L1190.5 1426.9 L1193.8 1430.7 L1197.1 1431.6 L1200.4 1430.2 L1203.7 1431.4 L1206.9 1433.4 L1210.2 1434.2 L1213.5 1434 L1216.8 1434.5 L1220.1 1435.5 L1223.4 1436.8 L1226.7 1436.7 L1230 1437.7 L1233.3 1436.5 L1236.6 1440.2 L1239.9 1440.1 L1243.2 1440.1 L1246.5 1439.9 L1249.8 1441.4 L1253.1 1440.5 L1256.4 1441.3 L1259.7 1440.4 L1263 1441.3 L1266.3 1441.2 L1269.6 1442.7 L1272.9 1441.7 L1276.2 1442.8 L1279.5 1443.8 L1282.8 1441.3 L1286.1 1441.7 L1289.3 1442.2 L1292.6 1443.2 L1295.9 1444.5 L1299.2 1445.3 L1302.5 1445.9 L1305.8 1444.4 L1309.1 1447.1 L1312.4 1444.8 L1315.7 1445.7 L1319 1446.6 L1322.3 1447 L1325.6 1445.6 L1328.9 1445.5 L1328.9 1494.5 Z" fill="url(#Gb)"/>
<path d="M752.1 1494.5 L752.1 1443.7 L755.4 1443.6 L758.7 1443.1 L762 1442.4 L765.3 1442.9 L768.6 1441.2 L771.9 1443.1 L775.2 1441 L778.5 1443 L781.8 1443.5 L785.1 1443 L788.4 1443.5 L791.7 1443.9 L794.9 1445.7 L798.2 1444.2 L801.5 1445.2 L804.8 1443.4 L808.1 1443.4 L811.4 1444.3 L814.7 1444.7 L818 1443.8 L821.3 1443.4 L824.6 1444.1 L827.9 1441.6 L831.2 1441.8 L834.5 1442 L837.8 1444.3 L841.1 1444 L844.4 1444.7 L847.7 1443.7 L851 1445.1 L854.3 1443.1 L857.6 1443.2 L860.9 1444.1 L864.2 1443.3 L867.5 1443.4 L870.8 1444.5 L874.1 1442.4 L877.3 1440.8 L880.6 1442.2 L883.9 1443.9 L887.2 1444.4 L890.5 1443.2 L893.8 1442.4 L897.1 1442.8 L900.4 1442.5 L903.7 1444.4 L907 1441.9 L910.3 1445.7 L913.6 1443.7 L916.9 1441.6 L920.2 1445 L923.5 1442.7 L926.8 1441.2 L930.1 1442.8 L933.4 1441.7 L936.7 1441.9 L940 1443.7 L943.3 1445 L946.6 1442 L949.9 1442.3 L953.2 1440.6 L956.5 1440.1 L959.7 1440.1 L963 1441 L966.3 1442.2 L969.6 1442 L972.9 1441.5 L976.2 1440.6 L979.5 1441.5 L982.8 1439.7 L986.1 1439.8 L989.4 1437.8 L992.7 1438.9 L996 1437.2 L999.3 1437.3 L1002.6 1438.2 L1005.9 1436.6 L1009.2 1435.8 L1012.5 1435.9 L1015.8 1431.5 L1019.1 1433.6 L1022.4 1433.1 L1025.7 1430.2 L1029 1429.2 L1032.3 1423.9 L1035.6 1422.3 L1038.9 1418.1 L1042.1 1417.4 L1045.4 1414.1 L1048.7 1412.1 L1052 1412.5 L1055.3 1407.8 L1058.6 1406.5 L1061.9 1407.2 L1065.2 1408.1 L1068.5 1404.2 L1071.8 1405.4 L1075.1 1406 L1078.4 1404.1 L1081.7 1399.6 L1085 1397.2 L1088.3 1397.9 L1091.6 1396 L1094.9 1394.9 L1098.2 1395.6 L1101.5 1397.3 L1104.8 1397 L1108.1 1396.3 L1111.4 1396.1 L1114.7 1394.9 L1118 1396 L1121.3 1401 L1124.5 1404.6 L1127.8 1404.5 L1131.1 1407.1 L1134.4 1408.6 L1137.7 1412.5 L1141 1415.4 L1144.3 1418.3 L1147.6 1419.1 L1150.9 1420.1 L1154.2 1419.3 L1157.5 1420.3 L1160.8 1420.7 L1164.1 1420.3 L1167.4 1424.1 L1170.7 1424.9 L1174 1426 L1177.3 1427 L1180.6 1423.9 L1183.9 1427 L1187.2 1427.2 L1190.5 1426.9 L1193.8 1430.7 L1197.1 1431.6 L1200.4 1430.2 L1203.7 1431.4 L1206.9 1433.4 L1210.2 1434.2 L1213.5 1434 L1216.8 1434.5 L1220.1 1435.5 L1223.4 1436.8 L1226.7 1436.7 L1230 1437.7 L1233.3 1436.5 L1236.6 1440.2 L1239.9 1440.1 L1243.2 1440.1 L1246.5 1439.9 L1249.8 1441.4 L1253.1 1440.5 L1256.4 1441.3 L1259.7 1440.4 L1263 1441.3 L1266.3 1441.2 L1269.6 1442.7 L1272.9 1441.7 L1276.2 1442.8 L1279.5 1443.8 L1282.8 1441.3 L1286.1 1441.7 L1289.3 1442.2 L1292.6 1443.2 L1295.9 1444.5 L1299.2 1445.3 L1302.5 1445.9 L1305.8 1444.4 L1309.1 1447.1 L1312.4 1444.8 L1315.7 1445.7 L1319 1446.6 L1322.3 1447 L1325.6 1445.6 L1328.9 1445.5 L1328.9 1494.5" fill="none" stroke="#0000d2" stroke-width="1.5" stroke-linejoin="round"/>
<path d="M752.1 1494.2 H1328.9" fill="none" stroke="#000" stroke-opacity="0.13" stroke-width="1"/>
<path d="M730.5 1525.7 L730.5 1497.9 L733.8 1496.2 L737.1 1496.9 L740.4 1497.7 L743.7 1497.8 L747 1497.7 L750.3 1498.6 L753.6 1497.1 L756.8 1499 L760.1 1499.8 L763.4 1499 L766.7 1497.8 L770 1497.3 L773.3 1499 L776.6 1498.3 L779.9 1496 L783.2 1497.8 L786.5 1497.8 L789.8 1498.2 L793.1 1497.3 L796.4 1495.9 L799.7 1497.9 L802.9 1497.5 L806.2 1496.6 L809.5 1497.8 L812.8 1497.9 L816.1 1498.1 L819.4 1497.6 L822.7 1498.5 L826 1497.2 L829.3 1498.3 L832.6 1499.1 L835.9 1497.4 L839.2 1497.1 L842.5 1497.7 L845.8 1498.1 L849.1 1496.4 L852.3 1499.7 L855.6 1498.6 L858.9 1497.3 L862.2 1498.8 L865.5 1497.7 L868.8 1497.3 L872.1 1497.8 L875.4 1497.5 L878.7 1497.6 L882 1498.5 L885.3 1497.4 L888.6 1497.7 L891.9 1496.1 L895.2 1497 L898.5 1499.1 L901.7 1497.7 L905 1498.2 L908.3 1498 L911.6 1496.7 L914.9 1498.1 L918.2 1497.6 L921.5 1496.9 L924.8 1496.9 L928.1 1499.1 L931.4 1496.8 L934.7 1498 L938 1498.3 L941.3 1498.2 L944.6 1496.6 L947.8 1497.3 L951.1 1497.4 L954.4 1497 L957.7 1495.8 L961 1496.9 L964.3 1496.7 L967.6 1496.3 L970.9 1496.9 L974.2 1494.7 L977.5 1495.8 L980.8 1492.8 L984.1 1493 L987.4 1494.6 L990.7 1492.3 L994 1490.4 L997.2 1491.4 L1000.5 1489.7 L1003.8 1487.6 L1007.1 1487.3 L1010.4 1488.5 L1013.7 1486.1 L1017 1486 L1020.3 1484.8 L1023.6 1483.3 L1026.9 1484.6 L1030.2 1485.6 L1033.5 1481.7 L1036.8 1481.8 L1040.1 1482.4 L1043.3 1481 L1046.6 1482.9 L1049.9 1479.8 L1053.2 1480.1 L1056.5 1481.5 L1059.8 1480.2 L1063.1 1480.4 L1066.4 1479.6 L1069.7 1479 L1073 1478.9 L1076.3 1479 L1079.6 1478.8 L1082.9 1481.6 L1086.2 1481.9 L1089.5 1480 L1092.7 1481.9 L1096 1482.9 L1099.3 1481.6 L1102.6 1482.8 L1105.9 1483.7 L1109.2 1484.1 L1112.5 1484.2 L1115.8 1485.2 L1119.1 1484.5 L1122.4 1484.4 L1125.7 1486.7 L1129 1486.9 L1132.3 1487.3 L1135.6 1487.2 L1138.8 1488.1 L1142.1 1489.7 L1145.4 1488.6 L1148.7 1491.1 L1152 1490.2 L1155.3 1490.7 L1158.6 1491.2 L1161.9 1490.8 L1165.2 1491.7 L1168.5 1491.1 L1171.8 1493 L1175.1 1492.5 L1178.4 1493.9 L1181.7 1490.6 L1185 1492.4 L1188.2 1493.7 L1191.5 1493.4 L1194.8 1492.7 L1198.1 1494.8 L1201.4 1494.8 L1204.7 1495.1 L1208 1492.9 L1211.3 1495.8 L1214.6 1495.5 L1217.9 1495.9 L1221.2 1494.7 L1224.5 1497 L1227.8 1496.6 L1231.1 1497.4 L1234.4 1494.8 L1237.6 1496.1 L1240.9 1496.6 L1244.2 1497.3 L1247.5 1497 L1250.8 1495.6 L1254.1 1498 L1257.4 1500 L1260.7 1498.5 L1264 1497.9 L1267.3 1499.9 L1270.6 1497.9 L1273.9 1499.4 L1277.2 1497.4 L1280.5 1497.8 L1283.7 1499.3 L1287 1498.8 L1290.3 1499.4 L1293.6 1499.6 L1296.9 1499.6 L1300.2 1499.8 L1303.5 1499.2 L1306.8 1499.9 L1306.8 1525.7 Z" fill="url(#Gg)"/>
<path d="M730.5 1525.7 L730.5 1497.9 L733.8 1496.2 L737.1 1496.9 L740.4 1497.7 L743.7 1497.8 L747 1497.7 L750.3 1498.6 L753.6 1497.1 L756.8 1499 L760.1 1499.8 L763.4 1499 L766.7 1497.8 L770 1497.3 L773.3 1499 L776.6 1498.3 L779.9 1496 L783.2 1497.8 L786.5 1497.8 L789.8 1498.2 L793.1 1497.3 L796.4 1495.9 L799.7 1497.9 L802.9 1497.5 L806.2 1496.6 L809.5 1497.8 L812.8 1497.9 L816.1 1498.1 L819.4 1497.6 L822.7 1498.5 L826 1497.2 L829.3 1498.3 L832.6 1499.1 L835.9 1497.4 L839.2 1497.1 L842.5 1497.7 L845.8 1498.1 L849.1 1496.4 L852.3 1499.7 L855.6 1498.6 L858.9 1497.3 L862.2 1498.8 L865.5 1497.7 L868.8 1497.3 L872.1 1497.8 L875.4 1497.5 L878.7 1497.6 L882 1498.5 L885.3 1497.4 L888.6 1497.7 L891.9 1496.1 L895.2 1497 L898.5 1499.1 L901.7 1497.7 L905 1498.2 L908.3 1498 L911.6 1496.7 L914.9 1498.1 L918.2 1497.6 L921.5 1496.9 L924.8 1496.9 L928.1 1499.1 L931.4 1496.8 L934.7 1498 L938 1498.3 L941.3 1498.2 L944.6 1496.6 L947.8 1497.3 L951.1 1497.4 L954.4 1497 L957.7 1495.8 L961 1496.9 L964.3 1496.7 L967.6 1496.3 L970.9 1496.9 L974.2 1494.7 L977.5 1495.8 L980.8 1492.8 L984.1 1493 L987.4 1494.6 L990.7 1492.3 L994 1490.4 L997.2 1491.4 L1000.5 1489.7 L1003.8 1487.6 L1007.1 1487.3 L1010.4 1488.5 L1013.7 1486.1 L1017 1486 L1020.3 1484.8 L1023.6 1483.3 L1026.9 1484.6 L1030.2 1485.6 L1033.5 1481.7 L1036.8 1481.8 L1040.1 1482.4 L1043.3 1481 L1046.6 1482.9 L1049.9 1479.8 L1053.2 1480.1 L1056.5 1481.5 L1059.8 1480.2 L1063.1 1480.4 L1066.4 1479.6 L1069.7 1479 L1073 1478.9 L1076.3 1479 L1079.6 1478.8 L1082.9 1481.6 L1086.2 1481.9 L1089.5 1480 L1092.7 1481.9 L1096 1482.9 L1099.3 1481.6 L1102.6 1482.8 L1105.9 1483.7 L1109.2 1484.1 L1112.5 1484.2 L1115.8 1485.2 L1119.1 1484.5 L1122.4 1484.4 L1125.7 1486.7 L1129 1486.9 L1132.3 1487.3 L1135.6 1487.2 L1138.8 1488.1 L1142.1 1489.7 L1145.4 1488.6 L1148.7 1491.1 L1152 1490.2 L1155.3 1490.7 L1158.6 1491.2 L1161.9 1490.8 L1165.2 1491.7 L1168.5 1491.1 L1171.8 1493 L1175.1 1492.5 L1178.4 1493.9 L1181.7 1490.6 L1185 1492.4 L1188.2 1493.7 L1191.5 1493.4 L1194.8 1492.7 L1198.1 1494.8 L1201.4 1494.8 L1204.7 1495.1 L1208 1492.9 L1211.3 1495.8 L1214.6 1495.5 L1217.9 1495.9 L1221.2 1494.7 L1224.5 1497 L1227.8 1496.6 L1231.1 1497.4 L1234.4 1494.8 L1237.6 1496.1 L1240.9 1496.6 L1244.2 1497.3 L1247.5 1497 L1250.8 1495.6 L1254.1 1498 L1257.4 1500 L1260.7 1498.5 L1264 1497.9 L1267.3 1499.9 L1270.6 1497.9 L1273.9 1499.4 L1277.2 1497.4 L1280.5 1497.8 L1283.7 1499.3 L1287 1498.8 L1290.3 1499.4 L1293.6 1499.6 L1296.9 1499.6 L1300.2 1499.8 L1303.5 1499.2 L1306.8 1499.9 L1306.8 1525.7" fill="none" stroke="#156e15" stroke-width="1.6" stroke-linejoin="round"/>
<path d="M730.5 1525.4 H1306.8" fill="none" stroke="#000" stroke-opacity="0.13" stroke-width="1"/>
<path d="M712.7 1555.8 L712.7 1270.8 L821.9 1115.3 L1390.6 1115.3 L1390.6 1401.6 L1281.4 1555.8 Z" fill="none" stroke="#000" stroke-width="1.75" stroke-linejoin="miter"/>
<line x1="712.7" y1="1555.8" x2="712.7" y2="1551" stroke="#000" stroke-width="1.5" />
<line x1="854.9" y1="1555.8" x2="854.9" y2="1551" stroke="#000" stroke-width="1.5" />
<line x1="997.1" y1="1555.8" x2="997.1" y2="1551" stroke="#000" stroke-width="1.5" />
<line x1="1139.2" y1="1555.8" x2="1139.2" y2="1551" stroke="#000" stroke-width="1.5" />
<line x1="1281.4" y1="1555.8" x2="1281.4" y2="1551" stroke="#000" stroke-width="1.5" />
<line x1="748.2" y1="1555.8" x2="748.2" y2="1552.8" stroke="#000" stroke-width="1.3" />
<line x1="783.8" y1="1555.8" x2="783.8" y2="1552.8" stroke="#000" stroke-width="1.3" />
<line x1="819.3" y1="1555.8" x2="819.3" y2="1552.8" stroke="#000" stroke-width="1.3" />
<line x1="890.4" y1="1555.8" x2="890.4" y2="1552.8" stroke="#000" stroke-width="1.3" />
<line x1="926" y1="1555.8" x2="926" y2="1552.8" stroke="#000" stroke-width="1.3" />
<line x1="961.5" y1="1555.8" x2="961.5" y2="1552.8" stroke="#000" stroke-width="1.3" />
<line x1="1032.6" y1="1555.8" x2="1032.6" y2="1552.8" stroke="#000" stroke-width="1.3" />
<line x1="1068.1" y1="1555.8" x2="1068.1" y2="1552.8" stroke="#000" stroke-width="1.3" />
<line x1="1103.7" y1="1555.8" x2="1103.7" y2="1552.8" stroke="#000" stroke-width="1.3" />
<line x1="1174.8" y1="1555.8" x2="1174.8" y2="1552.8" stroke="#000" stroke-width="1.3" />
<line x1="1210.3" y1="1555.8" x2="1210.3" y2="1552.8" stroke="#000" stroke-width="1.3" />
<line x1="1245.9" y1="1555.8" x2="1245.9" y2="1552.8" stroke="#000" stroke-width="1.3" />
<text transform="translate(711.9 1589.4) scale(0.975 1)" font-size="37.0" text-anchor="middle">46</text>
<text transform="translate(854.1 1589.4) scale(0.975 1)" font-size="37.0" text-anchor="middle">44</text>
<text transform="translate(996.3 1589.4) scale(0.975 1)" font-size="37.0" text-anchor="middle">42</text>
<text transform="translate(1138.4 1589.4) scale(0.975 1)" font-size="37.0" text-anchor="middle">40</text>
<text transform="translate(1280.6 1589.4) scale(0.975 1)" font-size="37.0" text-anchor="middle">38</text>
<path d="M1103.6 1213 L1084.5 1300 L1062 1401.6 L1049.4 1457.5 L1042.5 1486.5 L1042.5 1521.8" fill="none" stroke="#0404f0" stroke-width="5.5" stroke-linecap="round" stroke-linejoin="round"/>
<path d="M1150.2 1174 L1121.8 1300 L1101 1401.6 L1088.5 1457.5 L1081.2 1486 L1081.2 1521.8" fill="none" stroke="#fb1010" stroke-width="5.5" stroke-linecap="round" stroke-linejoin="round"/>
<text transform="translate(828.5 1179.1) scale(1.0204 1)" font-size="60" fill="#000" font-weight="bold">(f)</text>
<text transform="translate(904.3 1191.5) scale(0.9181 1)" font-size="37.6" fill="#0404f0" font-weight="bold">As (Oxidized)</text>
<text transform="translate(1163.7 1156.5) scale(0.9085 1)" font-size="37.6" fill="#fb1010" font-weight="bold">As (InGaAs)</text>
<text transform="translate(815.5 1637.1) scale(0.9766 1)" font-size="39.2" fill="#000" font-weight="bold">Binding Energy (eV)</text>
<text transform="translate(1409.6 1128.6) rotate(90) scale(0.951 1)" font-size="42.0" font-weight="bold">Intensity (a.u)</text>
<text transform="matrix(1.0 0 -0.54 0.83 1305.8 1536.4)" font-size="36.8">20</text>
<text transform="matrix(1.0 0 -0.54 0.83 1328.6 1505.9)" font-size="36.8">43.3</text>
<text transform="matrix(1.0 0 -0.54 0.83 1351.4 1475.4)" font-size="36.8">66.7</text>
<text transform="matrix(1.0 0 -0.54 0.83 1374.2 1444.9)" font-size="36.8">90</text>
<text transform="matrix(0.588 -0.833 1.09 0.0 1423 1542.5)" font-size="38" font-weight="bold" stroke="#000" stroke-width="0.5">Take-Off</text>
<text transform="matrix(0.588 -0.833 1.09 0.0 1471.3 1544.5)" font-size="38" font-weight="bold" stroke="#000" stroke-width="0.5">Angle (°)</text></g>
</svg>
</body>
</html>
